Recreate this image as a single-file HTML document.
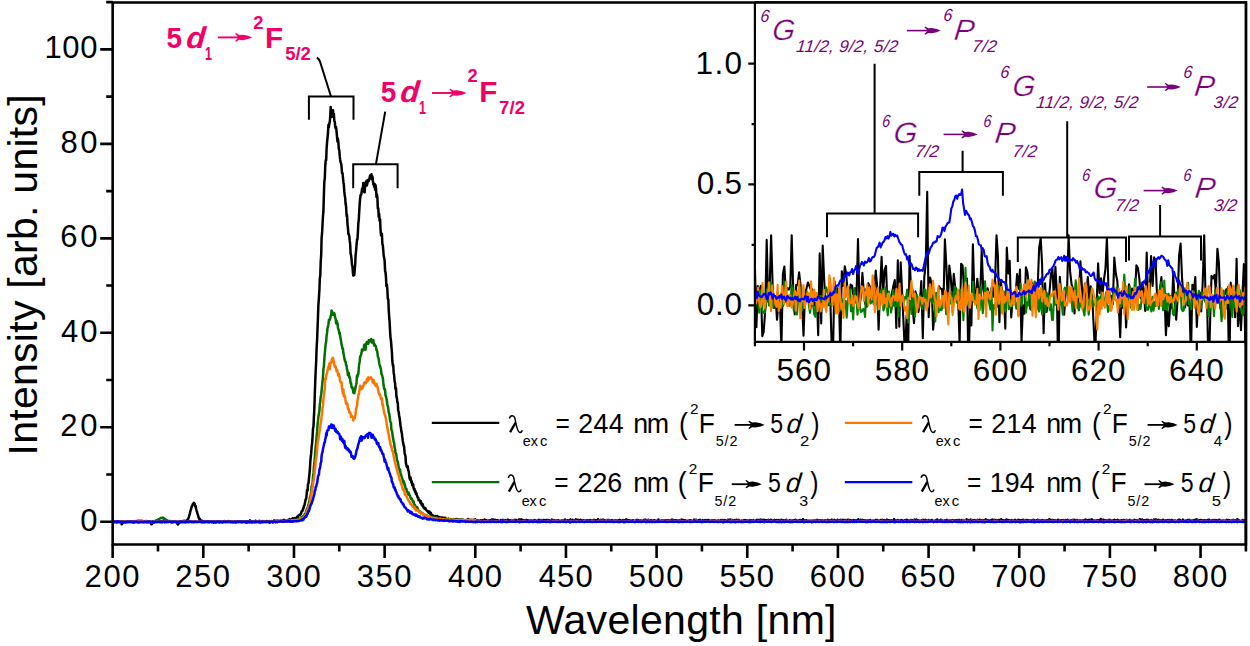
<!DOCTYPE html><html><head><meta charset="utf-8"><style>html,body{margin:0;padding:0;background:#fff;overflow:hidden}svg{display:block}text{font-family:"Liberation Sans",sans-serif}</style></head><body><svg width="1250" height="646" viewBox="0 0 1250 646" font-family="Liberation Sans, sans-serif">
<rect width="1250" height="646" fill="#fff"/>
<defs><clipPath id="cm"><rect x="112.65" y="2.5" width="1133.3" height="542"/></clipPath><clipPath id="ci"><rect x="754.9" y="2.5" width="491" height="339.3"/></clipPath></defs>
<g clip-path="url(#cm)">
<polyline points="112.7,521.8 113.1,521.3 113.6,521.3 114.0,522.0 114.5,521.9 114.9,522.0 115.4,521.6 115.8,521.8 116.3,521.5 116.7,522.5 117.2,521.2 117.6,521.8 118.1,521.5 118.5,521.9 119.0,521.9 119.4,521.6 119.9,521.5 120.4,522.1 120.8,522.6 121.3,523.2 121.7,524.3 122.2,524.0 122.6,522.4 123.1,522.3 123.5,522.6 124.0,522.1 124.4,522.0 124.9,522.3 125.3,522.4 125.8,521.8 126.2,521.5 126.7,521.9 127.2,522.1 127.6,521.7 128.1,521.5 128.5,521.9 129.0,521.6 129.4,521.4 129.9,521.9 130.3,522.1 130.8,521.7 131.2,521.7 131.7,521.4 132.1,522.3 132.6,522.1 133.0,522.1 133.5,522.5 134.0,521.8 134.4,521.6 134.9,522.1 135.3,521.3 135.8,521.5 136.2,521.6 136.7,521.6 137.1,521.4 137.6,522.3 138.0,521.6 138.5,521.6 138.9,522.5 139.4,521.7 139.8,521.9 140.3,521.5 140.8,522.0 141.2,521.8 141.7,521.7 142.1,522.1 142.6,521.6 143.0,521.8 143.5,521.6 143.9,522.0 144.4,521.4 144.8,521.6 145.3,521.9 145.7,521.6 146.2,521.3 146.6,521.1 147.1,522.4 147.6,521.5 148.0,521.6 148.5,521.8 148.9,522.2 149.4,521.3 149.8,522.3 150.3,521.8 150.7,522.2 151.2,524.2 151.6,524.3 152.1,524.1 152.5,522.6 153.0,521.5 153.4,521.1 153.9,522.5 154.4,522.0 154.8,521.5 155.3,521.2 155.7,521.6 156.2,522.1 156.6,521.7 157.1,521.8 157.5,521.9 158.0,522.1 158.4,521.7 158.9,521.7 159.3,521.8 159.8,521.9 160.2,522.3 160.7,522.0 161.2,521.3 161.6,521.9 162.1,522.3 162.5,521.3 163.0,521.6 163.4,521.0 163.9,521.8 164.3,522.0 164.8,522.3 165.2,521.3 165.7,520.8 166.1,522.1 166.6,522.0 167.0,521.6 167.5,522.1 168.0,521.9 168.4,521.9 168.9,521.7 169.3,521.4 169.8,521.8 170.2,521.5 170.7,522.0 171.1,521.7 171.6,522.6 172.0,522.3 172.5,521.5 172.9,522.0 173.4,521.6 173.8,521.6 174.3,521.3 174.8,521.5 175.2,521.4 175.7,521.8 176.1,522.1 176.6,522.3 177.0,522.8 177.5,524.1 177.9,524.4 178.4,523.7 178.8,522.6 179.3,522.2 179.7,522.6 180.2,521.8 180.6,521.7 181.1,521.4 181.6,521.6 182.0,522.0 182.5,522.1 182.9,521.0 183.4,521.4 183.8,521.0 184.3,520.8 184.7,521.9 185.2,521.3 185.6,521.1 186.1,520.8 186.5,520.5 187.0,520.2 187.4,519.6 187.9,519.8 188.4,518.1 188.8,517.4 189.3,515.5 189.7,514.4 190.2,512.1 190.6,510.2 191.1,508.9 191.5,507.2 192.0,505.9 192.4,505.1 192.9,504.0 193.3,503.7 193.8,502.8 194.2,503.4 194.7,503.7 195.1,506.3 195.6,505.8 196.1,508.7 196.5,510.3 197.0,511.7 197.4,513.6 197.9,514.5 198.3,516.5 198.8,518.0 199.2,518.9 199.7,518.6 200.1,519.9 200.6,521.1 201.0,520.9 201.5,521.9 201.9,520.6 202.4,522.2 202.9,521.4 203.3,521.5 203.8,522.3 204.2,521.6 204.7,521.4 205.1,521.6 205.6,521.7 206.0,521.4 206.5,521.7 206.9,521.7 207.4,521.8 207.8,521.6 208.3,522.2 208.7,521.5 209.2,522.0 209.7,522.2 210.1,521.7 210.6,521.2 211.0,521.4 211.5,522.0 211.9,521.5 212.4,522.0 212.8,521.8 213.3,521.8 213.7,522.7 214.2,521.7 214.6,522.2 215.1,522.1 215.5,522.4 216.0,522.4 216.5,522.2 216.9,521.5 217.4,521.2 217.8,521.8 218.3,521.4 218.7,521.9 219.2,522.5 219.6,521.7 220.1,521.6 220.5,522.0 221.0,521.7 221.4,521.6 221.9,522.1 222.3,522.4 222.8,521.9 223.3,521.9 223.7,521.9 224.2,521.4 224.6,521.1 225.1,522.0 225.5,521.5 226.0,521.4 226.4,521.5 226.9,521.4 227.3,521.9 227.8,521.5 228.2,521.0 228.7,521.5 229.1,522.0 229.6,521.6 230.1,521.3 230.5,521.7 231.0,522.0 231.4,521.2 231.9,522.3 232.3,521.6 232.8,521.8 233.2,522.3 233.7,521.3 234.1,521.7 234.6,522.2 235.0,521.6 235.5,522.0 235.9,522.5 236.4,522.1 236.9,521.7 237.3,521.6 237.8,521.7 238.2,521.8 238.7,521.6 239.1,521.9 239.6,521.4 240.0,521.7 240.5,521.7 240.9,521.6 241.4,522.2 241.8,522.1 242.3,521.2 242.7,521.7 243.2,521.9 243.7,521.7 244.1,522.0 244.6,521.7 245.0,522.1 245.5,521.7 245.9,522.4 246.4,521.3 246.8,522.0 247.3,522.4 247.7,521.9 248.2,521.9 248.6,521.7 249.1,522.2 249.5,521.6 250.0,520.4 250.5,522.3 250.9,521.7 251.4,521.9 251.8,521.7 252.3,522.5 252.7,522.2 253.2,521.6 253.6,521.8 254.1,521.2 254.5,522.1 255.0,521.7 255.4,520.7 255.9,522.1 256.3,522.1 256.8,521.8 257.3,521.8 257.7,521.5 258.2,521.8 258.6,522.1 259.1,521.7 259.5,520.8 260.0,521.3 260.4,522.9 260.9,521.8 261.3,522.1 261.8,521.5 262.2,521.8 262.7,521.0 263.1,521.4 263.6,521.4 264.1,521.7 264.5,521.7 265.0,521.6 265.4,521.2 265.9,521.5 266.3,521.8 266.8,521.1 267.2,521.6 267.7,521.7 268.1,521.9 268.6,521.8 269.0,521.8 269.5,522.8 269.9,521.1 270.4,521.3 270.8,521.6 271.3,521.0 271.8,521.3 272.2,521.3 272.7,522.5 273.1,521.5 273.6,521.1 274.0,520.6 274.5,520.5 274.9,520.6 275.4,521.8 275.8,522.2 276.3,520.9 276.7,521.2 277.2,520.7 277.6,521.2 278.1,521.0 278.6,521.8 279.0,520.8 279.5,521.2 279.9,520.8 280.4,520.7 280.8,520.9 281.3,520.7 281.7,520.8 282.2,520.4 282.6,520.5 283.1,521.0 283.5,521.0 284.0,519.8 284.4,520.6 284.9,520.1 285.4,520.3 285.8,520.8 286.3,520.8 286.7,520.3 287.2,520.2 287.6,520.0 288.1,520.9 288.5,520.4 289.0,520.1 289.4,519.1 289.9,521.1 290.3,519.5 290.8,519.9 291.2,519.3 291.7,519.6 292.2,519.0 292.6,518.2 293.1,518.8 293.5,518.6 294.0,518.5 294.4,518.9 294.9,518.0 295.3,518.3 295.8,518.5 296.2,517.8 296.7,517.7 297.1,516.8 297.6,517.0 298.0,517.1 298.5,515.5 299.0,515.4 299.4,514.8 299.9,514.8 300.3,514.6 300.8,514.0 301.2,513.1 301.7,511.2 302.1,510.7 302.6,510.8 303.0,508.6 303.5,508.5 303.9,505.9 304.4,505.5 304.8,503.9 305.3,501.0 305.8,499.2 306.2,498.5 306.7,493.9 307.1,489.9 307.6,490.6 308.0,484.1 308.5,483.3 308.9,479.2 309.4,474.3 309.8,470.7 310.3,462.0 310.7,457.3 311.2,453.2 311.6,447.0 312.1,443.3 312.6,436.3 313.0,428.7 313.5,426.2 313.9,417.1 314.4,407.7 314.8,394.1 315.3,379.7 315.7,370.7 316.2,360.6 316.6,348.4 317.1,339.8 317.5,329.3 318.0,316.2 318.4,304.8 318.9,297.8 319.4,289.6 319.8,279.1 320.3,275.1 320.7,261.8 321.2,254.8 321.6,238.1 322.1,232.7 322.5,224.8 323.0,216.0 323.4,211.7 323.9,194.5 324.3,182.2 324.8,178.2 325.2,166.7 325.7,160.2 326.2,160.1 326.6,148.5 327.1,141.6 327.5,138.0 328.0,132.7 328.4,125.1 328.9,127.1 329.3,123.8 329.8,121.6 330.2,117.3 330.7,106.9 331.1,109.9 331.6,117.1 332.0,112.7 332.5,113.7 333.0,110.2 333.4,116.4 333.9,113.7 334.3,121.2 334.8,121.5 335.2,126.6 335.7,128.4 336.1,127.0 336.6,132.1 337.0,136.5 337.5,141.6 337.9,138.6 338.4,142.8 338.8,148.6 339.3,150.4 339.8,156.7 340.2,159.9 340.7,162.8 341.1,163.3 341.6,167.0 342.0,173.1 342.5,173.2 342.9,176.9 343.4,182.2 343.8,184.2 344.3,191.4 344.7,195.1 345.2,198.1 345.6,203.8 346.1,206.6 346.6,216.0 347.0,214.6 347.5,224.3 347.9,227.4 348.4,234.3 348.8,233.9 349.3,236.2 349.7,240.4 350.2,244.6 350.6,253.4 351.1,255.5 351.5,258.9 352.0,265.0 352.4,265.9 352.9,272.4 353.3,275.6 353.8,274.8 354.3,275.0 354.7,270.1 355.2,264.1 355.6,255.4 356.1,250.8 356.5,245.5 357.0,239.6 357.4,239.8 357.9,232.3 358.3,223.7 358.8,219.5 359.2,211.8 359.7,203.4 360.1,198.8 360.6,195.0 361.1,194.8 361.5,193.4 362.0,188.8 362.4,190.7 362.9,187.5 363.3,183.0 363.8,185.8 364.2,191.9 364.7,192.4 365.1,186.0 365.6,182.4 366.0,182.3 366.5,180.8 366.9,185.5 367.4,183.3 367.9,180.1 368.3,181.4 368.8,180.8 369.2,179.4 369.7,177.7 370.1,175.5 370.6,178.3 371.0,176.8 371.5,174.3 371.9,179.3 372.4,176.5 372.8,179.9 373.3,184.4 373.7,183.8 374.2,186.9 374.7,184.1 375.1,189.8 375.6,185.2 376.0,188.5 376.5,197.0 376.9,194.5 377.4,197.6 377.8,208.5 378.3,208.3 378.7,216.6 379.2,213.7 379.6,220.7 380.1,219.5 380.5,229.0 381.0,235.5 381.5,233.5 381.9,233.8 382.4,244.2 382.8,245.1 383.3,250.7 383.7,255.8 384.2,258.0 384.6,260.3 385.1,271.1 385.5,272.2 386.0,277.6 386.4,286.1 386.9,284.6 387.3,288.4 387.8,299.0 388.3,299.1 388.7,309.3 389.2,317.3 389.6,321.9 390.1,331.6 390.5,337.6 391.0,340.9 391.4,346.4 391.9,352.0 392.3,360.7 392.8,365.4 393.2,364.9 393.7,372.7 394.1,375.0 394.6,381.1 395.1,383.5 395.5,389.1 396.0,388.1 396.4,396.1 396.9,398.2 397.3,401.9 397.8,403.2 398.2,410.6 398.7,411.9 399.1,415.5 399.6,417.7 400.0,421.0 400.5,425.5 400.9,427.7 401.4,431.6 401.9,433.5 402.3,437.3 402.8,441.0 403.2,443.2 403.7,445.7 404.1,446.3 404.6,452.9 405.0,454.8 405.5,456.1 405.9,463.1 406.4,465.1 406.8,466.6 407.3,467.3 407.7,466.1 408.2,470.3 408.7,471.1 409.1,474.3 409.6,478.3 410.0,479.6 410.5,477.4 410.9,479.6 411.4,482.6 411.8,481.3 412.3,485.3 412.7,483.8 413.2,484.7 413.6,488.2 414.1,489.7 414.5,488.9 415.0,491.9 415.5,491.1 415.9,494.1 416.4,493.2 416.8,494.9 417.3,496.3 417.7,497.7 418.2,497.5 418.6,500.3 419.1,499.7 419.5,500.6 420.0,500.5 420.4,502.9 420.9,501.2 421.3,503.7 421.8,505.1 422.3,503.7 422.7,504.2 423.2,506.4 423.6,507.6 424.1,507.5 424.5,508.7 425.0,509.0 425.4,508.1 425.9,509.5 426.3,510.2 426.8,510.5 427.2,511.2 427.7,511.0 428.1,511.4 428.6,512.7 429.0,512.8 429.5,511.6 430.0,513.4 430.4,514.1 430.9,513.0 431.3,514.7 431.8,515.7 432.2,514.8 432.7,516.1 433.1,516.1 433.6,515.8 434.0,516.2 434.5,516.8 434.9,516.8 435.4,517.0 435.8,516.1 436.3,517.4 436.8,517.4 437.2,516.0 437.7,517.7 438.1,516.6 438.6,516.8 439.0,517.8 439.5,518.6 439.9,517.6 440.4,517.6 440.8,517.5 441.3,518.1 441.7,517.6 442.2,517.5 442.6,519.0 443.1,517.7 443.6,518.4 444.0,518.9 444.5,518.9 444.9,517.7 445.4,518.2 445.8,519.9 446.3,518.9 446.7,519.1 447.2,519.1 447.6,519.4 448.1,520.0 448.5,518.7 449.0,519.8 449.4,519.5 449.9,519.7 450.4,519.8 450.8,519.0 451.3,519.3 451.7,519.9 452.2,520.1 452.6,519.9 453.1,519.1 453.5,519.6 454.0,519.6 454.4,519.9 454.9,519.9 455.3,519.7 455.8,520.8 456.2,519.0 456.7,520.3 457.2,520.2 457.6,519.2 458.1,519.8 458.5,519.9 459.0,520.3 459.4,520.8 459.9,519.9 460.3,519.4 460.8,520.5 461.2,519.4 461.7,520.7 462.1,520.5 462.6,519.9 463.0,520.1 463.5,519.8 464.0,520.6 464.4,520.7 464.9,521.2 465.3,520.8 465.8,520.8 466.2,521.0 466.7,520.1 467.1,520.6 467.6,521.3 468.0,519.0 468.5,520.7 468.9,521.0 469.4,519.7 469.8,519.7 470.3,520.9 470.8,521.1 471.2,520.9 471.7,519.8 472.1,520.5 472.6,520.8 473.0,520.4 473.5,519.8 473.9,521.1 474.4,520.6 474.8,521.1 475.3,519.3 475.7,519.7 476.2,520.1 476.6,520.7 477.1,520.3 477.6,521.7 478.0,520.5 478.5,521.3 478.9,521.3 479.4,521.0 479.8,520.8 480.3,520.3 480.7,520.3 481.2,520.5 481.6,521.1 482.1,520.3 482.5,520.7 483.0,520.0 483.4,521.1 483.9,522.0 484.4,520.9 484.8,519.6 485.3,520.4 485.7,520.7 486.2,520.2 486.6,520.4 487.1,520.4 487.5,520.9 488.0,520.6 488.4,520.5 488.9,520.9 489.3,521.2 489.8,520.5 490.2,520.1 490.7,520.3 491.2,520.4 491.6,520.4 492.1,519.3 492.5,520.5 493.0,520.1 493.4,519.6 493.9,520.6 494.3,520.5 494.8,520.1 495.2,519.8 495.7,520.5 496.1,520.4 496.6,520.6 497.0,521.2 497.5,520.1 498.0,520.7 498.4,521.5 498.9,520.7 499.3,521.5 499.8,521.1 500.2,520.6 500.7,521.1 501.1,520.1 501.6,521.3 502.0,520.5 502.5,520.3 502.9,519.9 503.4,520.2 503.8,520.5 504.3,520.6 504.8,520.6 505.2,520.0 505.7,520.9 506.1,520.4 506.6,520.7 507.0,520.5 507.5,520.7 507.9,519.6 508.4,520.9 508.8,520.5 509.3,520.5 509.7,520.3 510.2,520.4 510.6,520.4 511.1,520.1 511.5,521.4 512.0,520.6 512.5,521.2 512.9,520.5 513.4,521.2 513.8,521.1 514.3,520.6 514.7,519.9 515.2,520.3 515.6,520.5 516.1,519.9 516.5,521.1 517.0,521.7 517.4,520.8 517.9,520.8 518.3,520.0 518.8,519.6 519.3,521.3 519.7,519.4 520.2,519.8 520.6,520.2 521.1,520.4 521.5,519.4 522.0,520.6 522.4,520.8 522.9,520.5 523.3,521.3 523.8,520.4 524.2,520.7 524.7,520.4 525.1,520.4 525.6,521.1 526.1,520.0 526.5,521.1 527.0,520.2 527.4,521.4 527.9,520.4 528.3,521.0 528.8,520.6 529.2,520.9 529.7,521.7 530.1,521.2 530.6,520.6 531.0,520.3 531.5,521.3 531.9,521.7 532.4,521.0 532.9,520.7 533.3,520.9 533.8,521.0 534.2,520.2 534.7,520.1 535.1,520.2 535.6,521.1 536.0,520.6 536.5,520.7 536.9,521.3 537.4,520.2 537.8,520.6 538.3,520.9 538.7,519.9 539.2,520.2 539.7,520.2 540.1,520.0 540.6,520.3 541.0,521.2 541.5,520.8 541.9,520.1 542.4,521.0 542.8,520.6 543.3,520.4 543.7,519.9 544.2,520.0 544.6,520.2 545.1,520.7 545.5,520.2 546.0,520.3 546.5,520.7 546.9,519.9 547.4,520.4 547.8,521.0 548.3,520.0 548.7,520.7 549.2,520.3 549.6,521.4 550.1,520.6 550.5,521.1 551.0,521.1 551.4,521.6 551.9,519.6 552.3,520.7 552.8,520.5 553.3,520.1 553.7,520.7 554.2,520.4 554.6,521.3 555.1,520.5 555.5,520.8 556.0,520.4 556.4,520.5 556.9,521.3 557.3,521.5 557.8,521.1 558.2,520.2 558.7,520.4 559.1,520.4 559.6,521.6 560.1,521.9 560.5,520.9 561.0,520.8 561.4,520.9 561.9,520.4 562.3,520.7 562.8,521.2 563.2,521.1 563.7,520.5 564.1,520.6 564.6,520.7 565.0,519.5 565.5,520.7 565.9,520.6 566.4,521.1 566.9,520.8 567.3,520.4 567.8,520.3 568.2,520.7 568.7,520.4 569.1,520.6 569.6,521.6 570.0,522.2 570.5,519.5 570.9,520.2 571.4,520.6 571.8,521.5 572.3,521.3 572.7,519.9 573.2,522.0 573.7,520.8 574.1,520.2 574.6,520.5 575.0,520.2 575.5,520.7 575.9,519.4 576.4,521.1 576.8,521.3 577.3,520.5 577.7,519.9 578.2,520.6 578.6,520.1 579.1,520.9 579.5,521.2 580.0,519.9 580.5,519.8 580.9,519.9 581.4,520.8 581.8,521.2 582.3,521.2 582.7,520.7 583.2,520.3 583.6,520.4 584.1,521.3 584.5,520.5 585.0,520.6 585.4,520.6 585.9,520.6 586.3,520.7 586.8,520.3 587.2,520.6 587.7,520.5 588.2,521.0 588.6,520.4 589.1,520.7 589.5,521.7 590.0,520.4 590.4,520.7 590.9,520.2 591.3,520.7 591.8,520.7 592.2,520.5 592.7,520.6 593.1,520.8 593.6,521.5 594.0,519.7 594.5,521.4 595.0,520.8 595.4,520.3 595.9,520.4 596.3,520.3 596.8,520.2 597.2,520.0 597.7,520.5 598.1,519.2 598.6,521.1 599.0,520.5 599.5,520.8 599.9,520.9 600.4,520.5 600.8,519.9 601.3,521.0 601.8,521.0 602.2,520.3 602.7,520.3 603.1,519.6 603.6,520.1 604.0,520.5 604.5,520.8 604.9,520.5 605.4,520.7 605.8,521.3 606.3,520.6 606.7,520.7 607.2,520.7 607.6,520.8 608.1,519.8 608.6,520.3 609.0,520.2 609.5,520.9 609.9,521.1 610.4,520.8 610.8,520.5 611.3,520.8 611.7,520.7 612.2,520.1 612.6,520.5 613.1,521.1 613.5,520.8 614.0,520.9 614.4,520.5 614.9,521.2 615.4,520.7 615.8,520.3 616.3,520.6 616.7,521.1 617.2,520.9 617.6,520.6 618.1,520.4 618.5,520.2 619.0,520.7 619.4,521.3 619.9,519.9 620.3,520.5 620.8,520.4 621.2,520.5 621.7,521.1 622.2,520.8 622.6,520.5 623.1,520.1 623.5,520.6 624.0,522.2 624.4,520.7 624.9,520.4 625.3,520.0 625.8,520.3 626.2,519.4 626.7,519.9 627.1,520.0 627.6,520.2 628.0,521.3 628.5,520.2 629.0,520.3 629.4,520.9 629.9,520.3 630.3,520.4 630.8,520.8 631.2,520.7 631.7,520.7 632.1,520.5 632.6,520.8 633.0,520.3 633.5,521.6 633.9,520.8 634.4,521.5 634.8,520.9 635.3,520.4 635.8,520.6 636.2,520.7 636.7,520.6 637.1,519.8 637.6,521.2 638.0,520.2 638.5,521.4 638.9,520.9 639.4,520.5 639.8,521.0 640.3,520.5 640.7,520.3 641.2,521.2 641.6,520.7 642.1,520.8 642.6,521.6 643.0,520.7 643.5,521.0 643.9,520.0 644.4,521.1 644.8,519.8 645.3,520.9 645.7,519.7 646.2,520.4 646.6,520.4 647.1,520.2 647.5,520.2 648.0,519.9 648.4,519.8 648.9,520.8 649.4,521.2 649.8,521.9 650.3,520.8 650.7,520.2 651.2,520.4 651.6,520.6 652.1,520.8 652.5,520.9 653.0,520.8 653.4,520.4 653.9,521.5 654.3,520.3 654.8,521.3 655.2,520.7 655.7,520.9 656.2,520.8 656.6,521.1 657.1,521.2 657.5,520.7 658.0,521.2 658.4,519.4 658.9,520.8 659.3,520.9 659.8,520.9 660.2,521.2 660.7,521.8 661.1,520.7 661.6,520.5 662.0,521.4 662.5,520.6 663.0,521.2 663.4,520.6 663.9,520.4 664.3,520.4 664.8,520.4 665.2,521.0 665.7,520.2 666.1,520.8 666.6,520.4 667.0,520.3 667.5,520.8 667.9,521.3 668.4,520.3 668.8,521.2 669.3,521.1 669.7,521.2 670.2,520.2 670.7,520.7 671.1,521.7 671.6,520.3 672.0,519.6 672.5,519.7 672.9,520.9 673.4,520.6 673.8,520.4 674.3,520.2 674.7,520.6 675.2,521.2 675.6,520.2 676.1,520.3 676.5,521.3 677.0,520.8 677.5,520.5 677.9,520.6 678.4,520.4 678.8,520.2 679.3,520.4 679.7,520.7 680.2,521.3 680.6,520.3 681.1,519.9 681.5,519.6 682.0,520.6 682.4,520.6 682.9,519.9 683.3,519.9 683.8,520.5 684.3,520.3 684.7,521.0 685.2,520.3 685.6,521.0 686.1,520.7 686.5,520.7 687.0,520.9 687.4,521.7 687.9,521.0 688.3,520.5 688.8,520.7 689.2,520.8 689.7,520.4 690.1,520.3 690.6,520.2 691.1,521.0 691.5,520.6 692.0,520.8 692.4,521.1 692.9,521.4 693.3,520.7 693.8,521.1 694.2,519.6 694.7,520.7 695.1,520.7 695.6,520.8 696.0,519.7 696.5,521.1 696.9,520.7 697.4,521.0 697.9,520.7 698.3,520.6 698.8,520.1 699.2,521.3 699.7,520.6 700.1,519.8 700.6,520.9 701.0,520.7 701.5,521.1 701.9,521.9 702.4,520.7 702.8,520.0 703.3,520.9 703.7,521.5 704.2,520.5 704.7,520.6 705.1,520.1 705.6,520.2 706.0,520.8 706.5,520.4 706.9,521.5 707.4,520.1 707.8,520.5 708.3,520.1 708.7,520.1 709.2,520.8 709.6,520.7 710.1,521.1 710.5,521.7 711.0,520.7 711.5,520.6 711.9,521.2 712.4,520.3 712.8,520.6 713.3,520.4 713.7,521.0 714.2,521.5 714.6,520.2 715.1,520.3 715.5,520.7 716.0,520.8 716.4,520.8 716.9,520.7 717.3,520.9 717.8,521.6 718.3,520.2 718.7,521.4 719.2,520.8 719.6,520.8 720.1,520.5 720.5,521.4 721.0,520.0 721.4,520.3 721.9,520.2 722.3,520.0 722.8,521.0 723.2,522.2 723.7,520.5 724.1,520.0 724.6,520.0 725.1,520.9 725.5,520.7 726.0,520.5 726.4,521.5 726.9,521.0 727.3,520.9 727.8,519.8 728.2,520.9 728.7,519.8 729.1,520.6 729.6,521.5 730.0,519.5 730.5,521.1 730.9,520.3 731.4,519.8 731.9,520.9 732.3,521.2 732.8,520.1 733.2,520.6 733.7,521.2 734.1,521.2 734.6,520.8 735.0,520.1 735.5,520.8 735.9,520.3 736.4,519.8 736.8,520.0 737.3,519.9 737.7,520.0 738.2,521.4 738.7,520.0 739.1,520.5 739.6,520.7 740.0,521.2 740.5,521.4 740.9,521.2 741.4,520.6 741.8,521.2 742.3,521.0 742.7,520.9 743.2,520.3 743.6,520.8 744.1,520.7 744.5,520.0 745.0,520.8 745.4,520.3 745.9,521.1 746.4,520.5 746.8,520.6 747.3,520.5 747.7,520.9 748.2,521.1 748.6,520.8 749.1,520.9 749.5,520.1 750.0,520.2 750.4,521.2 750.9,520.3 751.3,520.9 751.8,520.4 752.2,520.9 752.7,521.3 753.2,520.1 753.6,520.4 754.1,521.2 754.5,521.6 755.0,520.9 755.4,521.2 755.9,520.8 756.3,520.3 756.8,519.9 757.2,520.8 757.7,519.9 758.1,520.0 758.6,520.8 759.0,521.4 759.5,520.2 760.0,520.3 760.4,519.5 760.9,519.9 761.3,520.2 761.8,519.8 762.2,521.1 762.7,520.5 763.1,520.8 763.6,519.8 764.0,520.3 764.5,522.1 764.9,519.9 765.4,521.1 765.8,520.2 766.3,520.9 766.8,520.5 767.2,520.3 767.7,520.5 768.1,521.1 768.6,519.9 769.0,520.4 769.5,520.6 769.9,520.3 770.4,520.9 770.8,519.7 771.3,520.5 771.7,520.4 772.2,520.4 772.6,521.1 773.1,521.2 773.6,520.5 774.0,520.4 774.5,519.9 774.9,520.4 775.4,521.1 775.8,520.3 776.3,520.2 776.7,520.1 777.2,520.4 777.6,521.2 778.1,520.0 778.5,521.0 779.0,520.3 779.4,521.4 779.9,520.2 780.4,521.0 780.8,520.1 781.3,519.7 781.7,520.0 782.2,521.2 782.6,521.1 783.1,521.0 783.5,520.3 784.0,520.4 784.4,520.5 784.9,520.5 785.3,520.3 785.8,520.3 786.2,519.8 786.7,520.6 787.2,520.5 787.6,521.5 788.1,521.3 788.5,521.0 789.0,521.2 789.4,520.5 789.9,520.1 790.3,520.8 790.8,520.9 791.2,520.9 791.7,520.5 792.1,520.9 792.6,520.4 793.0,520.5 793.5,520.4 794.0,520.2 794.4,520.6 794.9,520.5 795.3,519.7 795.8,520.6 796.2,520.2 796.7,520.6 797.1,520.8 797.6,520.8 798.0,521.0 798.5,520.6 798.9,520.9 799.4,520.8 799.8,520.0 800.3,520.7 800.8,520.1 801.2,520.5 801.7,520.2 802.1,520.9 802.6,520.5 803.0,519.3 803.5,520.2 803.9,520.1 804.4,520.5 804.8,520.2 805.3,521.2 805.7,521.0 806.2,520.4 806.6,520.2 807.1,520.8 807.6,520.7 808.0,520.8 808.5,520.7 808.9,521.2 809.4,521.3 809.8,520.7 810.3,521.5 810.7,521.1 811.2,521.0 811.6,521.1 812.1,520.5 812.5,520.8 813.0,520.7 813.4,521.1 813.9,521.0 814.4,520.4 814.8,520.4 815.3,520.9 815.7,520.4 816.2,520.5 816.6,520.6 817.1,519.8 817.5,520.8 818.0,520.4 818.4,520.4 818.9,520.7 819.3,521.2 819.8,520.3 820.2,520.5 820.7,520.6 821.2,520.6 821.6,520.6 822.1,521.1 822.5,520.5 823.0,521.5 823.4,520.7 823.9,521.4 824.3,520.8 824.8,520.3 825.2,520.8 825.7,520.9 826.1,520.4 826.6,520.8 827.0,520.8 827.5,520.8 827.9,519.9 828.4,520.3 828.9,520.4 829.3,521.2 829.8,520.3 830.2,521.3 830.7,520.4 831.1,521.2 831.6,519.7 832.0,521.5 832.5,520.0 832.9,520.3 833.4,521.5 833.8,520.8 834.3,519.9 834.7,520.1 835.2,521.5 835.7,520.9 836.1,521.2 836.6,521.2 837.0,521.0 837.5,519.7 837.9,520.6 838.4,520.8 838.8,520.8 839.3,520.3 839.7,520.3 840.2,521.1 840.6,519.9 841.1,521.2 841.5,520.8 842.0,520.4 842.5,519.8 842.9,520.8 843.4,520.5 843.8,520.0 844.3,520.3 844.7,520.1 845.2,520.1 845.6,520.5 846.1,520.3 846.5,520.2 847.0,520.7 847.4,519.9 847.9,521.6 848.3,521.1 848.8,519.9 849.3,520.4 849.7,521.0 850.2,520.5 850.6,520.1 851.1,520.9 851.5,520.3 852.0,520.7 852.4,520.7 852.9,520.7 853.3,520.1 853.8,521.2 854.2,520.8 854.7,520.3 855.1,521.3 855.6,521.4 856.1,520.4 856.5,520.6 857.0,520.7 857.4,520.6 857.9,521.1 858.3,519.2 858.8,521.1 859.2,520.9 859.7,521.4 860.1,520.9 860.6,519.9 861.0,520.6 861.5,520.4 861.9,520.9 862.4,519.8 862.9,520.6 863.3,521.3 863.8,520.3 864.2,520.8 864.7,520.3 865.1,520.6 865.6,520.5 866.0,520.6 866.5,521.1 866.9,521.4 867.4,520.2 867.8,520.7 868.3,520.5 868.7,520.9 869.2,521.7 869.7,521.3 870.1,520.0 870.6,521.0 871.0,520.8 871.5,521.4 871.9,520.9 872.4,520.8 872.8,520.8 873.3,520.7 873.7,521.0 874.2,520.9 874.6,520.7 875.1,520.5 875.5,520.7 876.0,519.8 876.5,520.6 876.9,520.6 877.4,521.0 877.8,520.1 878.3,521.2 878.7,521.5 879.2,521.1 879.6,520.3 880.1,521.2 880.5,520.0 881.0,520.7 881.4,521.4 881.9,520.8 882.3,519.8 882.8,521.1 883.3,521.3 883.7,520.4 884.2,520.0 884.6,520.2 885.1,520.8 885.5,520.6 886.0,520.5 886.4,520.1 886.9,519.6 887.3,520.7 887.8,520.0 888.2,520.8 888.7,520.4 889.1,521.1 889.6,521.0 890.1,520.4 890.5,521.1 891.0,520.2 891.4,520.9 891.9,520.6 892.3,520.7 892.8,520.8 893.2,520.6 893.7,520.1 894.1,519.1 894.6,521.2 895.0,520.5 895.5,520.7 895.9,521.1 896.4,520.5 896.9,521.1 897.3,520.7 897.8,520.0 898.2,521.7 898.7,520.5 899.1,520.4 899.6,521.1 900.0,520.4 900.5,520.5 900.9,520.8 901.4,520.1 901.8,521.3 902.3,520.3 902.7,520.8 903.2,521.2 903.6,520.7 904.1,520.8 904.6,520.2 905.0,521.4 905.5,520.8 905.9,520.9 906.4,519.9 906.8,521.2 907.3,520.1 907.7,521.5 908.2,520.5 908.6,520.7 909.1,520.5 909.5,521.0 910.0,521.6 910.4,521.4 910.9,520.0 911.4,520.6 911.8,521.1 912.3,520.2 912.7,521.0 913.2,521.0 913.6,521.3 914.1,520.1 914.5,519.7 915.0,521.1 915.4,520.5 915.9,520.2 916.3,519.6 916.8,521.9 917.2,520.6 917.7,520.3 918.2,521.4 918.6,520.5 919.1,520.6 919.5,520.3 920.0,521.0 920.4,520.5 920.9,521.0 921.3,520.4 921.8,520.6 922.2,520.9 922.7,521.4 923.1,519.8 923.6,520.1 924.0,520.2 924.5,521.0 925.0,520.8 925.4,519.8 925.9,520.3 926.3,521.1 926.8,520.6 927.2,520.6 927.7,520.8 928.1,521.1 928.6,520.0 929.0,520.4 929.5,520.8 929.9,521.4 930.4,521.0 930.8,520.7 931.3,520.2 931.8,520.8 932.2,520.1 932.7,520.6 933.1,521.0 933.6,522.0 934.0,521.2 934.5,521.4 934.9,520.7 935.4,520.5 935.8,520.0 936.3,520.7 936.7,521.2 937.2,519.5 937.6,520.5 938.1,520.8 938.6,520.8 939.0,521.3 939.5,520.3 939.9,520.5 940.4,519.9 940.8,520.1 941.3,520.2 941.7,520.0 942.2,520.8 942.6,520.9 943.1,520.7 943.5,521.3 944.0,520.7 944.4,520.8 944.9,520.3 945.4,520.7 945.8,521.6 946.3,520.6 946.7,519.9 947.2,521.6 947.6,521.0 948.1,520.6 948.5,521.3 949.0,520.9 949.4,520.6 949.9,521.3 950.3,520.5 950.8,520.4 951.2,521.3 951.7,520.6 952.2,520.1 952.6,520.7 953.1,520.4 953.5,520.3 954.0,520.8 954.4,520.2 954.9,520.4 955.3,521.1 955.8,520.4 956.2,520.2 956.7,520.2 957.1,521.0 957.6,520.4 958.0,520.0 958.5,520.5 959.0,520.0 959.4,520.0 959.9,520.7 960.3,520.3 960.8,520.8 961.2,520.1 961.7,520.7 962.1,520.9 962.6,520.6 963.0,520.7 963.5,520.4 963.9,520.4 964.4,521.2 964.8,521.0 965.3,520.5 965.8,520.4 966.2,520.6 966.7,519.3 967.1,520.1 967.6,520.7 968.0,520.3 968.5,520.0 968.9,520.4 969.4,521.5 969.8,520.6 970.3,520.6 970.7,519.6 971.2,521.5 971.6,519.9 972.1,520.7 972.6,520.2 973.0,520.8 973.5,520.5 973.9,520.1 974.4,520.6 974.8,520.1 975.3,520.7 975.7,520.8 976.2,520.7 976.6,520.9 977.1,520.7 977.5,519.9 978.0,521.2 978.4,521.4 978.9,520.6 979.4,519.8 979.8,520.1 980.3,520.0 980.7,520.0 981.2,521.0 981.6,520.6 982.1,521.9 982.5,520.9 983.0,520.3 983.4,521.4 983.9,521.6 984.3,521.3 984.8,520.5 985.2,520.0 985.7,519.3 986.1,519.9 986.6,521.4 987.1,521.8 987.5,520.5 988.0,520.1 988.4,521.4 988.9,520.9 989.3,520.8 989.8,520.6 990.2,520.7 990.7,520.3 991.1,520.1 991.6,520.6 992.0,520.2 992.5,519.6 992.9,521.1 993.4,521.1 993.9,520.3 994.3,519.7 994.8,520.5 995.2,520.0 995.7,520.7 996.1,520.1 996.6,520.9 997.0,520.2 997.5,520.4 997.9,520.4 998.4,519.9 998.8,520.0 999.3,520.9 999.7,520.1 1000.2,521.4 1000.7,520.1 1001.1,519.2 1001.6,520.3 1002.0,520.3 1002.5,520.5 1002.9,520.2 1003.4,520.8 1003.8,520.2 1004.3,520.7 1004.7,520.8 1005.2,520.5 1005.6,520.6 1006.1,521.4 1006.5,519.5 1007.0,520.5 1007.5,521.4 1007.9,520.0 1008.4,520.6 1008.8,520.5 1009.3,520.2 1009.7,521.0 1010.2,522.0 1010.6,520.6 1011.1,520.4 1011.5,520.1 1012.0,520.9 1012.4,520.7 1012.9,520.4 1013.3,520.7 1013.8,520.7 1014.3,520.4 1014.7,521.1 1015.2,519.8 1015.6,521.0 1016.1,520.5 1016.5,520.7 1017.0,520.9 1017.4,520.3 1017.9,520.1 1018.3,519.8 1018.8,520.3 1019.2,520.8 1019.7,520.1 1020.1,521.3 1020.6,520.5 1021.1,520.3 1021.5,520.3 1022.0,521.1 1022.4,521.3 1022.9,519.7 1023.3,520.8 1023.8,521.4 1024.2,521.2 1024.7,520.6 1025.1,520.0 1025.6,520.6 1026.0,520.0 1026.5,520.5 1026.9,520.3 1027.4,520.1 1027.9,520.8 1028.3,520.4 1028.8,520.8 1029.2,520.9 1029.7,520.2 1030.1,521.0 1030.6,520.5 1031.0,521.0 1031.5,520.6 1031.9,520.8 1032.4,520.0 1032.8,520.5 1033.3,520.5 1033.7,519.8 1034.2,522.0 1034.7,521.1 1035.1,521.9 1035.6,520.6 1036.0,520.4 1036.5,520.3 1036.9,520.5 1037.4,521.0 1037.8,519.7 1038.3,520.4 1038.7,520.7 1039.2,521.2 1039.6,520.4 1040.1,520.8 1040.5,520.8 1041.0,520.5 1041.5,520.5 1041.9,521.0 1042.4,520.0 1042.8,521.1 1043.3,521.2 1043.7,520.5 1044.2,520.5 1044.6,520.6 1045.1,520.8 1045.5,520.6 1046.0,520.9 1046.4,521.4 1046.9,520.2 1047.3,521.1 1047.8,520.7 1048.3,520.2 1048.7,520.6 1049.2,519.2 1049.6,521.3 1050.1,521.0 1050.5,520.6 1051.0,519.9 1051.4,520.7 1051.9,521.3 1052.3,520.0 1052.8,521.1 1053.2,520.7 1053.7,520.2 1054.1,520.9 1054.6,520.8 1055.1,520.4 1055.5,520.7 1056.0,520.5 1056.4,521.1 1056.9,520.7 1057.3,521.2 1057.8,521.4 1058.2,519.7 1058.7,520.4 1059.1,520.2 1059.6,521.1 1060.0,520.6 1060.5,520.7 1060.9,521.3 1061.4,520.3 1061.8,521.0 1062.3,520.7 1062.8,521.4 1063.2,520.1 1063.7,520.2 1064.1,520.4 1064.6,521.1 1065.0,520.9 1065.5,520.0 1065.9,520.8 1066.4,520.5 1066.8,520.5 1067.3,521.2 1067.7,519.9 1068.2,521.6 1068.6,520.5 1069.1,520.7 1069.6,521.4 1070.0,520.5 1070.5,520.4 1070.9,520.6 1071.4,521.0 1071.8,520.4 1072.3,520.1 1072.7,520.5 1073.2,519.8 1073.6,520.2 1074.1,520.2 1074.5,519.9 1075.0,520.9 1075.4,520.9 1075.9,520.4 1076.4,520.4 1076.8,519.9 1077.3,520.0 1077.7,520.5 1078.2,520.5 1078.6,520.8 1079.1,520.8 1079.5,520.8 1080.0,520.2 1080.4,520.8 1080.9,520.8 1081.3,520.5 1081.8,520.9 1082.2,520.7 1082.7,521.7 1083.2,520.4 1083.6,520.8 1084.1,520.5 1084.5,520.4 1085.0,521.5 1085.4,519.4 1085.9,520.5 1086.3,520.5 1086.8,521.5 1087.2,520.3 1087.7,520.4 1088.1,520.8 1088.6,520.4 1089.0,519.9 1089.5,520.7 1090.0,521.0 1090.4,519.9 1090.9,520.4 1091.3,520.6 1091.8,519.4 1092.2,520.5 1092.7,520.6 1093.1,520.4 1093.6,520.7 1094.0,520.4 1094.5,520.5 1094.9,520.9 1095.4,520.7 1095.8,520.4 1096.3,520.4 1096.8,520.3 1097.2,520.2 1097.7,520.4 1098.1,520.3 1098.6,520.7 1099.0,520.7 1099.5,520.0 1099.9,521.5 1100.4,520.4 1100.8,519.0 1101.3,521.5 1101.7,519.8 1102.2,521.4 1102.6,520.4 1103.1,519.8 1103.6,519.8 1104.0,521.0 1104.5,521.2 1104.9,521.3 1105.4,520.2 1105.8,520.8 1106.3,520.6 1106.7,520.5 1107.2,520.4 1107.6,520.3 1108.1,520.5 1108.5,521.4 1109.0,519.9 1109.4,522.0 1109.9,520.0 1110.4,520.9 1110.8,520.7 1111.3,520.9 1111.7,520.8 1112.2,520.6 1112.6,520.7 1113.1,521.1 1113.5,520.2 1114.0,520.9 1114.4,519.9 1114.9,520.7 1115.3,521.0 1115.8,520.4 1116.2,520.2 1116.7,521.1 1117.2,520.7 1117.6,519.9 1118.1,521.1 1118.5,521.0 1119.0,520.5 1119.4,521.2 1119.9,521.8 1120.3,521.4 1120.8,520.4 1121.2,520.3 1121.7,520.3 1122.1,520.4 1122.6,521.2 1123.0,520.3 1123.5,520.0 1124.0,520.9 1124.4,520.1 1124.9,520.8 1125.3,520.5 1125.8,520.4 1126.2,521.3 1126.7,519.9 1127.1,521.0 1127.6,520.6 1128.0,520.8 1128.5,520.4 1128.9,520.4 1129.4,520.6 1129.8,519.9 1130.3,520.5 1130.8,520.8 1131.2,522.0 1131.7,520.7 1132.1,520.7 1132.6,521.0 1133.0,521.0 1133.5,520.3 1133.9,520.1 1134.4,519.7 1134.8,520.0 1135.3,520.9 1135.7,520.5 1136.2,521.3 1136.6,520.2 1137.1,520.4 1137.5,520.9 1138.0,520.7 1138.5,520.7 1138.9,520.9 1139.4,519.9 1139.8,519.1 1140.3,520.2 1140.7,520.1 1141.2,520.5 1141.6,520.8 1142.1,519.5 1142.5,520.8 1143.0,520.4 1143.4,520.7 1143.9,520.3 1144.3,520.6 1144.8,520.3 1145.3,521.2 1145.7,520.6 1146.2,519.9 1146.6,521.1 1147.1,520.9 1147.5,519.9 1148.0,520.4 1148.4,520.1 1148.9,521.7 1149.3,520.5 1149.8,521.2 1150.2,521.3 1150.7,520.4 1151.1,520.0 1151.6,521.3 1152.1,521.1 1152.5,520.9 1153.0,520.7 1153.4,521.3 1153.9,519.5 1154.3,520.3 1154.8,520.8 1155.2,520.9 1155.7,519.4 1156.1,519.5 1156.6,520.8 1157.0,520.4 1157.5,520.0 1157.9,521.2 1158.4,520.9 1158.9,519.9 1159.3,520.9 1159.8,520.8 1160.2,521.3 1160.7,521.0 1161.1,520.3 1161.6,521.0 1162.0,521.3 1162.5,520.9 1162.9,519.7 1163.4,520.5 1163.8,520.9 1164.3,520.5 1164.7,520.4 1165.2,520.5 1165.7,521.5 1166.1,520.5 1166.6,520.7 1167.0,520.2 1167.5,521.3 1167.9,520.1 1168.4,520.9 1168.8,521.5 1169.3,520.0 1169.7,520.9 1170.2,520.4 1170.6,520.7 1171.1,520.1 1171.5,520.1 1172.0,520.1 1172.5,520.3 1172.9,521.4 1173.4,521.5 1173.8,520.5 1174.3,521.1 1174.7,520.4 1175.2,520.5 1175.6,521.3 1176.1,521.1 1176.5,521.2 1177.0,521.1 1177.4,520.7 1177.9,520.3 1178.3,519.9 1178.8,521.1 1179.3,520.9 1179.7,519.8 1180.2,520.2 1180.6,520.5 1181.1,521.8 1181.5,521.1 1182.0,520.5 1182.4,520.9 1182.9,519.6 1183.3,520.6 1183.8,520.5 1184.2,521.2 1184.7,521.1 1185.1,521.0 1185.6,520.9 1186.1,520.7 1186.5,520.4 1187.0,520.5 1187.4,520.1 1187.9,521.3 1188.3,520.5 1188.8,520.5 1189.2,519.8 1189.7,520.7 1190.1,520.5 1190.6,521.0 1191.0,520.4 1191.5,520.4 1191.9,520.9 1192.4,520.8 1192.9,520.6 1193.3,520.3 1193.8,521.2 1194.2,520.2 1194.7,520.8 1195.1,519.7 1195.6,519.9 1196.0,520.8 1196.5,520.9 1196.9,519.4 1197.4,520.3 1197.8,520.3 1198.3,520.8 1198.7,520.7 1199.2,520.2 1199.7,520.3 1200.1,521.0 1200.6,520.0 1201.0,520.5 1201.5,521.1 1201.9,520.1 1202.4,520.7 1202.8,520.2 1203.3,520.9 1203.7,520.4 1204.2,521.4 1204.6,520.4 1205.1,521.4 1205.5,520.5 1206.0,521.9 1206.5,520.7 1206.9,520.3 1207.4,520.4 1207.8,520.0 1208.3,521.2 1208.7,519.8 1209.2,519.8 1209.6,521.2 1210.1,521.0 1210.5,520.9 1211.0,520.6 1211.4,520.5 1211.9,521.9 1212.3,520.3 1212.8,520.7 1213.3,521.1 1213.7,520.1 1214.2,520.8 1214.6,520.1 1215.1,520.4 1215.5,520.8 1216.0,520.0 1216.4,520.2 1216.9,520.9 1217.3,521.4 1217.8,520.9 1218.2,520.3 1218.7,520.7 1219.1,519.7 1219.6,520.5 1220.0,520.5 1220.5,520.4 1221.0,521.1 1221.4,520.7 1221.9,521.0 1222.3,521.8 1222.8,521.5 1223.2,520.3 1223.7,520.8 1224.1,520.7 1224.6,521.4 1225.0,520.9 1225.5,520.2 1225.9,520.6 1226.4,520.9 1226.8,519.9 1227.3,520.7 1227.8,520.8 1228.2,520.0 1228.7,521.5 1229.1,520.3 1229.6,521.2 1230.0,521.0 1230.5,521.0 1230.9,520.6 1231.4,520.6 1231.8,520.5 1232.3,520.5 1232.7,519.9 1233.2,519.8 1233.6,520.3 1234.1,520.2 1234.6,520.8 1235.0,521.2 1235.5,520.3 1235.9,520.6 1236.4,520.2 1236.8,521.5 1237.3,519.3 1237.7,521.3 1238.2,520.6 1238.6,520.1 1239.1,521.3 1239.5,520.9 1240.0,521.6 1240.4,521.3 1240.9,521.6 1241.4,520.6 1241.8,520.5 1242.3,520.8 1242.7,520.0 1243.2,519.9 1243.6,520.6 1244.1,520.7 1244.5,520.8 1245.0,520.8 1245.4,520.0 1245.9,520.5" fill="none" stroke="#000000" stroke-width="2.5" stroke-linejoin="round" />
<polyline points="112.7,521.8 113.1,521.6 113.6,521.7 114.0,521.7 114.5,521.5 114.9,522.0 115.4,521.9 115.8,522.0 116.3,521.8 116.7,521.6 117.2,521.8 117.6,521.7 118.1,522.2 118.5,521.8 119.0,522.0 119.4,521.5 119.9,521.6 120.4,521.6 120.8,521.8 121.3,521.7 121.7,521.7 122.2,521.9 122.6,521.9 123.1,521.8 123.5,521.9 124.0,521.9 124.4,521.9 124.9,521.9 125.3,521.7 125.8,522.1 126.2,521.6 126.7,521.9 127.2,521.9 127.6,522.1 128.1,521.8 128.5,521.8 129.0,521.8 129.4,521.9 129.9,521.8 130.3,521.5 130.8,521.7 131.2,521.9 131.7,521.6 132.1,521.8 132.6,521.7 133.0,521.7 133.5,521.9 134.0,522.2 134.4,521.9 134.9,521.7 135.3,521.9 135.8,521.7 136.2,521.6 136.7,521.9 137.1,521.6 137.6,521.5 138.0,521.6 138.5,521.6 138.9,521.6 139.4,521.4 139.8,521.8 140.3,521.8 140.8,521.7 141.2,522.0 141.7,522.1 142.1,522.0 142.6,521.7 143.0,521.7 143.5,522.1 143.9,522.2 144.4,521.9 144.8,521.8 145.3,521.8 145.7,521.7 146.2,521.6 146.6,521.8 147.1,521.7 147.6,522.0 148.0,522.0 148.5,521.7 148.9,521.7 149.4,521.6 149.8,521.7 150.3,521.6 150.7,521.6 151.2,522.1 151.6,521.9 152.1,521.6 152.5,521.5 153.0,521.9 153.4,521.2 153.9,521.5 154.4,521.3 154.8,521.1 155.3,520.8 155.7,521.2 156.2,520.3 156.6,520.3 157.1,520.3 157.5,519.9 158.0,520.2 158.4,519.4 158.9,518.9 159.3,518.9 159.8,518.6 160.2,518.3 160.7,518.1 161.2,517.7 161.6,518.0 162.1,518.1 162.5,517.9 163.0,517.5 163.4,518.6 163.9,518.5 164.3,519.5 164.8,518.8 165.2,519.3 165.7,519.4 166.1,520.1 166.6,520.7 167.0,520.3 167.5,520.6 168.0,521.2 168.4,521.5 168.9,521.2 169.3,521.4 169.8,520.9 170.2,521.7 170.7,521.8 171.1,521.7 171.6,522.1 172.0,521.9 172.5,521.4 172.9,521.8 173.4,521.9 173.8,522.0 174.3,521.7 174.8,521.7 175.2,521.7 175.7,521.9 176.1,521.7 176.6,521.7 177.0,521.9 177.5,521.7 177.9,522.2 178.4,522.0 178.8,521.9 179.3,521.8 179.7,522.0 180.2,521.7 180.6,521.6 181.1,521.7 181.6,521.8 182.0,521.6 182.5,521.7 182.9,522.0 183.4,521.8 183.8,521.6 184.3,522.0 184.7,521.8 185.2,521.9 185.6,522.0 186.1,522.0 186.5,521.8 187.0,521.7 187.4,521.7 187.9,522.1 188.4,521.9 188.8,521.7 189.3,521.6 189.7,521.7 190.2,521.6 190.6,521.6 191.1,521.6 191.5,522.0 192.0,521.8 192.4,521.9 192.9,522.3 193.3,522.1 193.8,521.4 194.2,522.0 194.7,522.2 195.1,521.9 195.6,521.5 196.1,521.8 196.5,521.7 197.0,521.9 197.4,521.8 197.9,521.6 198.3,521.6 198.8,521.8 199.2,521.6 199.7,521.6 200.1,521.8 200.6,521.7 201.0,521.8 201.5,521.9 201.9,521.6 202.4,521.8 202.9,521.9 203.3,522.1 203.8,522.0 204.2,521.5 204.7,522.0 205.1,521.7 205.6,521.9 206.0,521.7 206.5,521.7 206.9,521.9 207.4,521.9 207.8,521.8 208.3,521.8 208.7,521.8 209.2,521.9 209.7,521.7 210.1,521.6 210.6,521.7 211.0,521.9 211.5,521.7 211.9,521.8 212.4,521.7 212.8,521.5 213.3,521.8 213.7,521.8 214.2,522.0 214.6,521.9 215.1,521.9 215.5,521.5 216.0,521.7 216.5,521.9 216.9,521.4 217.4,522.1 217.8,521.6 218.3,521.6 218.7,521.7 219.2,521.8 219.6,521.8 220.1,521.9 220.5,521.7 221.0,522.2 221.4,521.9 221.9,521.8 222.3,521.9 222.8,522.1 223.3,521.8 223.7,521.9 224.2,521.6 224.6,521.5 225.1,521.8 225.5,522.2 226.0,521.8 226.4,522.0 226.9,521.7 227.3,521.5 227.8,521.7 228.2,521.4 228.7,521.5 229.1,521.7 229.6,522.0 230.1,521.8 230.5,522.1 231.0,521.6 231.4,521.8 231.9,521.5 232.3,521.7 232.8,522.1 233.2,521.7 233.7,521.6 234.1,521.5 234.6,522.0 235.0,521.9 235.5,521.8 235.9,522.0 236.4,522.0 236.9,522.0 237.3,521.3 237.8,521.9 238.2,522.0 238.7,521.9 239.1,521.8 239.6,521.5 240.0,521.6 240.5,521.6 240.9,521.8 241.4,521.8 241.8,521.9 242.3,522.1 242.7,521.4 243.2,521.9 243.7,521.6 244.1,521.8 244.6,521.8 245.0,521.8 245.5,522.0 245.9,521.8 246.4,521.7 246.8,521.6 247.3,521.7 247.7,521.6 248.2,521.7 248.6,521.8 249.1,522.2 249.5,521.9 250.0,521.5 250.5,521.8 250.9,521.6 251.4,521.8 251.8,521.9 252.3,521.4 252.7,521.7 253.2,521.5 253.6,521.7 254.1,521.8 254.5,522.2 255.0,521.8 255.4,522.1 255.9,522.2 256.3,521.5 256.8,521.6 257.3,521.7 257.7,521.8 258.2,521.8 258.6,521.7 259.1,521.8 259.5,521.8 260.0,521.6 260.4,522.3 260.9,521.6 261.3,521.9 261.8,521.6 262.2,521.5 262.7,521.9 263.1,521.6 263.6,521.6 264.1,521.9 264.5,521.9 265.0,521.7 265.4,522.2 265.9,521.8 266.3,521.7 266.8,521.8 267.2,522.1 267.7,521.8 268.1,521.4 268.6,521.4 269.0,521.7 269.5,521.9 269.9,521.7 270.4,521.7 270.8,521.8 271.3,521.7 271.8,521.5 272.2,521.4 272.7,522.2 273.1,521.4 273.6,521.6 274.0,521.3 274.5,521.6 274.9,521.5 275.4,521.2 275.8,522.3 276.3,521.1 276.7,521.5 277.2,521.9 277.6,522.1 278.1,521.4 278.6,521.7 279.0,521.2 279.5,521.4 279.9,521.4 280.4,521.1 280.8,521.3 281.3,521.2 281.7,521.1 282.2,521.2 282.6,521.1 283.1,521.1 283.5,521.6 284.0,521.3 284.4,521.2 284.9,521.3 285.4,521.6 285.8,521.3 286.3,521.0 286.7,521.0 287.2,520.6 287.6,521.2 288.1,521.1 288.5,521.1 289.0,521.0 289.4,521.1 289.9,521.4 290.3,520.8 290.8,520.6 291.2,520.5 291.7,521.1 292.2,520.8 292.6,520.2 293.1,520.7 293.5,520.5 294.0,520.7 294.4,520.3 294.9,520.2 295.3,519.7 295.8,520.2 296.2,520.1 296.7,520.5 297.1,520.1 297.6,520.0 298.0,519.7 298.5,519.8 299.0,518.7 299.4,519.3 299.9,518.6 300.3,518.9 300.8,518.0 301.2,517.2 301.7,517.8 302.1,517.1 302.6,516.9 303.0,516.3 303.5,515.7 303.9,515.6 304.4,514.7 304.8,514.1 305.3,513.4 305.8,512.7 306.2,510.6 306.7,510.4 307.1,508.5 307.6,507.4 308.0,507.0 308.5,504.3 308.9,503.7 309.4,500.8 309.8,498.1 310.3,497.0 310.7,494.6 311.2,491.7 311.6,486.2 312.1,485.1 312.6,482.4 313.0,476.9 313.5,472.9 313.9,467.4 314.4,462.5 314.8,458.0 315.3,451.0 315.7,446.3 316.2,442.1 316.6,436.7 317.1,431.9 317.5,425.3 318.0,420.8 318.4,416.7 318.9,413.7 319.4,410.6 319.8,404.9 320.3,401.2 320.7,396.9 321.2,394.5 321.6,390.6 322.1,385.4 322.5,382.0 323.0,376.5 323.4,369.0 323.9,366.2 324.3,359.4 324.8,353.3 325.2,349.0 325.7,343.7 326.2,341.3 326.6,335.6 327.1,332.4 327.5,328.3 328.0,326.2 328.4,324.7 328.9,319.8 329.3,320.2 329.8,319.9 330.2,318.8 330.7,316.1 331.1,315.4 331.6,310.5 332.0,311.3 332.5,312.5 333.0,313.4 333.4,314.8 333.9,314.6 334.3,313.2 334.8,315.3 335.2,318.0 335.7,318.9 336.1,323.4 336.6,320.8 337.0,323.9 337.5,323.1 337.9,327.3 338.4,329.5 338.8,330.4 339.3,333.7 339.8,332.9 340.2,336.8 340.7,339.0 341.1,341.4 341.6,344.8 342.0,345.9 342.5,348.7 342.9,348.6 343.4,353.3 343.8,354.9 344.3,358.1 344.7,359.9 345.2,361.8 345.6,361.5 346.1,365.1 346.6,365.7 347.0,369.3 347.5,371.3 347.9,375.2 348.4,373.1 348.8,373.0 349.3,377.7 349.7,377.0 350.2,379.5 350.6,383.3 351.1,383.2 351.5,387.1 352.0,387.9 352.4,387.3 352.9,389.9 353.3,392.6 353.8,389.8 354.3,393.2 354.7,391.1 355.2,389.5 355.6,386.7 356.1,384.8 356.5,382.9 357.0,375.5 357.4,377.0 357.9,374.5 358.3,374.2 358.8,368.2 359.2,364.0 359.7,361.4 360.1,356.9 360.6,355.9 361.1,354.8 361.5,353.1 362.0,349.5 362.4,350.6 362.9,349.4 363.3,350.4 363.8,348.2 364.2,344.8 364.7,347.3 365.1,346.1 365.6,349.7 366.0,343.5 366.5,344.3 366.9,342.0 367.4,342.9 367.9,343.8 368.3,343.8 368.8,340.3 369.2,340.5 369.7,341.5 370.1,339.9 370.6,340.8 371.0,338.9 371.5,340.9 371.9,342.4 372.4,341.2 372.8,342.4 373.3,340.0 373.7,343.6 374.2,345.6 374.7,344.5 375.1,345.6 375.6,345.7 376.0,346.8 376.5,350.1 376.9,350.5 377.4,352.6 377.8,356.3 378.3,357.7 378.7,358.8 379.2,363.5 379.6,364.9 380.1,366.2 380.5,368.0 381.0,369.4 381.5,374.4 381.9,374.5 382.4,376.4 382.8,377.6 383.3,382.7 383.7,385.8 384.2,389.1 384.6,388.8 385.1,390.4 385.5,395.5 386.0,396.5 386.4,398.4 386.9,400.7 387.3,404.7 387.8,405.7 388.3,408.9 388.7,412.4 389.2,413.5 389.6,416.2 390.1,420.6 390.5,421.9 391.0,423.0 391.4,430.0 391.9,430.4 392.3,433.0 392.8,436.6 393.2,438.8 393.7,442.0 394.1,442.7 394.6,447.6 395.1,449.1 395.5,453.3 396.0,453.3 396.4,455.5 396.9,459.7 397.3,461.0 397.8,461.7 398.2,464.6 398.7,467.1 399.1,470.0 399.6,469.2 400.0,469.5 400.5,473.3 400.9,474.2 401.4,475.8 401.9,477.7 402.3,479.0 402.8,480.4 403.2,482.5 403.7,481.1 404.1,482.1 404.6,485.2 405.0,485.1 405.5,488.2 405.9,488.7 406.4,488.7 406.8,491.3 407.3,492.3 407.7,492.0 408.2,494.5 408.7,492.8 409.1,494.3 409.6,495.4 410.0,495.9 410.5,497.8 410.9,498.6 411.4,498.1 411.8,498.8 412.3,500.1 412.7,501.0 413.2,502.1 413.6,501.6 414.1,504.2 414.5,504.5 415.0,505.1 415.5,506.4 415.9,507.0 416.4,507.5 416.8,507.0 417.3,507.3 417.7,508.7 418.2,510.4 418.6,510.4 419.1,510.7 419.5,511.2 420.0,511.8 420.4,511.7 420.9,513.3 421.3,513.0 421.8,512.9 422.3,513.0 422.7,513.5 423.2,513.9 423.6,514.3 424.1,514.8 424.5,514.8 425.0,515.1 425.4,515.6 425.9,515.0 426.3,515.2 426.8,516.1 427.2,515.9 427.7,515.8 428.1,516.4 428.6,516.6 429.0,516.6 429.5,517.6 430.0,517.6 430.4,517.0 430.9,517.2 431.3,516.8 431.8,517.7 432.2,517.1 432.7,517.3 433.1,517.0 433.6,518.2 434.0,518.1 434.5,517.9 434.9,518.0 435.4,518.6 435.8,518.5 436.3,518.8 436.8,517.6 437.2,518.5 437.7,518.6 438.1,518.9 438.6,518.7 439.0,518.5 439.5,519.0 439.9,518.9 440.4,518.2 440.8,518.7 441.3,519.0 441.7,519.3 442.2,519.2 442.6,519.5 443.1,519.2 443.6,519.6 444.0,519.6 444.5,519.6 444.9,519.8 445.4,519.4 445.8,518.7 446.3,519.8 446.7,520.1 447.2,519.3 447.6,519.7 448.1,519.0 448.5,519.6 449.0,519.4 449.4,520.0 449.9,520.3 450.4,519.8 450.8,519.6 451.3,520.1 451.7,520.4 452.2,520.1 452.6,520.0 453.1,520.0 453.5,519.9 454.0,519.2 454.4,520.0 454.9,520.1 455.3,520.3 455.8,519.8 456.2,520.5 456.7,519.6 457.2,520.1 457.6,520.6 458.1,520.0 458.5,520.1 459.0,519.7 459.4,520.6 459.9,520.1 460.3,520.2 460.8,519.9 461.2,520.6 461.7,520.5 462.1,519.6 462.6,520.1 463.0,520.7 463.5,520.2 464.0,520.5 464.4,520.5 464.9,520.7 465.3,520.0 465.8,520.5 466.2,520.3 466.7,520.3 467.1,520.8 467.6,520.6 468.0,520.1 468.5,520.8 468.9,520.3 469.4,520.4 469.8,520.2 470.3,520.2 470.8,520.1 471.2,520.4 471.7,520.3 472.1,520.6 472.6,520.6 473.0,520.1 473.5,520.6 473.9,520.1 474.4,520.1 474.8,520.6 475.3,520.2 475.7,521.6 476.2,521.3 476.6,521.5 477.1,521.3 477.6,521.3 478.0,521.6 478.5,520.8 478.9,521.1 479.4,521.8 479.8,521.3 480.3,521.5 480.7,520.8 481.2,521.4 481.6,521.2 482.1,521.4 482.5,521.2 483.0,521.5 483.4,521.6 483.9,521.5 484.4,521.4 484.8,521.2 485.3,521.3 485.7,521.5 486.2,521.4 486.6,521.6 487.1,521.3 487.5,521.9 488.0,521.4 488.4,521.0 488.9,521.4 489.3,521.5 489.8,521.3 490.2,521.6 490.7,521.5 491.2,521.2 491.6,521.5 492.1,520.8 492.5,521.2 493.0,521.4 493.4,521.5 493.9,521.4 494.3,521.9 494.8,521.3 495.2,521.1 495.7,521.2 496.1,521.4 496.6,521.2 497.0,521.2 497.5,521.4 498.0,521.2 498.4,521.1 498.9,521.2 499.3,521.4 499.8,521.3 500.2,521.3 500.7,521.7 501.1,521.3 501.6,521.4 502.0,521.9 502.5,521.8 502.9,520.9 503.4,521.3 503.8,521.0 504.3,521.4 504.8,520.9 505.2,521.2 505.7,521.5 506.1,521.3 506.6,520.9 507.0,520.7 507.5,521.2 507.9,521.4 508.4,521.6 508.8,521.2 509.3,521.1 509.7,521.3 510.2,521.4 510.6,521.1 511.1,521.2 511.5,521.2 512.0,521.7 512.5,521.4 512.9,520.8 513.4,521.3 513.8,520.7 514.3,521.2 514.7,521.4 515.2,521.3 515.6,521.2 516.1,521.5 516.5,521.3 517.0,521.4 517.4,521.0 517.9,521.4 518.3,521.3 518.8,521.7 519.3,521.7 519.7,521.4 520.2,521.6 520.6,521.4 521.1,521.3 521.5,521.2 522.0,521.7 522.4,521.4 522.9,521.2 523.3,521.5 523.8,521.7 524.2,521.5 524.7,520.9 525.1,521.3 525.6,520.9 526.1,521.4 526.5,521.0 527.0,521.7 527.4,521.4 527.9,521.3 528.3,520.9 528.8,521.2 529.2,521.0 529.7,521.4 530.1,521.4 530.6,521.0 531.0,521.0 531.5,521.0 531.9,521.0 532.4,521.5 532.9,520.8 533.3,521.3 533.8,521.0 534.2,521.1 534.7,521.8 535.1,521.8 535.6,521.7 536.0,521.3 536.5,521.0 536.9,521.4 537.4,521.1 537.8,521.6 538.3,521.5 538.7,521.6 539.2,521.3 539.7,521.6 540.1,521.4 540.6,521.2 541.0,521.4 541.5,521.6 541.9,521.4 542.4,521.6 542.8,521.6 543.3,521.1 543.7,521.2 544.2,521.7 544.6,521.4 545.1,521.2 545.5,521.1 546.0,521.2 546.5,521.1 546.9,521.3 547.4,521.3 547.8,521.4 548.3,521.0 548.7,521.1 549.2,520.9 549.6,521.0 550.1,521.5 550.5,521.7 551.0,521.7 551.4,521.6 551.9,521.2 552.3,521.7 552.8,521.8 553.3,521.4 553.7,521.1 554.2,521.1 554.6,520.9 555.1,521.3 555.5,521.5 556.0,521.4 556.4,521.7 556.9,521.5 557.3,521.0 557.8,520.8 558.2,521.0 558.7,521.3 559.1,521.4 559.6,521.3 560.1,521.8 560.5,521.2 561.0,521.1 561.4,521.4 561.9,521.3 562.3,521.8 562.8,521.1 563.2,521.1 563.7,522.0 564.1,521.5 564.6,521.2 565.0,520.9 565.5,521.6 565.9,521.3 566.4,521.0 566.9,521.2 567.3,521.4 567.8,521.4 568.2,521.3 568.7,521.5 569.1,521.1 569.6,521.6 570.0,521.2 570.5,521.1 570.9,521.0 571.4,521.3 571.8,521.3 572.3,521.2 572.7,521.3 573.2,521.0 573.7,521.3 574.1,520.8 574.6,520.6 575.0,521.5 575.5,521.2 575.9,521.6 576.4,521.1 576.8,521.2 577.3,521.4 577.7,521.6 578.2,521.3 578.6,520.8 579.1,520.9 579.5,521.2 580.0,521.5 580.5,521.3 580.9,521.5 581.4,521.7 581.8,521.6 582.3,521.2 582.7,521.2 583.2,521.3 583.6,521.6 584.1,521.7 584.5,521.1 585.0,521.4 585.4,521.0 585.9,521.5 586.3,521.1 586.8,521.3 587.2,521.4 587.7,521.4 588.2,520.8 588.6,521.1 589.1,521.4 589.5,521.3 590.0,521.7 590.4,520.9 590.9,521.0 591.3,521.4 591.8,521.2 592.2,522.0 592.7,521.1 593.1,521.2 593.6,521.3 594.0,521.1 594.5,521.2 595.0,521.6 595.4,521.5 595.9,521.4 596.3,521.1 596.8,521.3 597.2,521.5 597.7,521.2 598.1,521.6 598.6,520.8 599.0,521.2 599.5,521.6 599.9,521.3 600.4,521.1 600.8,521.2 601.3,520.8 601.8,521.7 602.2,520.9 602.7,521.3 603.1,521.1 603.6,520.9 604.0,521.6 604.5,521.7 604.9,521.4 605.4,521.8 605.8,521.8 606.3,521.3 606.7,521.0 607.2,521.5 607.6,521.2 608.1,520.4 608.6,521.2 609.0,521.4 609.5,521.4 609.9,521.2 610.4,521.4 610.8,521.1 611.3,521.3 611.7,521.1 612.2,521.3 612.6,521.3 613.1,521.6 613.5,521.7 614.0,521.4 614.4,521.4 614.9,521.3 615.4,521.3 615.8,521.4 616.3,520.7 616.7,521.2 617.2,521.0 617.6,521.6 618.1,521.1 618.5,521.0 619.0,521.2 619.4,521.6 619.9,521.0 620.3,521.5 620.8,521.7 621.2,521.7 621.7,521.3 622.2,521.5 622.6,521.1 623.1,521.2 623.5,521.0 624.0,521.2 624.4,521.3 624.9,521.3 625.3,521.5 625.8,521.5 626.2,521.5 626.7,521.3 627.1,521.5 627.6,521.3 628.0,521.0 628.5,521.9 629.0,521.6 629.4,521.6 629.9,521.3 630.3,521.7 630.8,521.5 631.2,520.7 631.7,521.7 632.1,521.4 632.6,521.3 633.0,521.4 633.5,521.6 633.9,521.1 634.4,521.8 634.8,521.6 635.3,521.4 635.8,521.5 636.2,521.0 636.7,521.4 637.1,520.9 637.6,521.3 638.0,520.9 638.5,521.2 638.9,521.4 639.4,521.4 639.8,521.1 640.3,521.5 640.7,521.4 641.2,521.6 641.6,521.9 642.1,521.2 642.6,521.2 643.0,521.7 643.5,521.2 643.9,521.4 644.4,521.8 644.8,521.6 645.3,521.2 645.7,521.1 646.2,521.2 646.6,520.6 647.1,521.3 647.5,521.5 648.0,521.7 648.4,521.0 648.9,521.5 649.4,521.4 649.8,521.6 650.3,521.6 650.7,521.4 651.2,521.2 651.6,521.2 652.1,521.2 652.5,521.1 653.0,521.5 653.4,521.6 653.9,521.3 654.3,521.9 654.8,521.1 655.2,521.2 655.7,521.2 656.2,521.6 656.6,521.5 657.1,521.3 657.5,521.6 658.0,521.6 658.4,521.4 658.9,521.3 659.3,521.5 659.8,521.1 660.2,520.8 660.7,521.2 661.1,521.4 661.6,521.4 662.0,520.9 662.5,521.3 663.0,521.2 663.4,521.3 663.9,521.5 664.3,520.9 664.8,521.4 665.2,521.3 665.7,521.9 666.1,520.8 666.6,521.1 667.0,521.4 667.5,521.5 667.9,521.5 668.4,521.8 668.8,521.2 669.3,521.6 669.7,521.2 670.2,521.2 670.7,520.8 671.1,521.3 671.6,521.3 672.0,521.2 672.5,521.5 672.9,521.4 673.4,521.2 673.8,521.0 674.3,521.1 674.7,521.4 675.2,521.0 675.6,521.4 676.1,521.7 676.5,520.9 677.0,521.3 677.5,521.4 677.9,521.6 678.4,521.4 678.8,520.9 679.3,521.3 679.7,520.7 680.2,521.3 680.6,521.0 681.1,521.3 681.5,521.4 682.0,521.4 682.4,521.4 682.9,521.6 683.3,521.6 683.8,521.2 684.3,521.0 684.7,521.3 685.2,521.3 685.6,521.5 686.1,521.0 686.5,521.0 687.0,521.6 687.4,521.3 687.9,521.4 688.3,521.7 688.8,520.9 689.2,521.0 689.7,521.2 690.1,520.9 690.6,521.4 691.1,521.2 691.5,521.0 692.0,521.4 692.4,521.2 692.9,521.6 693.3,521.1 693.8,521.0 694.2,521.6 694.7,521.5 695.1,521.3 695.6,520.9 696.0,521.4 696.5,521.5 696.9,521.3 697.4,521.0 697.9,521.7 698.3,521.4 698.8,521.0 699.2,521.3 699.7,521.4 700.1,521.1 700.6,521.6 701.0,520.8 701.5,521.2 701.9,521.4 702.4,521.3 702.8,521.3 703.3,521.4 703.7,521.6 704.2,521.4 704.7,521.8 705.1,521.0 705.6,521.6 706.0,521.5 706.5,521.5 706.9,521.1 707.4,521.4 707.8,521.0 708.3,521.4 708.7,521.3 709.2,521.3 709.6,521.4 710.1,521.0 710.5,521.0 711.0,521.0 711.5,521.7 711.9,521.2 712.4,521.6 712.8,521.6 713.3,521.8 713.7,521.6 714.2,521.2 714.6,521.0 715.1,520.9 715.5,521.6 716.0,521.5 716.4,521.3 716.9,521.3 717.3,521.3 717.8,521.8 718.3,521.4 718.7,521.2 719.2,521.3 719.6,521.4 720.1,521.5 720.5,521.4 721.0,520.9 721.4,521.2 721.9,521.1 722.3,520.9 722.8,521.6 723.2,521.2 723.7,521.2 724.1,521.0 724.6,521.4 725.1,521.4 725.5,521.5 726.0,521.3 726.4,521.4 726.9,521.4 727.3,521.2 727.8,521.4 728.2,521.6 728.7,521.4 729.1,521.5 729.6,521.2 730.0,521.0 730.5,521.4 730.9,522.0 731.4,521.2 731.9,521.4 732.3,521.6 732.8,521.4 733.2,520.9 733.7,521.7 734.1,521.6 734.6,521.4 735.0,522.1 735.5,521.5 735.9,521.1 736.4,521.2 736.8,521.2 737.3,521.4 737.7,521.4 738.2,520.6 738.7,521.3 739.1,521.0 739.6,521.7 740.0,521.3 740.5,521.2 740.9,521.3 741.4,521.9 741.8,521.4 742.3,521.0 742.7,521.2 743.2,521.5 743.6,521.1 744.1,521.8 744.5,521.2 745.0,521.2 745.4,521.5 745.9,521.6 746.4,521.8 746.8,521.4 747.3,520.9 747.7,521.1 748.2,521.2 748.6,521.1 749.1,521.5 749.5,521.2 750.0,522.1 750.4,521.5 750.9,521.5 751.3,521.4 751.8,521.4 752.2,521.2 752.7,521.5 753.2,521.1 753.6,521.4 754.1,521.1 754.5,521.3 755.0,521.1 755.4,521.2 755.9,521.5 756.3,521.3 756.8,521.7 757.2,521.3 757.7,521.2 758.1,521.4 758.6,521.4 759.0,521.1 759.5,521.0 760.0,521.0 760.4,521.5 760.9,521.5 761.3,521.1 761.8,521.1 762.2,521.8 762.7,520.8 763.1,521.0 763.6,521.7 764.0,521.0 764.5,521.4 764.9,521.4 765.4,521.6 765.8,521.6 766.3,521.4 766.8,521.3 767.2,521.6 767.7,521.4 768.1,521.5 768.6,521.5 769.0,521.6 769.5,521.5 769.9,520.9 770.4,521.8 770.8,521.7 771.3,521.4 771.7,521.5 772.2,521.6 772.6,521.2 773.1,521.6 773.6,521.3 774.0,521.1 774.5,521.2 774.9,521.4 775.4,521.3 775.8,521.3 776.3,521.2 776.7,521.6 777.2,521.0 777.6,521.1 778.1,520.9 778.5,521.1 779.0,521.1 779.4,522.1 779.9,521.5 780.4,520.9 780.8,521.2 781.3,521.5 781.7,521.2 782.2,521.3 782.6,521.2 783.1,521.5 783.5,521.2 784.0,521.0 784.4,521.3 784.9,521.2 785.3,521.5 785.8,521.2 786.2,521.4 786.7,521.7 787.2,521.4 787.6,521.4 788.1,521.2 788.5,521.1 789.0,521.4 789.4,521.4 789.9,521.2 790.3,521.6 790.8,521.4 791.2,521.4 791.7,521.4 792.1,521.5 792.6,520.9 793.0,521.1 793.5,521.4 794.0,521.7 794.4,521.5 794.9,521.2 795.3,521.8 795.8,520.7 796.2,521.4 796.7,521.4 797.1,521.2 797.6,521.7 798.0,521.3 798.5,521.3 798.9,521.2 799.4,521.6 799.8,521.2 800.3,521.0 800.8,521.3 801.2,521.5 801.7,521.6 802.1,521.8 802.6,521.5 803.0,521.2 803.5,521.0 803.9,521.1 804.4,521.0 804.8,521.5 805.3,521.5 805.7,521.7 806.2,521.5 806.6,521.6 807.1,521.4 807.6,521.2 808.0,521.4 808.5,521.4 808.9,521.2 809.4,521.0 809.8,521.1 810.3,521.8 810.7,520.9 811.2,521.5 811.6,521.7 812.1,521.4 812.5,521.1 813.0,522.0 813.4,521.0 813.9,521.3 814.4,521.2 814.8,521.7 815.3,521.5 815.7,521.6 816.2,521.0 816.6,521.5 817.1,521.2 817.5,521.5 818.0,521.8 818.4,521.1 818.9,521.0 819.3,521.0 819.8,521.5 820.2,521.3 820.7,521.2 821.2,521.3 821.6,521.3 822.1,520.7 822.5,521.4 823.0,521.1 823.4,521.5 823.9,521.0 824.3,521.4 824.8,521.6 825.2,521.1 825.7,521.3 826.1,521.4 826.6,521.4 827.0,521.5 827.5,521.2 827.9,521.3 828.4,520.9 828.9,521.5 829.3,521.0 829.8,521.2 830.2,521.7 830.7,521.0 831.1,521.8 831.6,521.2 832.0,521.8 832.5,521.3 832.9,521.4 833.4,521.4 833.8,521.8 834.3,521.5 834.7,521.0 835.2,521.2 835.7,521.3 836.1,521.4 836.6,521.5 837.0,521.0 837.5,521.3 837.9,521.0 838.4,521.7 838.8,521.7 839.3,521.0 839.7,521.5 840.2,521.4 840.6,521.2 841.1,521.1 841.5,521.2 842.0,521.2 842.5,520.9 842.9,521.2 843.4,521.1 843.8,521.3 844.3,521.3 844.7,520.8 845.2,521.4 845.6,522.0 846.1,521.3 846.5,521.3 847.0,520.8 847.4,521.4 847.9,521.6 848.3,521.3 848.8,520.8 849.3,521.4 849.7,521.0 850.2,521.2 850.6,521.2 851.1,521.5 851.5,521.3 852.0,521.5 852.4,521.3 852.9,521.5 853.3,521.0 853.8,521.5 854.2,521.4 854.7,521.9 855.1,521.6 855.6,520.7 856.1,521.4 856.5,521.8 857.0,521.3 857.4,521.4 857.9,521.5 858.3,521.4 858.8,521.5 859.2,521.1 859.7,521.7 860.1,521.3 860.6,521.1 861.0,521.6 861.5,520.8 861.9,521.3 862.4,521.4 862.9,521.5 863.3,521.1 863.8,521.8 864.2,521.2 864.7,520.8 865.1,521.2 865.6,521.1 866.0,521.6 866.5,521.1 866.9,521.5 867.4,521.4 867.8,521.3 868.3,520.8 868.7,521.5 869.2,521.8 869.7,521.3 870.1,521.1 870.6,521.2 871.0,521.3 871.5,521.0 871.9,521.1 872.4,521.1 872.8,521.4 873.3,521.7 873.7,520.9 874.2,521.5 874.6,521.0 875.1,521.0 875.5,521.6 876.0,521.5 876.5,521.2 876.9,521.1 877.4,521.6 877.8,521.4 878.3,521.6 878.7,521.6 879.2,521.3 879.6,521.4 880.1,521.8 880.5,521.2 881.0,521.4 881.4,521.4 881.9,521.7 882.3,521.1 882.8,521.2 883.3,521.2 883.7,521.3 884.2,521.2 884.6,520.9 885.1,521.3 885.5,521.3 886.0,521.4 886.4,521.1 886.9,521.4 887.3,521.5 887.8,521.0 888.2,521.4 888.7,521.5 889.1,521.5 889.6,521.5 890.1,521.6 890.5,520.9 891.0,521.2 891.4,521.7 891.9,521.0 892.3,521.4 892.8,521.3 893.2,521.4 893.7,521.2 894.1,521.2 894.6,521.1 895.0,521.1 895.5,522.0 895.9,521.5 896.4,521.3 896.9,521.4 897.3,521.7 897.8,521.4 898.2,521.4 898.7,521.9 899.1,521.6 899.6,521.2 900.0,521.5 900.5,521.4 900.9,521.3 901.4,521.2 901.8,521.2 902.3,521.1 902.7,521.3 903.2,521.3 903.6,521.4 904.1,521.3 904.6,521.4 905.0,521.1 905.5,521.2 905.9,521.7 906.4,521.9 906.8,521.2 907.3,521.5 907.7,521.7 908.2,521.1 908.6,521.0 909.1,521.6 909.5,521.6 910.0,521.5 910.4,521.5 910.9,521.4 911.4,521.6 911.8,521.3 912.3,521.4 912.7,521.1 913.2,521.4 913.6,521.1 914.1,521.0 914.5,521.2 915.0,521.2 915.4,521.5 915.9,521.3 916.3,520.8 916.8,521.0 917.2,521.3 917.7,521.4 918.2,521.4 918.6,521.1 919.1,521.9 919.5,521.3 920.0,521.7 920.4,521.0 920.9,521.7 921.3,521.1 921.8,521.4 922.2,521.3 922.7,520.9 923.1,521.3 923.6,521.2 924.0,521.2 924.5,521.6 925.0,521.4 925.4,521.1 925.9,521.3 926.3,521.3 926.8,521.5 927.2,520.9 927.7,521.5 928.1,520.9 928.6,521.3 929.0,521.2 929.5,521.7 929.9,521.3 930.4,521.6 930.8,521.3 931.3,521.0 931.8,521.2 932.2,521.3 932.7,521.1 933.1,521.6 933.6,521.3 934.0,521.5 934.5,521.0 934.9,521.5 935.4,520.9 935.8,520.8 936.3,521.9 936.7,521.4 937.2,521.7 937.6,521.0 938.1,521.6 938.6,521.2 939.0,521.2 939.5,521.6 939.9,521.7 940.4,521.0 940.8,521.5 941.3,521.3 941.7,521.0 942.2,521.3 942.6,521.4 943.1,521.6 943.5,521.2 944.0,521.5 944.4,521.8 944.9,521.5 945.4,521.5 945.8,521.7 946.3,521.4 946.7,521.1 947.2,521.2 947.6,520.8 948.1,521.0 948.5,521.3 949.0,521.9 949.4,521.3 949.9,521.0 950.3,521.4 950.8,521.0 951.2,521.6 951.7,521.3 952.2,521.1 952.6,520.9 953.1,521.3 953.5,520.8 954.0,521.4 954.4,521.8 954.9,521.4 955.3,521.0 955.8,521.4 956.2,520.9 956.7,521.4 957.1,520.8 957.6,521.9 958.0,520.7 958.5,521.9 959.0,521.3 959.4,521.6 959.9,521.2 960.3,521.4 960.8,521.4 961.2,521.2 961.7,521.1 962.1,521.4 962.6,521.0 963.0,521.8 963.5,521.6 963.9,521.7 964.4,521.2 964.8,521.1 965.3,521.4 965.8,521.5 966.2,521.6 966.7,521.1 967.1,521.0 967.6,521.5 968.0,521.4 968.5,521.4 968.9,521.3 969.4,521.2 969.8,521.9 970.3,521.5 970.7,521.1 971.2,521.6 971.6,521.0 972.1,521.0 972.6,521.6 973.0,521.5 973.5,521.0 973.9,521.8 974.4,521.6 974.8,521.8 975.3,521.3 975.7,521.2 976.2,521.2 976.6,521.3 977.1,521.7 977.5,521.0 978.0,521.3 978.4,521.4 978.9,520.9 979.4,521.3 979.8,521.2 980.3,521.1 980.7,520.8 981.2,521.3 981.6,521.1 982.1,521.9 982.5,521.6 983.0,520.8 983.4,520.8 983.9,521.4 984.3,521.6 984.8,521.7 985.2,521.6 985.7,521.5 986.1,521.8 986.6,521.4 987.1,521.4 987.5,521.7 988.0,521.7 988.4,521.6 988.9,521.5 989.3,521.4 989.8,521.2 990.2,521.8 990.7,521.4 991.1,521.3 991.6,521.2 992.0,521.1 992.5,521.4 992.9,521.0 993.4,520.7 993.9,521.2 994.3,520.9 994.8,521.1 995.2,521.2 995.7,521.4 996.1,521.3 996.6,520.8 997.0,521.3 997.5,521.5 997.9,521.5 998.4,521.1 998.8,521.5 999.3,521.1 999.7,521.1 1000.2,521.3 1000.7,520.9 1001.1,521.7 1001.6,521.5 1002.0,521.4 1002.5,521.2 1002.9,521.7 1003.4,521.5 1003.8,521.0 1004.3,521.4 1004.7,521.1 1005.2,521.4 1005.6,521.5 1006.1,521.2 1006.5,521.0 1007.0,521.3 1007.5,521.7 1007.9,521.5 1008.4,521.4 1008.8,521.4 1009.3,521.6 1009.7,521.1 1010.2,521.6 1010.6,521.1 1011.1,521.6 1011.5,521.6 1012.0,521.0 1012.4,521.1 1012.9,521.4 1013.3,521.5 1013.8,521.4 1014.3,521.3 1014.7,521.3 1015.2,521.1 1015.6,521.6 1016.1,521.3 1016.5,521.3 1017.0,521.7 1017.4,521.0 1017.9,520.9 1018.3,521.3 1018.8,521.8 1019.2,521.5 1019.7,521.1 1020.1,521.9 1020.6,521.9 1021.1,521.5 1021.5,521.2 1022.0,521.1 1022.4,521.1 1022.9,522.0 1023.3,521.5 1023.8,521.6 1024.2,521.6 1024.7,521.1 1025.1,521.2 1025.6,521.5 1026.0,521.3 1026.5,521.3 1026.9,521.0 1027.4,521.5 1027.9,521.2 1028.3,521.5 1028.8,521.2 1029.2,521.3 1029.7,521.3 1030.1,521.3 1030.6,520.9 1031.0,521.5 1031.5,521.6 1031.9,521.5 1032.4,521.2 1032.8,521.1 1033.3,521.3 1033.7,521.5 1034.2,521.4 1034.7,521.5 1035.1,521.2 1035.6,521.3 1036.0,521.3 1036.5,521.3 1036.9,521.3 1037.4,521.0 1037.8,521.4 1038.3,521.2 1038.7,521.2 1039.2,521.5 1039.6,520.9 1040.1,521.3 1040.5,521.6 1041.0,521.1 1041.5,521.2 1041.9,521.1 1042.4,521.4 1042.8,521.4 1043.3,521.3 1043.7,521.7 1044.2,521.3 1044.6,521.3 1045.1,521.1 1045.5,521.4 1046.0,521.2 1046.4,521.7 1046.9,521.5 1047.3,521.1 1047.8,521.0 1048.3,521.1 1048.7,521.7 1049.2,521.6 1049.6,521.5 1050.1,521.0 1050.5,521.5 1051.0,521.3 1051.4,521.2 1051.9,521.2 1052.3,521.4 1052.8,521.2 1053.2,521.1 1053.7,521.3 1054.1,521.3 1054.6,521.1 1055.1,520.9 1055.5,520.7 1056.0,521.6 1056.4,521.3 1056.9,521.3 1057.3,521.6 1057.8,521.4 1058.2,521.5 1058.7,521.6 1059.1,521.5 1059.6,521.2 1060.0,521.6 1060.5,521.5 1060.9,521.4 1061.4,521.6 1061.8,521.6 1062.3,521.7 1062.8,521.5 1063.2,521.0 1063.7,521.8 1064.1,521.1 1064.6,521.6 1065.0,521.6 1065.5,521.1 1065.9,521.2 1066.4,521.2 1066.8,521.3 1067.3,521.1 1067.7,521.5 1068.2,521.2 1068.6,521.1 1069.1,521.3 1069.6,521.6 1070.0,520.9 1070.5,521.4 1070.9,521.6 1071.4,521.2 1071.8,521.0 1072.3,521.2 1072.7,521.6 1073.2,521.3 1073.6,521.3 1074.1,521.2 1074.5,521.7 1075.0,521.7 1075.4,521.3 1075.9,521.3 1076.4,521.2 1076.8,521.0 1077.3,521.7 1077.7,521.6 1078.2,521.5 1078.6,521.0 1079.1,521.4 1079.5,521.1 1080.0,521.9 1080.4,521.3 1080.9,521.1 1081.3,521.0 1081.8,521.5 1082.2,520.8 1082.7,521.5 1083.2,521.0 1083.6,520.9 1084.1,521.3 1084.5,521.7 1085.0,520.8 1085.4,521.2 1085.9,521.6 1086.3,521.2 1086.8,521.6 1087.2,521.3 1087.7,521.6 1088.1,521.9 1088.6,521.2 1089.0,521.5 1089.5,521.4 1090.0,521.3 1090.4,521.4 1090.9,521.5 1091.3,521.2 1091.8,521.2 1092.2,521.3 1092.7,521.4 1093.1,521.3 1093.6,520.9 1094.0,521.0 1094.5,521.4 1094.9,521.2 1095.4,521.2 1095.8,521.2 1096.3,521.3 1096.8,521.2 1097.2,521.4 1097.7,521.1 1098.1,521.2 1098.6,521.1 1099.0,521.1 1099.5,521.2 1099.9,521.5 1100.4,521.6 1100.8,521.3 1101.3,521.4 1101.7,521.1 1102.2,521.5 1102.6,521.4 1103.1,521.6 1103.6,521.3 1104.0,521.4 1104.5,521.0 1104.9,521.3 1105.4,521.0 1105.8,521.5 1106.3,521.7 1106.7,521.0 1107.2,521.2 1107.6,520.9 1108.1,521.5 1108.5,521.7 1109.0,520.9 1109.4,521.2 1109.9,521.4 1110.4,520.8 1110.8,521.3 1111.3,521.5 1111.7,521.2 1112.2,521.4 1112.6,521.5 1113.1,521.2 1113.5,521.3 1114.0,521.3 1114.4,521.3 1114.9,521.6 1115.3,521.1 1115.8,520.8 1116.2,521.2 1116.7,521.0 1117.2,520.8 1117.6,521.3 1118.1,521.5 1118.5,521.5 1119.0,521.4 1119.4,521.1 1119.9,521.3 1120.3,521.0 1120.8,521.4 1121.2,520.9 1121.7,521.4 1122.1,521.3 1122.6,521.3 1123.0,521.3 1123.5,521.3 1124.0,521.1 1124.4,521.3 1124.9,521.2 1125.3,521.5 1125.8,521.5 1126.2,521.6 1126.7,521.1 1127.1,521.5 1127.6,521.2 1128.0,521.3 1128.5,521.3 1128.9,521.4 1129.4,521.1 1129.8,521.2 1130.3,520.9 1130.8,521.3 1131.2,521.4 1131.7,521.6 1132.1,520.7 1132.6,521.5 1133.0,521.1 1133.5,521.1 1133.9,521.6 1134.4,521.5 1134.8,521.1 1135.3,521.3 1135.7,521.6 1136.2,521.3 1136.6,520.9 1137.1,521.2 1137.5,521.2 1138.0,521.0 1138.5,520.8 1138.9,521.3 1139.4,521.5 1139.8,521.3 1140.3,521.4 1140.7,521.6 1141.2,521.3 1141.6,521.5 1142.1,521.0 1142.5,521.3 1143.0,522.0 1143.4,521.6 1143.9,521.2 1144.3,521.5 1144.8,521.5 1145.3,521.5 1145.7,521.5 1146.2,521.2 1146.6,521.4 1147.1,521.6 1147.5,521.1 1148.0,521.6 1148.4,521.3 1148.9,521.6 1149.3,521.4 1149.8,521.5 1150.2,521.6 1150.7,521.5 1151.1,521.0 1151.6,521.6 1152.1,520.8 1152.5,521.1 1153.0,520.9 1153.4,521.5 1153.9,521.1 1154.3,521.3 1154.8,520.8 1155.2,521.4 1155.7,521.0 1156.1,521.5 1156.6,521.0 1157.0,521.4 1157.5,521.6 1157.9,521.7 1158.4,521.5 1158.9,520.9 1159.3,521.7 1159.8,521.5 1160.2,521.4 1160.7,521.3 1161.1,521.3 1161.6,520.9 1162.0,521.4 1162.5,521.7 1162.9,521.2 1163.4,521.4 1163.8,521.4 1164.3,521.3 1164.7,520.9 1165.2,521.0 1165.7,521.3 1166.1,521.4 1166.6,521.2 1167.0,521.5 1167.5,521.8 1167.9,521.5 1168.4,521.1 1168.8,521.5 1169.3,521.5 1169.7,521.0 1170.2,521.0 1170.6,521.0 1171.1,521.5 1171.5,521.2 1172.0,521.0 1172.5,521.1 1172.9,521.4 1173.4,521.4 1173.8,521.5 1174.3,521.5 1174.7,521.2 1175.2,521.2 1175.6,521.6 1176.1,521.2 1176.5,521.3 1177.0,521.0 1177.4,521.5 1177.9,521.3 1178.3,521.9 1178.8,521.1 1179.3,521.2 1179.7,521.1 1180.2,521.3 1180.6,521.3 1181.1,521.3 1181.5,521.0 1182.0,521.6 1182.4,521.3 1182.9,521.2 1183.3,521.4 1183.8,521.6 1184.2,521.4 1184.7,521.2 1185.1,520.9 1185.6,521.5 1186.1,521.9 1186.5,521.1 1187.0,521.3 1187.4,521.2 1187.9,521.3 1188.3,521.3 1188.8,521.8 1189.2,521.2 1189.7,521.6 1190.1,521.2 1190.6,521.8 1191.0,521.0 1191.5,521.4 1191.9,521.9 1192.4,521.3 1192.9,521.3 1193.3,521.3 1193.8,521.6 1194.2,520.8 1194.7,521.5 1195.1,521.1 1195.6,522.0 1196.0,521.2 1196.5,521.2 1196.9,521.3 1197.4,521.0 1197.8,521.5 1198.3,521.2 1198.7,521.4 1199.2,521.3 1199.7,521.6 1200.1,521.2 1200.6,521.2 1201.0,521.3 1201.5,521.3 1201.9,521.4 1202.4,521.5 1202.8,521.4 1203.3,521.2 1203.7,521.6 1204.2,521.4 1204.6,520.9 1205.1,521.1 1205.5,521.6 1206.0,521.0 1206.5,521.8 1206.9,521.4 1207.4,521.0 1207.8,521.2 1208.3,521.2 1208.7,521.6 1209.2,521.7 1209.6,521.2 1210.1,521.3 1210.5,520.9 1211.0,521.5 1211.4,521.6 1211.9,521.5 1212.3,521.8 1212.8,521.4 1213.3,521.4 1213.7,521.4 1214.2,520.9 1214.6,520.9 1215.1,521.4 1215.5,521.5 1216.0,521.0 1216.4,521.1 1216.9,521.7 1217.3,521.5 1217.8,521.5 1218.2,521.7 1218.7,521.5 1219.1,521.7 1219.6,521.1 1220.0,521.2 1220.5,521.8 1221.0,521.5 1221.4,521.5 1221.9,521.0 1222.3,521.5 1222.8,521.1 1223.2,520.9 1223.7,521.6 1224.1,521.2 1224.6,521.3 1225.0,521.1 1225.5,521.7 1225.9,521.4 1226.4,521.8 1226.8,521.1 1227.3,521.8 1227.8,521.3 1228.2,521.7 1228.7,521.5 1229.1,521.5 1229.6,521.3 1230.0,521.2 1230.5,521.0 1230.9,521.0 1231.4,521.3 1231.8,521.6 1232.3,521.0 1232.7,521.6 1233.2,521.3 1233.6,521.5 1234.1,521.5 1234.6,521.3 1235.0,521.6 1235.5,521.3 1235.9,521.3 1236.4,521.1 1236.8,521.0 1237.3,521.1 1237.7,521.3 1238.2,520.9 1238.6,521.1 1239.1,521.6 1239.5,521.2 1240.0,521.2 1240.4,521.5 1240.9,521.3 1241.4,521.4 1241.8,521.5 1242.3,521.3 1242.7,521.5 1243.2,521.6 1243.6,521.3 1244.1,521.8 1244.5,521.0 1245.0,521.4 1245.4,521.3 1245.9,521.1" fill="none" stroke="#007000" stroke-width="2.5" stroke-linejoin="round" />
<polyline points="112.7,521.5 113.1,522.4 113.6,521.6 114.0,521.8 114.5,521.6 114.9,521.7 115.4,521.5 115.8,521.8 116.3,521.9 116.7,521.7 117.2,521.7 117.6,521.9 118.1,521.8 118.5,521.7 119.0,521.7 119.4,521.9 119.9,521.9 120.4,522.1 120.8,521.5 121.3,521.8 121.7,521.5 122.2,521.7 122.6,521.4 123.1,521.5 123.5,521.7 124.0,521.5 124.4,522.0 124.9,521.6 125.3,522.1 125.8,521.7 126.2,521.6 126.7,521.8 127.2,521.9 127.6,522.0 128.1,521.9 128.5,521.6 129.0,521.6 129.4,521.8 129.9,522.0 130.3,521.6 130.8,522.1 131.2,521.9 131.7,521.9 132.1,521.6 132.6,521.6 133.0,521.5 133.5,521.5 134.0,521.7 134.4,521.3 134.9,521.0 135.3,521.3 135.8,521.0 136.2,521.1 136.7,520.7 137.1,520.7 137.6,520.5 138.0,520.6 138.5,520.1 138.9,520.6 139.4,520.6 139.8,520.7 140.3,520.3 140.8,520.7 141.2,520.8 141.7,520.5 142.1,520.4 142.6,520.7 143.0,521.7 143.5,521.3 143.9,521.5 144.4,521.6 144.8,521.5 145.3,521.0 145.7,521.6 146.2,521.8 146.6,521.5 147.1,521.7 147.6,521.7 148.0,521.9 148.5,521.8 148.9,521.7 149.4,522.2 149.8,522.1 150.3,521.6 150.7,521.6 151.2,521.9 151.6,522.0 152.1,521.8 152.5,522.0 153.0,521.9 153.4,521.5 153.9,521.8 154.4,521.6 154.8,521.8 155.3,521.7 155.7,521.5 156.2,522.1 156.6,521.9 157.1,521.8 157.5,521.7 158.0,521.5 158.4,521.7 158.9,522.1 159.3,521.9 159.8,522.0 160.2,522.0 160.7,521.4 161.2,522.0 161.6,521.8 162.1,521.9 162.5,521.6 163.0,521.7 163.4,521.8 163.9,521.8 164.3,521.6 164.8,522.0 165.2,521.9 165.7,522.0 166.1,521.5 166.6,521.9 167.0,522.0 167.5,521.9 168.0,521.3 168.4,521.8 168.9,521.6 169.3,521.7 169.8,521.8 170.2,521.9 170.7,521.9 171.1,521.9 171.6,522.2 172.0,521.3 172.5,521.6 172.9,521.8 173.4,521.8 173.8,521.9 174.3,521.6 174.8,521.8 175.2,521.7 175.7,522.1 176.1,521.7 176.6,521.4 177.0,521.9 177.5,521.6 177.9,521.8 178.4,521.6 178.8,521.6 179.3,521.8 179.7,521.9 180.2,521.7 180.6,521.8 181.1,521.9 181.6,521.7 182.0,521.7 182.5,522.0 182.9,521.8 183.4,521.2 183.8,521.6 184.3,521.8 184.7,521.3 185.2,521.9 185.6,522.3 186.1,522.2 186.5,522.1 187.0,521.8 187.4,521.6 187.9,522.2 188.4,521.6 188.8,522.0 189.3,521.8 189.7,521.7 190.2,521.7 190.6,521.8 191.1,521.8 191.5,522.0 192.0,521.7 192.4,521.6 192.9,521.6 193.3,521.3 193.8,521.6 194.2,521.7 194.7,521.5 195.1,521.8 195.6,522.0 196.1,522.2 196.5,521.6 197.0,521.7 197.4,521.6 197.9,521.9 198.3,521.7 198.8,521.4 199.2,521.7 199.7,522.0 200.1,521.9 200.6,521.5 201.0,522.0 201.5,522.3 201.9,522.2 202.4,522.1 202.9,521.6 203.3,521.8 203.8,521.9 204.2,522.0 204.7,521.8 205.1,521.8 205.6,521.9 206.0,521.8 206.5,521.9 206.9,521.5 207.4,522.2 207.8,521.8 208.3,522.0 208.7,521.7 209.2,521.8 209.7,521.7 210.1,521.7 210.6,521.8 211.0,521.6 211.5,522.1 211.9,521.6 212.4,521.8 212.8,521.7 213.3,521.5 213.7,521.6 214.2,521.4 214.6,522.2 215.1,522.0 215.5,521.6 216.0,522.0 216.5,521.8 216.9,521.5 217.4,521.6 217.8,522.0 218.3,521.7 218.7,521.7 219.2,521.8 219.6,521.8 220.1,521.8 220.5,522.1 221.0,521.8 221.4,522.0 221.9,521.7 222.3,521.7 222.8,522.0 223.3,521.7 223.7,521.7 224.2,521.8 224.6,521.7 225.1,521.9 225.5,521.9 226.0,521.8 226.4,521.8 226.9,521.6 227.3,522.2 227.8,521.9 228.2,522.2 228.7,521.9 229.1,521.8 229.6,521.8 230.1,521.6 230.5,521.7 231.0,522.3 231.4,522.0 231.9,521.5 232.3,521.5 232.8,521.8 233.2,522.1 233.7,521.4 234.1,522.2 234.6,521.8 235.0,521.8 235.5,521.8 235.9,522.0 236.4,521.9 236.9,521.6 237.3,521.9 237.8,522.1 238.2,521.8 238.7,521.8 239.1,521.8 239.6,522.0 240.0,521.7 240.5,521.8 240.9,522.0 241.4,521.8 241.8,521.8 242.3,521.8 242.7,522.1 243.2,522.0 243.7,521.7 244.1,521.6 244.6,521.7 245.0,521.8 245.5,521.7 245.9,521.6 246.4,521.5 246.8,521.7 247.3,521.9 247.7,521.7 248.2,522.2 248.6,521.8 249.1,521.9 249.5,521.8 250.0,521.7 250.5,521.8 250.9,522.1 251.4,521.9 251.8,522.0 252.3,521.8 252.7,521.7 253.2,522.0 253.6,521.7 254.1,521.6 254.5,521.9 255.0,521.7 255.4,522.1 255.9,521.9 256.3,521.6 256.8,522.1 257.3,521.9 257.7,522.0 258.2,521.6 258.6,521.6 259.1,521.9 259.5,521.8 260.0,522.3 260.4,521.6 260.9,521.7 261.3,521.5 261.8,522.3 262.2,521.7 262.7,521.9 263.1,522.3 263.6,521.9 264.1,521.8 264.5,521.6 265.0,521.7 265.4,521.9 265.9,521.7 266.3,521.8 266.8,521.9 267.2,521.9 267.7,521.7 268.1,521.7 268.6,521.3 269.0,521.8 269.5,521.3 269.9,521.6 270.4,521.4 270.8,521.9 271.3,521.8 271.8,521.7 272.2,521.4 272.7,521.6 273.1,521.4 273.6,521.5 274.0,521.3 274.5,521.5 274.9,521.7 275.4,521.4 275.8,521.5 276.3,521.1 276.7,521.5 277.2,521.5 277.6,521.5 278.1,521.2 278.6,521.2 279.0,521.3 279.5,521.7 279.9,521.8 280.4,521.3 280.8,521.2 281.3,520.9 281.7,521.8 282.2,521.3 282.6,521.7 283.1,521.5 283.5,521.3 284.0,520.9 284.4,521.3 284.9,521.4 285.4,521.2 285.8,520.8 286.3,520.4 286.7,521.5 287.2,521.1 287.6,521.1 288.1,520.7 288.5,520.8 289.0,520.5 289.4,521.2 289.9,520.9 290.3,521.0 290.8,521.1 291.2,520.8 291.7,521.1 292.2,520.1 292.6,520.6 293.1,521.0 293.5,520.8 294.0,520.1 294.4,520.7 294.9,520.3 295.3,520.3 295.8,520.1 296.2,520.2 296.7,520.3 297.1,520.4 297.6,520.6 298.0,520.0 298.5,519.8 299.0,519.8 299.4,519.6 299.9,519.8 300.3,518.5 300.8,519.2 301.2,519.3 301.7,518.9 302.1,518.5 302.6,518.0 303.0,518.9 303.5,517.5 303.9,517.5 304.4,516.8 304.8,515.6 305.3,515.0 305.8,514.8 306.2,513.6 306.7,511.6 307.1,510.7 307.6,509.8 308.0,509.0 308.5,507.2 308.9,506.2 309.4,505.2 309.8,503.6 310.3,500.6 310.7,498.3 311.2,495.2 311.6,493.6 312.1,489.4 312.6,487.7 313.0,483.4 313.5,480.9 313.9,478.5 314.4,475.2 314.8,470.5 315.3,466.5 315.7,461.0 316.2,458.3 316.6,454.9 317.1,449.4 317.5,443.7 318.0,440.4 318.4,439.5 318.9,435.9 319.4,432.0 319.8,429.9 320.3,426.3 320.7,423.0 321.2,420.6 321.6,416.7 322.1,412.9 322.5,408.1 323.0,405.4 323.4,399.2 323.9,396.1 324.3,391.8 324.8,388.7 325.2,378.6 325.7,379.2 326.2,376.1 326.6,374.1 327.1,373.1 327.5,370.6 328.0,368.6 328.4,367.1 328.9,365.8 329.3,363.6 329.8,369.1 330.2,364.9 330.7,362.4 331.1,363.0 331.6,361.8 332.0,358.7 332.5,360.0 333.0,357.7 333.4,360.8 333.9,361.4 334.3,364.5 334.8,367.1 335.2,366.2 335.7,366.7 336.1,368.5 336.6,371.2 337.0,369.6 337.5,371.8 337.9,373.3 338.4,375.7 338.8,373.9 339.3,375.7 339.8,378.9 340.2,381.1 340.7,382.4 341.1,382.2 341.6,382.5 342.0,387.9 342.5,390.2 342.9,393.8 343.4,389.4 343.8,396.1 344.3,395.1 344.7,397.1 345.2,397.4 345.6,401.5 346.1,403.7 346.6,402.7 347.0,403.7 347.5,404.1 347.9,409.0 348.4,408.8 348.8,409.8 349.3,412.4 349.7,412.2 350.2,412.2 350.6,414.3 351.1,417.0 351.5,415.7 352.0,415.9 352.4,417.0 352.9,417.2 353.3,420.5 353.8,418.2 354.3,418.1 354.7,418.3 355.2,415.9 355.6,414.1 356.1,408.6 356.5,407.4 357.0,405.4 357.4,401.4 357.9,398.6 358.3,394.9 358.8,394.2 359.2,391.8 359.7,389.0 360.1,385.7 360.6,387.4 361.1,389.2 361.5,386.7 362.0,387.5 362.4,388.5 362.9,386.6 363.3,386.0 363.8,384.3 364.2,382.6 364.7,382.4 365.1,382.3 365.6,383.3 366.0,381.9 366.5,381.6 366.9,379.0 367.4,381.2 367.9,380.5 368.3,377.3 368.8,378.1 369.2,379.1 369.7,378.1 370.1,378.0 370.6,377.9 371.0,377.3 371.5,378.2 371.9,379.3 372.4,380.3 372.8,382.6 373.3,381.5 373.7,380.1 374.2,382.1 374.7,384.1 375.1,384.3 375.6,385.9 376.0,385.2 376.5,383.8 376.9,385.0 377.4,386.8 377.8,388.4 378.3,390.9 378.7,393.4 379.2,393.0 379.6,394.9 380.1,394.6 380.5,396.8 381.0,399.2 381.5,399.5 381.9,398.2 382.4,404.9 382.8,404.4 383.3,407.1 383.7,409.9 384.2,412.7 384.6,413.8 385.1,415.6 385.5,417.0 386.0,419.3 386.4,422.1 386.9,425.6 387.3,426.9 387.8,430.3 388.3,433.3 388.7,433.6 389.2,437.5 389.6,440.3 390.1,441.0 390.5,445.2 391.0,445.3 391.4,446.8 391.9,449.7 392.3,451.0 392.8,451.0 393.2,453.7 393.7,456.1 394.1,458.2 394.6,461.1 395.1,462.6 395.5,464.5 396.0,465.9 396.4,467.5 396.9,470.1 397.3,469.6 397.8,473.6 398.2,474.0 398.7,475.0 399.1,477.5 399.6,479.5 400.0,480.4 400.5,480.3 400.9,482.7 401.4,484.7 401.9,485.3 402.3,487.1 402.8,489.5 403.2,489.1 403.7,489.7 404.1,490.7 404.6,492.7 405.0,494.7 405.5,493.8 405.9,495.7 406.4,496.0 406.8,496.6 407.3,498.0 407.7,499.0 408.2,500.1 408.7,500.7 409.1,501.1 409.6,502.1 410.0,502.2 410.5,504.3 410.9,504.3 411.4,504.3 411.8,505.3 412.3,505.8 412.7,506.7 413.2,506.2 413.6,506.2 414.1,508.1 414.5,507.4 415.0,509.3 415.5,508.9 415.9,510.4 416.4,509.5 416.8,510.1 417.3,510.4 417.7,510.2 418.2,510.8 418.6,511.5 419.1,512.2 419.5,512.1 420.0,512.7 420.4,512.9 420.9,512.3 421.3,512.8 421.8,513.4 422.3,513.5 422.7,514.7 423.2,514.3 423.6,515.3 424.1,515.1 424.5,514.9 425.0,515.1 425.4,515.2 425.9,515.6 426.3,515.8 426.8,516.1 427.2,515.6 427.7,515.9 428.1,517.2 428.6,516.7 429.0,516.3 429.5,517.1 430.0,517.0 430.4,517.5 430.9,517.8 431.3,517.4 431.8,517.7 432.2,517.7 432.7,518.3 433.1,518.3 433.6,518.0 434.0,518.2 434.5,518.0 434.9,518.7 435.4,518.1 435.8,518.2 436.3,518.5 436.8,518.4 437.2,518.7 437.7,518.9 438.1,518.9 438.6,519.4 439.0,519.0 439.5,518.8 439.9,519.7 440.4,519.0 440.8,519.5 441.3,519.5 441.7,519.4 442.2,519.4 442.6,519.1 443.1,519.6 443.6,519.1 444.0,519.7 444.5,519.6 444.9,519.6 445.4,520.0 445.8,520.2 446.3,519.8 446.7,519.7 447.2,519.6 447.6,520.1 448.1,519.4 448.5,520.0 449.0,520.2 449.4,519.6 449.9,519.6 450.4,520.3 450.8,519.8 451.3,520.4 451.7,520.0 452.2,519.3 452.6,519.6 453.1,519.8 453.5,519.9 454.0,520.3 454.4,520.0 454.9,520.0 455.3,520.4 455.8,520.1 456.2,520.0 456.7,520.1 457.2,520.0 457.6,520.2 458.1,520.5 458.5,520.2 459.0,520.8 459.4,520.4 459.9,519.9 460.3,519.7 460.8,520.1 461.2,521.0 461.7,519.8 462.1,520.1 462.6,520.3 463.0,520.0 463.5,520.1 464.0,520.6 464.4,520.7 464.9,520.0 465.3,521.0 465.8,520.1 466.2,520.2 466.7,520.0 467.1,519.8 467.6,519.9 468.0,519.9 468.5,520.1 468.9,520.2 469.4,520.0 469.8,520.3 470.3,520.6 470.8,520.4 471.2,520.8 471.7,520.5 472.1,519.7 472.6,520.2 473.0,520.4 473.5,520.5 473.9,520.9 474.4,520.5 474.8,520.6 475.3,520.4 475.7,521.3 476.2,521.3 476.6,521.8 477.1,520.9 477.6,521.2 478.0,521.3 478.5,521.4 478.9,521.2 479.4,521.0 479.8,521.2 480.3,521.6 480.7,521.6 481.2,521.9 481.6,521.3 482.1,521.1 482.5,521.0 483.0,521.3 483.4,521.1 483.9,521.6 484.4,521.2 484.8,521.4 485.3,521.5 485.7,521.8 486.2,521.0 486.6,521.9 487.1,521.2 487.5,521.5 488.0,521.2 488.4,521.5 488.9,521.1 489.3,521.4 489.8,521.6 490.2,521.5 490.7,521.7 491.2,521.3 491.6,521.1 492.1,521.2 492.5,521.3 493.0,521.0 493.4,521.6 493.9,521.2 494.3,521.3 494.8,521.4 495.2,521.2 495.7,521.6 496.1,521.4 496.6,521.2 497.0,521.6 497.5,521.4 498.0,521.2 498.4,521.1 498.9,521.6 499.3,521.1 499.8,521.4 500.2,521.3 500.7,521.5 501.1,521.1 501.6,521.5 502.0,521.3 502.5,521.2 502.9,521.1 503.4,521.6 503.8,521.1 504.3,521.3 504.8,521.0 505.2,521.4 505.7,521.5 506.1,521.3 506.6,521.4 507.0,521.4 507.5,521.7 507.9,521.9 508.4,521.7 508.8,521.5 509.3,521.2 509.7,521.4 510.2,521.6 510.6,521.4 511.1,521.3 511.5,520.6 512.0,521.0 512.5,521.3 512.9,521.7 513.4,521.4 513.8,521.4 514.3,521.2 514.7,520.8 515.2,521.3 515.6,521.8 516.1,521.4 516.5,521.8 517.0,521.1 517.4,521.0 517.9,521.2 518.3,521.7 518.8,521.4 519.3,521.0 519.7,521.6 520.2,521.5 520.6,521.3 521.1,521.2 521.5,521.3 522.0,521.2 522.4,521.3 522.9,521.5 523.3,521.3 523.8,521.3 524.2,521.6 524.7,521.3 525.1,521.3 525.6,521.2 526.1,521.2 526.5,521.6 527.0,521.6 527.4,521.3 527.9,521.4 528.3,521.3 528.8,521.5 529.2,521.7 529.7,521.3 530.1,521.4 530.6,521.2 531.0,521.0 531.5,521.0 531.9,521.1 532.4,521.6 532.9,521.9 533.3,521.5 533.8,521.6 534.2,521.7 534.7,521.2 535.1,521.7 535.6,521.1 536.0,521.0 536.5,520.6 536.9,521.1 537.4,520.8 537.8,521.5 538.3,521.5 538.7,521.1 539.2,521.7 539.7,521.0 540.1,521.4 540.6,521.8 541.0,520.9 541.5,521.6 541.9,520.7 542.4,521.7 542.8,521.5 543.3,521.3 543.7,521.3 544.2,521.7 544.6,521.3 545.1,521.3 545.5,521.2 546.0,521.7 546.5,521.5 546.9,521.4 547.4,521.1 547.8,521.3 548.3,521.4 548.7,521.4 549.2,521.0 549.6,521.5 550.1,521.3 550.5,521.9 551.0,520.9 551.4,521.2 551.9,521.8 552.3,521.2 552.8,521.0 553.3,521.1 553.7,521.3 554.2,521.1 554.6,521.5 555.1,521.4 555.5,521.4 556.0,521.3 556.4,521.6 556.9,521.0 557.3,521.4 557.8,521.6 558.2,521.4 558.7,521.2 559.1,521.3 559.6,521.0 560.1,521.4 560.5,521.5 561.0,521.2 561.4,521.0 561.9,521.6 562.3,521.7 562.8,521.5 563.2,521.3 563.7,521.6 564.1,521.3 564.6,521.6 565.0,521.1 565.5,521.6 565.9,521.6 566.4,521.3 566.9,521.2 567.3,521.1 567.8,521.5 568.2,521.3 568.7,521.2 569.1,521.0 569.6,521.6 570.0,521.7 570.5,521.2 570.9,521.4 571.4,521.0 571.8,521.3 572.3,521.2 572.7,521.5 573.2,521.3 573.7,521.0 574.1,521.4 574.6,521.6 575.0,521.1 575.5,521.4 575.9,521.3 576.4,521.5 576.8,521.1 577.3,521.5 577.7,521.5 578.2,521.3 578.6,521.4 579.1,521.9 579.5,521.2 580.0,521.6 580.5,521.3 580.9,521.4 581.4,521.4 581.8,521.5 582.3,521.6 582.7,521.3 583.2,521.3 583.6,521.1 584.1,521.2 584.5,521.5 585.0,521.0 585.4,520.8 585.9,521.1 586.3,521.4 586.8,521.6 587.2,521.3 587.7,521.7 588.2,521.1 588.6,521.4 589.1,521.5 589.5,521.3 590.0,521.7 590.4,521.8 590.9,521.4 591.3,521.0 591.8,521.6 592.2,521.1 592.7,521.8 593.1,521.4 593.6,521.2 594.0,520.9 594.5,521.8 595.0,521.4 595.4,521.6 595.9,521.3 596.3,521.5 596.8,521.3 597.2,521.5 597.7,521.5 598.1,521.2 598.6,521.0 599.0,521.3 599.5,521.3 599.9,521.5 600.4,520.9 600.8,521.8 601.3,521.8 601.8,521.5 602.2,521.2 602.7,521.1 603.1,521.2 603.6,521.1 604.0,521.3 604.5,521.5 604.9,521.6 605.4,521.2 605.8,521.6 606.3,521.2 606.7,521.1 607.2,521.5 607.6,521.5 608.1,521.5 608.6,521.2 609.0,521.3 609.5,521.5 609.9,521.3 610.4,521.0 610.8,521.3 611.3,521.3 611.7,521.4 612.2,521.6 612.6,521.3 613.1,521.3 613.5,521.4 614.0,521.0 614.4,521.4 614.9,521.4 615.4,521.3 615.8,521.2 616.3,521.8 616.7,521.3 617.2,521.0 617.6,521.6 618.1,521.2 618.5,521.5 619.0,521.6 619.4,521.3 619.9,521.4 620.3,521.9 620.8,521.5 621.2,521.1 621.7,521.5 622.2,521.5 622.6,521.4 623.1,521.4 623.5,521.1 624.0,521.6 624.4,521.6 624.9,521.2 625.3,521.1 625.8,521.2 626.2,521.1 626.7,521.5 627.1,521.7 627.6,521.5 628.0,521.3 628.5,521.8 629.0,521.4 629.4,521.2 629.9,521.5 630.3,520.8 630.8,521.1 631.2,521.6 631.7,521.6 632.1,521.5 632.6,521.2 633.0,521.2 633.5,521.5 633.9,521.3 634.4,521.1 634.8,521.2 635.3,521.7 635.8,521.6 636.2,521.6 636.7,521.8 637.1,521.1 637.6,521.5 638.0,521.5 638.5,521.5 638.9,521.3 639.4,521.2 639.8,521.2 640.3,521.0 640.7,521.6 641.2,520.9 641.6,520.7 642.1,521.5 642.6,521.4 643.0,521.2 643.5,521.0 643.9,521.4 644.4,521.5 644.8,520.8 645.3,521.5 645.7,522.0 646.2,521.2 646.6,521.1 647.1,520.9 647.5,520.9 648.0,520.5 648.4,521.5 648.9,521.6 649.4,521.7 649.8,520.9 650.3,521.4 650.7,521.8 651.2,521.9 651.6,521.3 652.1,521.4 652.5,521.2 653.0,521.5 653.4,521.5 653.9,521.2 654.3,521.4 654.8,521.2 655.2,521.4 655.7,521.4 656.2,521.2 656.6,521.4 657.1,521.3 657.5,521.2 658.0,521.5 658.4,521.4 658.9,521.3 659.3,521.2 659.8,521.3 660.2,521.3 660.7,521.2 661.1,521.4 661.6,521.2 662.0,521.5 662.5,521.8 663.0,521.2 663.4,521.8 663.9,521.4 664.3,520.9 664.8,521.1 665.2,521.6 665.7,521.1 666.1,521.3 666.6,521.5 667.0,521.4 667.5,521.5 667.9,521.4 668.4,521.2 668.8,521.7 669.3,521.1 669.7,520.8 670.2,521.4 670.7,521.6 671.1,521.4 671.6,521.0 672.0,521.5 672.5,521.2 672.9,520.7 673.4,521.5 673.8,521.3 674.3,521.5 674.7,521.4 675.2,521.3 675.6,521.5 676.1,521.2 676.5,521.3 677.0,521.0 677.5,521.2 677.9,521.2 678.4,520.9 678.8,521.4 679.3,521.2 679.7,521.5 680.2,521.0 680.6,521.5 681.1,521.1 681.5,521.5 682.0,521.3 682.4,521.6 682.9,521.5 683.3,521.6 683.8,521.2 684.3,521.2 684.7,521.1 685.2,521.2 685.6,521.4 686.1,521.1 686.5,520.9 687.0,521.4 687.4,521.5 687.9,521.2 688.3,520.8 688.8,521.3 689.2,521.4 689.7,521.6 690.1,521.5 690.6,521.5 691.1,521.5 691.5,521.0 692.0,521.0 692.4,521.3 692.9,521.3 693.3,521.1 693.8,521.3 694.2,521.3 694.7,521.1 695.1,521.3 695.6,521.0 696.0,520.5 696.5,521.3 696.9,521.2 697.4,521.5 697.9,521.4 698.3,521.3 698.8,521.2 699.2,521.3 699.7,521.6 700.1,521.2 700.6,521.4 701.0,521.2 701.5,521.3 701.9,521.3 702.4,521.3 702.8,521.8 703.3,521.0 703.7,521.5 704.2,521.2 704.7,521.2 705.1,521.4 705.6,521.6 706.0,521.1 706.5,521.5 706.9,521.3 707.4,521.2 707.8,521.4 708.3,521.7 708.7,521.5 709.2,521.2 709.6,521.5 710.1,521.1 710.5,521.7 711.0,521.5 711.5,521.7 711.9,521.5 712.4,520.9 712.8,521.2 713.3,521.4 713.7,521.5 714.2,521.0 714.6,521.3 715.1,521.6 715.5,520.9 716.0,521.6 716.4,521.3 716.9,521.1 717.3,521.1 717.8,520.8 718.3,521.1 718.7,521.5 719.2,521.0 719.6,521.2 720.1,521.6 720.5,521.6 721.0,521.5 721.4,521.9 721.9,521.2 722.3,521.2 722.8,521.2 723.2,521.5 723.7,521.3 724.1,521.0 724.6,521.2 725.1,521.4 725.5,521.5 726.0,521.3 726.4,521.0 726.9,521.3 727.3,520.7 727.8,520.7 728.2,521.1 728.7,521.7 729.1,521.4 729.6,521.0 730.0,521.5 730.5,521.5 730.9,521.3 731.4,520.6 731.9,521.4 732.3,521.8 732.8,521.2 733.2,521.2 733.7,521.1 734.1,521.3 734.6,521.2 735.0,521.4 735.5,521.1 735.9,521.3 736.4,521.2 736.8,521.5 737.3,521.0 737.7,521.3 738.2,521.4 738.7,521.3 739.1,521.6 739.6,521.5 740.0,521.1 740.5,521.2 740.9,521.1 741.4,521.1 741.8,521.4 742.3,521.3 742.7,520.8 743.2,521.4 743.6,521.7 744.1,521.3 744.5,521.4 745.0,521.4 745.4,521.3 745.9,521.6 746.4,521.2 746.8,521.4 747.3,521.2 747.7,521.5 748.2,521.6 748.6,521.4 749.1,520.9 749.5,521.8 750.0,521.1 750.4,521.4 750.9,521.0 751.3,521.4 751.8,521.2 752.2,521.2 752.7,520.8 753.2,521.4 753.6,521.3 754.1,521.5 754.5,521.3 755.0,521.5 755.4,521.4 755.9,521.2 756.3,521.2 756.8,521.6 757.2,521.6 757.7,521.0 758.1,521.5 758.6,521.3 759.0,521.4 759.5,521.7 760.0,521.4 760.4,521.4 760.9,520.9 761.3,521.8 761.8,521.5 762.2,521.2 762.7,521.5 763.1,521.9 763.6,521.2 764.0,521.3 764.5,521.6 764.9,521.6 765.4,521.5 765.8,521.3 766.3,521.4 766.8,521.5 767.2,521.3 767.7,521.1 768.1,521.5 768.6,520.9 769.0,521.3 769.5,521.2 769.9,521.2 770.4,521.2 770.8,521.3 771.3,521.9 771.7,521.6 772.2,521.1 772.6,521.6 773.1,521.3 773.6,521.7 774.0,521.5 774.5,521.0 774.9,521.3 775.4,521.6 775.8,521.5 776.3,521.8 776.7,521.2 777.2,521.4 777.6,521.2 778.1,521.2 778.5,521.4 779.0,521.6 779.4,521.7 779.9,521.5 780.4,521.4 780.8,521.0 781.3,521.6 781.7,521.2 782.2,521.6 782.6,521.5 783.1,521.2 783.5,521.2 784.0,521.5 784.4,521.5 784.9,521.1 785.3,521.4 785.8,521.4 786.2,521.6 786.7,520.7 787.2,520.9 787.6,521.2 788.1,520.8 788.5,521.2 789.0,521.4 789.4,521.2 789.9,521.0 790.3,521.6 790.8,521.0 791.2,521.0 791.7,521.0 792.1,521.2 792.6,521.1 793.0,521.8 793.5,521.4 794.0,521.1 794.4,521.2 794.9,521.3 795.3,521.7 795.8,521.4 796.2,521.8 796.7,521.4 797.1,521.3 797.6,521.5 798.0,521.2 798.5,521.3 798.9,521.1 799.4,521.4 799.8,521.7 800.3,521.7 800.8,521.5 801.2,521.3 801.7,521.3 802.1,521.5 802.6,521.3 803.0,521.5 803.5,521.2 803.9,521.7 804.4,521.0 804.8,521.3 805.3,521.4 805.7,521.6 806.2,521.2 806.6,521.5 807.1,521.2 807.6,520.9 808.0,521.3 808.5,521.3 808.9,521.2 809.4,521.5 809.8,520.8 810.3,521.4 810.7,521.1 811.2,521.2 811.6,521.5 812.1,521.0 812.5,521.2 813.0,521.5 813.4,521.5 813.9,521.8 814.4,521.6 814.8,521.1 815.3,521.1 815.7,521.5 816.2,521.1 816.6,521.0 817.1,521.1 817.5,521.0 818.0,521.8 818.4,521.2 818.9,521.5 819.3,521.1 819.8,521.5 820.2,521.3 820.7,521.1 821.2,521.7 821.6,521.5 822.1,521.5 822.5,521.3 823.0,521.7 823.4,521.1 823.9,520.8 824.3,521.4 824.8,521.2 825.2,522.0 825.7,521.6 826.1,521.1 826.6,521.2 827.0,521.1 827.5,521.0 827.9,521.3 828.4,521.4 828.9,521.4 829.3,521.3 829.8,521.9 830.2,520.9 830.7,521.9 831.1,521.7 831.6,521.3 832.0,521.1 832.5,521.2 832.9,520.9 833.4,521.4 833.8,521.5 834.3,521.2 834.7,521.6 835.2,521.3 835.7,521.2 836.1,521.2 836.6,521.8 837.0,521.4 837.5,521.8 837.9,521.1 838.4,521.4 838.8,521.1 839.3,521.0 839.7,521.7 840.2,521.1 840.6,521.2 841.1,520.9 841.5,521.7 842.0,521.7 842.5,521.5 842.9,521.8 843.4,521.3 843.8,521.5 844.3,521.3 844.7,521.2 845.2,521.1 845.6,521.7 846.1,521.1 846.5,521.1 847.0,521.6 847.4,521.5 847.9,521.7 848.3,521.0 848.8,521.0 849.3,521.6 849.7,521.4 850.2,521.2 850.6,521.2 851.1,521.4 851.5,520.9 852.0,521.6 852.4,521.1 852.9,521.3 853.3,521.3 853.8,521.5 854.2,521.8 854.7,521.5 855.1,521.2 855.6,521.5 856.1,521.8 856.5,521.4 857.0,521.3 857.4,521.6 857.9,521.4 858.3,521.2 858.8,521.3 859.2,521.1 859.7,521.0 860.1,521.3 860.6,521.5 861.0,521.8 861.5,521.1 861.9,521.2 862.4,521.1 862.9,521.5 863.3,521.3 863.8,521.5 864.2,521.6 864.7,521.7 865.1,521.4 865.6,521.2 866.0,521.1 866.5,521.3 866.9,521.4 867.4,520.8 867.8,520.9 868.3,521.1 868.7,521.3 869.2,521.0 869.7,521.5 870.1,521.7 870.6,521.2 871.0,521.3 871.5,521.1 871.9,521.5 872.4,521.3 872.8,521.6 873.3,521.4 873.7,521.2 874.2,521.4 874.6,521.6 875.1,521.7 875.5,521.4 876.0,521.6 876.5,521.7 876.9,521.3 877.4,521.6 877.8,521.0 878.3,520.8 878.7,521.1 879.2,520.6 879.6,521.6 880.1,521.8 880.5,521.4 881.0,521.8 881.4,521.3 881.9,521.1 882.3,521.1 882.8,521.1 883.3,521.4 883.7,521.4 884.2,521.3 884.6,521.3 885.1,521.1 885.5,521.4 886.0,521.3 886.4,521.5 886.9,521.1 887.3,521.3 887.8,521.3 888.2,521.5 888.7,521.8 889.1,521.5 889.6,521.9 890.1,521.4 890.5,521.7 891.0,521.0 891.4,521.5 891.9,521.4 892.3,521.5 892.8,521.6 893.2,521.7 893.7,522.0 894.1,521.5 894.6,521.9 895.0,521.1 895.5,521.7 895.9,521.5 896.4,521.3 896.9,521.4 897.3,521.0 897.8,521.4 898.2,521.5 898.7,521.4 899.1,520.9 899.6,521.1 900.0,521.8 900.5,521.4 900.9,521.6 901.4,521.3 901.8,521.2 902.3,521.3 902.7,521.2 903.2,520.9 903.6,521.8 904.1,521.3 904.6,521.3 905.0,521.2 905.5,521.3 905.9,521.1 906.4,521.3 906.8,521.2 907.3,521.7 907.7,521.3 908.2,521.6 908.6,521.2 909.1,520.9 909.5,521.3 910.0,521.2 910.4,521.1 910.9,521.0 911.4,521.1 911.8,521.0 912.3,521.5 912.7,521.3 913.2,521.7 913.6,520.8 914.1,521.6 914.5,521.1 915.0,521.3 915.4,521.3 915.9,521.6 916.3,521.3 916.8,521.3 917.2,521.2 917.7,521.4 918.2,521.3 918.6,521.6 919.1,521.0 919.5,521.5 920.0,520.4 920.4,521.4 920.9,521.5 921.3,521.3 921.8,521.4 922.2,521.0 922.7,521.0 923.1,521.5 923.6,521.5 924.0,521.5 924.5,521.2 925.0,521.1 925.4,521.1 925.9,521.4 926.3,521.3 926.8,521.1 927.2,521.0 927.7,521.3 928.1,521.0 928.6,521.4 929.0,521.3 929.5,521.0 929.9,521.5 930.4,521.8 930.8,521.6 931.3,521.3 931.8,521.6 932.2,521.3 932.7,521.0 933.1,521.4 933.6,521.0 934.0,521.1 934.5,521.6 934.9,521.1 935.4,521.1 935.8,521.1 936.3,521.3 936.7,521.2 937.2,521.5 937.6,521.5 938.1,521.3 938.6,521.1 939.0,521.5 939.5,520.9 939.9,521.4 940.4,521.2 940.8,521.7 941.3,520.9 941.7,521.1 942.2,521.0 942.6,521.6 943.1,520.9 943.5,521.2 944.0,521.5 944.4,521.4 944.9,521.7 945.4,521.3 945.8,521.1 946.3,521.5 946.7,521.2 947.2,521.6 947.6,522.0 948.1,521.3 948.5,520.9 949.0,521.0 949.4,521.5 949.9,521.0 950.3,521.0 950.8,521.2 951.2,521.4 951.7,521.1 952.2,521.3 952.6,521.4 953.1,521.0 953.5,521.5 954.0,521.1 954.4,520.9 954.9,521.5 955.3,521.3 955.8,521.2 956.2,521.8 956.7,521.4 957.1,521.5 957.6,521.5 958.0,521.5 958.5,521.0 959.0,521.6 959.4,521.3 959.9,521.2 960.3,520.9 960.8,521.7 961.2,521.7 961.7,521.6 962.1,521.4 962.6,521.1 963.0,521.4 963.5,521.3 963.9,520.9 964.4,521.4 964.8,521.3 965.3,520.8 965.8,521.1 966.2,521.5 966.7,521.5 967.1,521.0 967.6,521.6 968.0,521.5 968.5,521.1 968.9,521.0 969.4,520.9 969.8,521.6 970.3,521.2 970.7,522.2 971.2,521.5 971.6,520.6 972.1,520.9 972.6,521.1 973.0,521.6 973.5,521.6 973.9,521.0 974.4,521.4 974.8,521.5 975.3,521.1 975.7,521.1 976.2,521.5 976.6,521.4 977.1,520.7 977.5,521.6 978.0,521.1 978.4,521.5 978.9,521.5 979.4,521.6 979.8,521.3 980.3,521.3 980.7,521.1 981.2,521.5 981.6,521.2 982.1,521.5 982.5,521.5 983.0,521.1 983.4,521.2 983.9,521.7 984.3,521.3 984.8,521.8 985.2,521.6 985.7,520.9 986.1,521.0 986.6,521.4 987.1,521.2 987.5,521.0 988.0,520.9 988.4,520.9 988.9,521.5 989.3,521.3 989.8,521.3 990.2,521.9 990.7,521.5 991.1,521.2 991.6,521.4 992.0,521.5 992.5,521.6 992.9,521.5 993.4,521.3 993.9,521.4 994.3,521.0 994.8,521.1 995.2,521.7 995.7,521.1 996.1,521.3 996.6,521.1 997.0,521.5 997.5,521.1 997.9,521.5 998.4,521.1 998.8,521.3 999.3,521.4 999.7,521.7 1000.2,521.7 1000.7,521.1 1001.1,521.6 1001.6,521.6 1002.0,521.2 1002.5,521.3 1002.9,521.2 1003.4,521.7 1003.8,521.9 1004.3,521.6 1004.7,521.1 1005.2,521.3 1005.6,521.2 1006.1,521.2 1006.5,521.3 1007.0,521.3 1007.5,521.4 1007.9,521.3 1008.4,521.2 1008.8,521.5 1009.3,521.2 1009.7,521.3 1010.2,521.3 1010.6,521.4 1011.1,521.1 1011.5,521.4 1012.0,521.0 1012.4,521.6 1012.9,521.2 1013.3,521.7 1013.8,521.3 1014.3,521.5 1014.7,521.4 1015.2,521.6 1015.6,521.3 1016.1,521.2 1016.5,521.8 1017.0,521.4 1017.4,521.3 1017.9,521.2 1018.3,521.2 1018.8,521.6 1019.2,521.1 1019.7,521.6 1020.1,521.2 1020.6,521.3 1021.1,521.5 1021.5,521.6 1022.0,521.4 1022.4,521.0 1022.9,521.2 1023.3,521.5 1023.8,521.1 1024.2,520.9 1024.7,520.8 1025.1,521.8 1025.6,521.1 1026.0,521.1 1026.5,521.5 1026.9,521.8 1027.4,521.0 1027.9,521.4 1028.3,521.7 1028.8,521.6 1029.2,521.1 1029.7,520.8 1030.1,521.1 1030.6,521.5 1031.0,521.0 1031.5,521.8 1031.9,521.1 1032.4,521.1 1032.8,520.9 1033.3,521.1 1033.7,521.0 1034.2,521.3 1034.7,521.4 1035.1,521.3 1035.6,520.8 1036.0,521.5 1036.5,521.3 1036.9,521.4 1037.4,521.2 1037.8,521.2 1038.3,520.8 1038.7,520.8 1039.2,521.0 1039.6,521.1 1040.1,521.4 1040.5,521.7 1041.0,521.3 1041.5,521.3 1041.9,521.6 1042.4,521.3 1042.8,521.1 1043.3,521.5 1043.7,521.1 1044.2,521.2 1044.6,521.5 1045.1,521.3 1045.5,521.1 1046.0,521.4 1046.4,521.3 1046.9,521.0 1047.3,521.2 1047.8,521.2 1048.3,521.4 1048.7,521.1 1049.2,520.9 1049.6,521.6 1050.1,521.7 1050.5,521.5 1051.0,521.4 1051.4,521.6 1051.9,521.8 1052.3,520.9 1052.8,521.4 1053.2,521.5 1053.7,522.1 1054.1,521.1 1054.6,521.7 1055.1,521.0 1055.5,521.2 1056.0,521.3 1056.4,521.4 1056.9,521.1 1057.3,521.5 1057.8,521.2 1058.2,521.5 1058.7,521.4 1059.1,520.9 1059.6,521.0 1060.0,521.6 1060.5,521.5 1060.9,521.3 1061.4,521.4 1061.8,521.2 1062.3,521.4 1062.8,521.6 1063.2,521.1 1063.7,521.4 1064.1,521.1 1064.6,521.6 1065.0,520.9 1065.5,521.3 1065.9,521.3 1066.4,521.2 1066.8,521.7 1067.3,521.1 1067.7,521.5 1068.2,521.6 1068.6,521.2 1069.1,520.9 1069.6,521.5 1070.0,520.9 1070.5,521.9 1070.9,521.2 1071.4,521.5 1071.8,521.3 1072.3,520.8 1072.7,521.1 1073.2,521.7 1073.6,520.9 1074.1,521.6 1074.5,521.5 1075.0,521.6 1075.4,521.3 1075.9,521.4 1076.4,520.9 1076.8,521.2 1077.3,521.1 1077.7,521.4 1078.2,521.0 1078.6,521.6 1079.1,521.7 1079.5,521.1 1080.0,521.1 1080.4,521.3 1080.9,520.7 1081.3,521.6 1081.8,520.9 1082.2,520.9 1082.7,521.6 1083.2,521.2 1083.6,521.1 1084.1,521.4 1084.5,521.4 1085.0,521.3 1085.4,521.5 1085.9,521.7 1086.3,521.1 1086.8,521.3 1087.2,521.3 1087.7,521.2 1088.1,521.5 1088.6,521.5 1089.0,521.1 1089.5,521.3 1090.0,521.2 1090.4,521.0 1090.9,520.9 1091.3,521.6 1091.8,521.5 1092.2,521.7 1092.7,521.5 1093.1,521.2 1093.6,521.5 1094.0,520.8 1094.5,521.4 1094.9,521.8 1095.4,521.6 1095.8,520.8 1096.3,521.6 1096.8,521.3 1097.2,521.5 1097.7,521.6 1098.1,521.0 1098.6,521.6 1099.0,521.8 1099.5,521.5 1099.9,521.5 1100.4,521.2 1100.8,521.3 1101.3,521.0 1101.7,521.4 1102.2,521.2 1102.6,521.2 1103.1,521.1 1103.6,521.6 1104.0,521.4 1104.5,522.0 1104.9,521.5 1105.4,521.6 1105.8,521.5 1106.3,520.9 1106.7,521.1 1107.2,521.7 1107.6,520.9 1108.1,521.0 1108.5,521.3 1109.0,521.3 1109.4,521.4 1109.9,521.3 1110.4,521.2 1110.8,521.4 1111.3,521.1 1111.7,521.4 1112.2,521.5 1112.6,521.4 1113.1,521.2 1113.5,521.2 1114.0,521.3 1114.4,521.7 1114.9,521.7 1115.3,521.8 1115.8,521.4 1116.2,521.2 1116.7,521.3 1117.2,521.3 1117.6,521.5 1118.1,521.4 1118.5,521.5 1119.0,521.1 1119.4,521.6 1119.9,521.6 1120.3,521.2 1120.8,521.4 1121.2,521.2 1121.7,521.4 1122.1,521.2 1122.6,521.3 1123.0,521.7 1123.5,521.2 1124.0,521.0 1124.4,521.5 1124.9,521.4 1125.3,521.2 1125.8,520.9 1126.2,521.2 1126.7,520.7 1127.1,521.4 1127.6,520.8 1128.0,521.5 1128.5,521.3 1128.9,521.6 1129.4,521.1 1129.8,521.2 1130.3,521.8 1130.8,522.0 1131.2,520.8 1131.7,521.4 1132.1,521.8 1132.6,521.6 1133.0,521.4 1133.5,520.9 1133.9,521.2 1134.4,521.3 1134.8,521.6 1135.3,521.2 1135.7,521.8 1136.2,521.0 1136.6,521.1 1137.1,521.4 1137.5,521.7 1138.0,521.5 1138.5,521.4 1138.9,520.8 1139.4,520.9 1139.8,521.5 1140.3,521.5 1140.7,521.7 1141.2,521.2 1141.6,521.5 1142.1,521.1 1142.5,521.3 1143.0,521.5 1143.4,521.6 1143.9,521.7 1144.3,521.2 1144.8,521.7 1145.3,521.1 1145.7,521.7 1146.2,522.0 1146.6,521.3 1147.1,521.5 1147.5,521.1 1148.0,521.3 1148.4,521.3 1148.9,521.1 1149.3,521.5 1149.8,521.2 1150.2,520.7 1150.7,521.3 1151.1,521.6 1151.6,521.3 1152.1,521.5 1152.5,521.4 1153.0,520.9 1153.4,521.6 1153.9,521.6 1154.3,521.2 1154.8,521.4 1155.2,521.4 1155.7,521.5 1156.1,521.3 1156.6,520.9 1157.0,521.2 1157.5,521.4 1157.9,521.4 1158.4,521.6 1158.9,521.5 1159.3,521.1 1159.8,521.2 1160.2,521.2 1160.7,521.2 1161.1,521.5 1161.6,521.3 1162.0,521.2 1162.5,520.9 1162.9,521.2 1163.4,521.3 1163.8,521.5 1164.3,521.1 1164.7,521.4 1165.2,521.2 1165.7,521.2 1166.1,521.5 1166.6,521.2 1167.0,521.0 1167.5,521.5 1167.9,521.4 1168.4,521.5 1168.8,521.3 1169.3,520.8 1169.7,521.2 1170.2,521.0 1170.6,521.3 1171.1,521.4 1171.5,521.3 1172.0,521.3 1172.5,521.4 1172.9,521.3 1173.4,521.3 1173.8,521.5 1174.3,520.9 1174.7,521.2 1175.2,521.3 1175.6,521.5 1176.1,521.2 1176.5,521.5 1177.0,521.6 1177.4,521.4 1177.9,521.0 1178.3,521.4 1178.8,521.3 1179.3,521.6 1179.7,521.2 1180.2,521.5 1180.6,521.5 1181.1,521.5 1181.5,521.3 1182.0,521.6 1182.4,521.4 1182.9,521.4 1183.3,521.6 1183.8,521.8 1184.2,521.2 1184.7,521.6 1185.1,521.8 1185.6,521.3 1186.1,521.3 1186.5,521.0 1187.0,521.0 1187.4,521.9 1187.9,521.5 1188.3,521.2 1188.8,521.7 1189.2,521.0 1189.7,521.2 1190.1,521.5 1190.6,521.5 1191.0,521.2 1191.5,520.8 1191.9,520.8 1192.4,521.7 1192.9,521.2 1193.3,521.7 1193.8,521.4 1194.2,521.6 1194.7,521.4 1195.1,521.4 1195.6,521.2 1196.0,521.5 1196.5,521.1 1196.9,521.3 1197.4,521.6 1197.8,520.9 1198.3,521.2 1198.7,521.4 1199.2,521.3 1199.7,521.1 1200.1,521.4 1200.6,521.5 1201.0,521.4 1201.5,521.5 1201.9,521.5 1202.4,520.9 1202.8,521.1 1203.3,521.0 1203.7,521.4 1204.2,521.8 1204.6,521.4 1205.1,521.2 1205.5,521.4 1206.0,521.3 1206.5,521.6 1206.9,521.2 1207.4,521.4 1207.8,521.3 1208.3,521.1 1208.7,521.5 1209.2,521.6 1209.6,521.5 1210.1,521.2 1210.5,521.4 1211.0,521.1 1211.4,521.2 1211.9,521.0 1212.3,521.3 1212.8,521.0 1213.3,521.1 1213.7,521.8 1214.2,521.0 1214.6,521.1 1215.1,521.4 1215.5,521.6 1216.0,521.8 1216.4,521.3 1216.9,521.5 1217.3,521.6 1217.8,521.6 1218.2,521.7 1218.7,521.1 1219.1,521.5 1219.6,521.3 1220.0,521.3 1220.5,521.2 1221.0,521.4 1221.4,521.1 1221.9,521.5 1222.3,520.8 1222.8,521.7 1223.2,521.1 1223.7,520.8 1224.1,521.6 1224.6,521.0 1225.0,520.8 1225.5,521.4 1225.9,520.9 1226.4,521.5 1226.8,521.2 1227.3,521.4 1227.8,521.6 1228.2,521.6 1228.7,521.5 1229.1,521.7 1229.6,521.3 1230.0,521.3 1230.5,521.0 1230.9,521.2 1231.4,521.4 1231.8,521.4 1232.3,520.7 1232.7,521.7 1233.2,521.7 1233.6,520.7 1234.1,521.0 1234.6,521.3 1235.0,521.2 1235.5,521.1 1235.9,521.7 1236.4,521.4 1236.8,521.1 1237.3,521.1 1237.7,521.0 1238.2,521.2 1238.6,521.4 1239.1,521.5 1239.5,521.2 1240.0,521.3 1240.4,521.2 1240.9,520.9 1241.4,521.0 1241.8,521.6 1242.3,521.0 1242.7,521.6 1243.2,521.7 1243.6,520.8 1244.1,521.2 1244.5,521.5 1245.0,521.4 1245.4,521.1 1245.9,520.8" fill="none" stroke="#FF7400" stroke-width="2.5" stroke-linejoin="round" />
<polyline points="112.7,521.7 113.1,521.9 113.6,522.0 114.0,522.2 114.5,521.9 114.9,521.6 115.4,521.8 115.8,521.7 116.3,521.7 116.7,521.9 117.2,521.4 117.6,521.9 118.1,521.7 118.5,521.4 119.0,521.8 119.4,521.8 119.9,521.9 120.4,521.8 120.8,522.1 121.3,521.9 121.7,521.6 122.2,521.8 122.6,521.8 123.1,521.7 123.5,521.7 124.0,521.8 124.4,521.7 124.9,522.0 125.3,521.7 125.8,521.9 126.2,521.7 126.7,521.8 127.2,521.9 127.6,521.8 128.1,521.9 128.5,521.7 129.0,521.8 129.4,521.7 129.9,522.0 130.3,521.6 130.8,521.8 131.2,521.6 131.7,521.7 132.1,522.0 132.6,521.8 133.0,521.9 133.5,521.7 134.0,521.6 134.4,521.7 134.9,521.6 135.3,522.0 135.8,521.8 136.2,521.7 136.7,521.6 137.1,521.9 137.6,521.7 138.0,521.7 138.5,522.0 138.9,521.9 139.4,521.7 139.8,522.0 140.3,522.0 140.8,521.7 141.2,521.8 141.7,521.8 142.1,521.8 142.6,521.9 143.0,521.9 143.5,521.9 143.9,521.7 144.4,521.6 144.8,521.9 145.3,521.8 145.7,521.8 146.2,522.0 146.6,521.8 147.1,521.7 147.6,521.9 148.0,521.7 148.5,521.9 148.9,521.6 149.4,521.6 149.8,521.9 150.3,522.1 150.7,521.8 151.2,522.0 151.6,522.0 152.1,521.8 152.5,521.6 153.0,521.8 153.4,521.8 153.9,522.1 154.4,521.9 154.8,522.0 155.3,521.7 155.7,521.9 156.2,521.8 156.6,521.8 157.1,521.8 157.5,521.7 158.0,521.7 158.4,521.8 158.9,521.8 159.3,521.7 159.8,521.6 160.2,521.8 160.7,521.6 161.2,521.9 161.6,521.8 162.1,522.0 162.5,521.7 163.0,521.9 163.4,521.9 163.9,521.7 164.3,521.9 164.8,521.9 165.2,521.7 165.7,521.8 166.1,521.7 166.6,521.9 167.0,521.7 167.5,521.6 168.0,521.8 168.4,521.5 168.9,521.9 169.3,521.8 169.8,521.8 170.2,521.7 170.7,521.8 171.1,521.9 171.6,521.8 172.0,521.6 172.5,521.9 172.9,522.0 173.4,521.8 173.8,521.7 174.3,521.9 174.8,521.8 175.2,522.1 175.7,521.8 176.1,521.8 176.6,521.7 177.0,521.8 177.5,521.7 177.9,521.9 178.4,521.7 178.8,522.0 179.3,521.9 179.7,521.6 180.2,521.7 180.6,522.1 181.1,521.7 181.6,521.9 182.0,521.9 182.5,521.8 182.9,521.8 183.4,521.6 183.8,522.0 184.3,521.9 184.7,521.8 185.2,522.1 185.6,521.6 186.1,521.6 186.5,521.9 187.0,521.7 187.4,521.8 187.9,521.8 188.4,521.9 188.8,521.7 189.3,522.0 189.7,521.6 190.2,521.7 190.6,521.5 191.1,522.0 191.5,521.8 192.0,522.0 192.4,521.8 192.9,521.7 193.3,521.9 193.8,522.0 194.2,522.0 194.7,521.8 195.1,521.6 195.6,521.6 196.1,521.8 196.5,521.9 197.0,521.9 197.4,522.0 197.9,522.0 198.3,521.6 198.8,521.8 199.2,521.8 199.7,521.8 200.1,521.6 200.6,521.6 201.0,521.9 201.5,521.9 201.9,521.9 202.4,521.6 202.9,521.6 203.3,521.8 203.8,521.5 204.2,521.8 204.7,522.0 205.1,522.1 205.6,521.8 206.0,521.8 206.5,521.9 206.9,521.7 207.4,521.6 207.8,521.8 208.3,521.7 208.7,521.6 209.2,521.7 209.7,521.9 210.1,521.7 210.6,521.7 211.0,521.5 211.5,521.9 211.9,522.0 212.4,521.8 212.8,521.8 213.3,521.9 213.7,521.7 214.2,521.8 214.6,521.6 215.1,521.9 215.5,521.9 216.0,521.8 216.5,521.9 216.9,521.6 217.4,521.7 217.8,521.8 218.3,521.6 218.7,521.7 219.2,521.7 219.6,521.7 220.1,521.8 220.5,521.8 221.0,521.8 221.4,522.0 221.9,521.8 222.3,521.7 222.8,521.8 223.3,521.9 223.7,521.5 224.2,521.9 224.6,521.7 225.1,521.7 225.5,521.6 226.0,521.9 226.4,521.8 226.9,521.8 227.3,521.6 227.8,521.7 228.2,521.7 228.7,521.7 229.1,521.5 229.6,521.7 230.1,521.7 230.5,521.9 231.0,521.7 231.4,522.0 231.9,521.7 232.3,521.8 232.8,521.9 233.2,522.0 233.7,521.8 234.1,521.8 234.6,521.9 235.0,521.8 235.5,521.8 235.9,521.9 236.4,521.8 236.9,521.8 237.3,521.6 237.8,521.7 238.2,521.9 238.7,521.6 239.1,521.6 239.6,521.8 240.0,521.6 240.5,521.9 240.9,521.9 241.4,521.9 241.8,521.6 242.3,521.8 242.7,521.7 243.2,521.8 243.7,521.8 244.1,521.7 244.6,521.7 245.0,521.5 245.5,521.9 245.9,521.6 246.4,521.7 246.8,522.0 247.3,521.6 247.7,521.6 248.2,521.6 248.6,521.7 249.1,521.8 249.5,522.1 250.0,521.7 250.5,521.8 250.9,521.9 251.4,521.8 251.8,521.9 252.3,521.5 252.7,522.0 253.2,521.9 253.6,522.1 254.1,521.8 254.5,521.8 255.0,521.8 255.4,521.9 255.9,521.7 256.3,521.8 256.8,521.6 257.3,521.8 257.7,522.0 258.2,521.8 258.6,521.9 259.1,521.7 259.5,521.9 260.0,521.8 260.4,521.8 260.9,522.0 261.3,521.8 261.8,521.7 262.2,521.9 262.7,521.8 263.1,521.8 263.6,521.9 264.1,521.8 264.5,521.7 265.0,521.8 265.4,521.8 265.9,521.8 266.3,521.9 266.8,522.0 267.2,521.5 267.7,521.5 268.1,521.8 268.6,521.6 269.0,521.6 269.5,521.6 269.9,521.8 270.4,522.0 270.8,522.0 271.3,521.8 271.8,521.5 272.2,521.5 272.7,521.8 273.1,521.8 273.6,521.5 274.0,521.4 274.5,521.9 274.9,521.6 275.4,521.7 275.8,521.7 276.3,521.7 276.7,521.7 277.2,521.7 277.6,521.9 278.1,521.7 278.6,521.5 279.0,521.5 279.5,521.5 279.9,521.6 280.4,521.6 280.8,521.3 281.3,521.6 281.7,521.6 282.2,521.4 282.6,521.6 283.1,521.8 283.5,521.7 284.0,521.6 284.4,521.6 284.9,521.6 285.4,521.3 285.8,521.4 286.3,521.4 286.7,521.6 287.2,521.3 287.6,521.3 288.1,521.0 288.5,521.6 289.0,521.5 289.4,521.2 289.9,521.7 290.3,521.4 290.8,521.4 291.2,521.4 291.7,521.6 292.2,521.4 292.6,521.7 293.1,521.1 293.5,521.4 294.0,521.3 294.4,521.3 294.9,521.2 295.3,521.2 295.8,521.1 296.2,521.3 296.7,521.1 297.1,521.3 297.6,521.2 298.0,521.1 298.5,521.1 299.0,521.1 299.4,520.8 299.9,520.4 300.3,520.4 300.8,520.5 301.2,520.1 301.7,520.0 302.1,519.2 302.6,520.3 303.0,519.5 303.5,519.6 303.9,518.3 304.4,518.3 304.8,517.5 305.3,516.9 305.8,516.0 306.2,516.8 306.7,515.3 307.1,514.0 307.6,513.9 308.0,512.2 308.5,510.9 308.9,511.2 309.4,509.7 309.8,507.9 310.3,506.0 310.7,505.2 311.2,504.1 311.6,503.7 312.1,501.8 312.6,500.2 313.0,499.2 313.5,496.9 313.9,495.8 314.4,494.2 314.8,490.5 315.3,490.4 315.7,486.9 316.2,486.7 316.6,484.5 317.1,483.3 317.5,480.5 318.0,476.4 318.4,475.4 318.9,474.8 319.4,469.2 319.8,468.9 320.3,466.0 320.7,463.0 321.2,462.0 321.6,455.7 322.1,453.1 322.5,452.0 323.0,448.7 323.4,447.0 323.9,445.2 324.3,442.9 324.8,442.3 325.2,439.4 325.7,437.9 326.2,433.3 326.6,435.5 327.1,430.8 327.5,430.2 328.0,429.9 328.4,430.1 328.9,426.5 329.3,426.4 329.8,427.7 330.2,427.5 330.7,426.8 331.1,424.6 331.6,427.7 332.0,426.4 332.5,425.0 333.0,428.1 333.4,426.7 333.9,425.7 334.3,428.1 334.8,428.4 335.2,430.8 335.7,429.2 336.1,431.7 336.6,431.4 337.0,431.2 337.5,433.0 337.9,432.1 338.4,433.0 338.8,434.0 339.3,434.2 339.8,436.3 340.2,439.3 340.7,436.6 341.1,437.4 341.6,439.6 342.0,440.7 342.5,439.3 342.9,441.8 343.4,442.5 343.8,443.3 344.3,441.0 344.7,445.1 345.2,447.8 345.6,445.9 346.1,447.6 346.6,449.1 347.0,447.9 347.5,449.3 347.9,448.5 348.4,450.5 348.8,449.6 349.3,450.5 349.7,452.2 350.2,452.1 350.6,451.8 351.1,453.8 351.5,456.8 352.0,456.1 352.4,456.8 352.9,456.4 353.3,458.3 353.8,457.4 354.3,458.7 354.7,458.0 355.2,457.0 355.6,455.0 356.1,453.1 356.5,450.5 357.0,449.7 357.4,448.4 357.9,446.0 358.3,444.2 358.8,443.4 359.2,441.1 359.7,440.0 360.1,437.6 360.6,440.4 361.1,436.2 361.5,440.7 362.0,439.7 362.4,437.1 362.9,438.3 363.3,437.3 363.8,437.3 364.2,438.1 364.7,438.0 365.1,436.7 365.6,435.7 366.0,435.2 366.5,435.5 366.9,435.9 367.4,434.0 367.9,437.7 368.3,435.0 368.8,433.4 369.2,432.9 369.7,433.3 370.1,433.1 370.6,433.5 371.0,434.7 371.5,437.7 371.9,436.1 372.4,436.3 372.8,434.7 373.3,437.5 373.7,437.9 374.2,437.3 374.7,439.6 375.1,439.1 375.6,439.2 376.0,440.8 376.5,441.2 376.9,443.8 377.4,444.0 377.8,443.7 378.3,443.0 378.7,445.7 379.2,446.9 379.6,447.7 380.1,447.1 380.5,450.2 381.0,449.5 381.5,451.1 381.9,451.8 382.4,453.7 382.8,454.0 383.3,453.9 383.7,456.8 384.2,458.2 384.6,461.5 385.1,459.8 385.5,462.1 386.0,462.4 386.4,464.0 386.9,466.2 387.3,467.5 387.8,469.6 388.3,467.9 388.7,470.3 389.2,471.9 389.6,473.0 390.1,474.2 390.5,476.1 391.0,477.3 391.4,477.4 391.9,482.2 392.3,481.8 392.8,483.7 393.2,484.3 393.7,487.5 394.1,487.5 394.6,487.2 395.1,489.9 395.5,489.6 396.0,491.7 396.4,492.3 396.9,494.3 397.3,494.6 397.8,496.2 398.2,495.7 398.7,498.1 399.1,497.5 399.6,498.9 400.0,499.5 400.5,499.3 400.9,501.1 401.4,502.2 401.9,502.5 402.3,502.9 402.8,504.3 403.2,503.7 403.7,505.3 404.1,506.3 404.6,507.1 405.0,507.4 405.5,507.6 405.9,507.9 406.4,509.0 406.8,509.8 407.3,510.0 407.7,511.4 408.2,510.2 408.7,510.7 409.1,511.6 409.6,511.5 410.0,512.6 410.5,511.6 410.9,512.9 411.4,513.3 411.8,512.4 412.3,514.0 412.7,513.7 413.2,514.5 413.6,514.6 414.1,514.7 414.5,515.1 415.0,514.4 415.5,514.8 415.9,515.7 416.4,514.7 416.8,515.9 417.3,516.1 417.7,516.0 418.2,516.8 418.6,516.0 419.1,517.0 419.5,517.3 420.0,516.6 420.4,517.5 420.9,517.4 421.3,517.9 421.8,517.7 422.3,517.7 422.7,518.7 423.2,518.0 423.6,518.4 424.1,517.7 424.5,517.6 425.0,518.2 425.4,518.3 425.9,518.2 426.3,518.3 426.8,519.2 427.2,519.2 427.7,519.0 428.1,519.4 428.6,519.1 429.0,519.0 429.5,519.4 430.0,519.1 430.4,518.8 430.9,519.3 431.3,519.3 431.8,519.5 432.2,519.5 432.7,519.7 433.1,520.0 433.6,519.5 434.0,519.4 434.5,519.8 434.9,519.8 435.4,520.3 435.8,520.0 436.3,519.9 436.8,520.1 437.2,520.1 437.7,520.4 438.1,520.5 438.6,520.3 439.0,519.8 439.5,520.4 439.9,520.7 440.4,520.5 440.8,520.4 441.3,520.1 441.7,520.2 442.2,520.7 442.6,520.8 443.1,520.6 443.6,520.6 444.0,520.9 444.5,520.4 444.9,520.8 445.4,520.6 445.8,520.8 446.3,520.6 446.7,520.8 447.2,520.8 447.6,520.5 448.1,520.8 448.5,520.5 449.0,521.2 449.4,521.0 449.9,521.2 450.4,521.3 450.8,521.0 451.3,520.6 451.7,521.0 452.2,520.8 452.6,521.5 453.1,521.0 453.5,521.4 454.0,521.1 454.4,520.9 454.9,521.3 455.3,521.0 455.8,521.4 456.2,521.2 456.7,521.4 457.2,521.3 457.6,521.3 458.1,521.8 458.5,521.4 459.0,521.5 459.4,521.0 459.9,521.9 460.3,521.4 460.8,521.3 461.2,521.1 461.7,521.2 462.1,521.5 462.6,521.2 463.0,521.5 463.5,521.6 464.0,521.6 464.4,521.6 464.9,521.3 465.3,521.9 465.8,521.9 466.2,521.4 466.7,521.5 467.1,521.5 467.6,521.7 468.0,521.5 468.5,521.7 468.9,521.8 469.4,521.8 469.8,521.7 470.3,521.7 470.8,521.8 471.2,521.4 471.7,521.6 472.1,521.8 472.6,522.0 473.0,521.7 473.5,522.0 473.9,521.9 474.4,521.9 474.8,521.9 475.3,521.7 475.7,522.3 476.2,521.5 476.6,521.7 477.1,521.8 477.6,521.9 478.0,521.6 478.5,521.8 478.9,521.5 479.4,521.8 479.8,521.9 480.3,522.0 480.7,521.8 481.2,521.6 481.6,522.0 482.1,521.5 482.5,521.6 483.0,521.8 483.4,521.5 483.9,522.1 484.4,522.1 484.8,521.7 485.3,521.7 485.7,521.7 486.2,521.8 486.6,522.0 487.1,521.7 487.5,521.8 488.0,521.6 488.4,521.7 488.9,522.0 489.3,521.6 489.8,521.6 490.2,521.6 490.7,521.9 491.2,521.9 491.6,521.6 492.1,521.8 492.5,521.8 493.0,521.6 493.4,521.6 493.9,521.7 494.3,521.8 494.8,521.5 495.2,521.9 495.7,521.7 496.1,521.7 496.6,522.0 497.0,521.9 497.5,521.6 498.0,521.8 498.4,521.9 498.9,521.5 499.3,521.7 499.8,521.7 500.2,521.4 500.7,522.0 501.1,521.8 501.6,521.9 502.0,521.5 502.5,521.9 502.9,521.3 503.4,521.7 503.8,521.7 504.3,521.6 504.8,521.8 505.2,521.9 505.7,521.9 506.1,521.7 506.6,521.9 507.0,521.7 507.5,521.9 507.9,521.8 508.4,521.8 508.8,521.5 509.3,521.3 509.7,521.4 510.2,521.8 510.6,521.8 511.1,521.5 511.5,521.5 512.0,521.5 512.5,521.8 512.9,521.7 513.4,521.8 513.8,521.5 514.3,521.5 514.7,521.7 515.2,521.8 515.6,521.4 516.1,521.7 516.5,521.6 517.0,521.6 517.4,521.6 517.9,521.5 518.3,521.8 518.8,521.8 519.3,521.6 519.7,522.3 520.2,521.7 520.6,521.8 521.1,521.6 521.5,521.6 522.0,521.7 522.4,521.9 522.9,521.7 523.3,521.8 523.8,521.7 524.2,521.7 524.7,521.8 525.1,521.6 525.6,521.8 526.1,521.6 526.5,521.7 527.0,521.5 527.4,521.7 527.9,521.4 528.3,521.8 528.8,521.9 529.2,521.6 529.7,521.9 530.1,521.6 530.6,521.6 531.0,521.7 531.5,521.6 531.9,521.7 532.4,521.5 532.9,521.7 533.3,522.0 533.8,521.8 534.2,521.6 534.7,521.5 535.1,521.6 535.6,521.7 536.0,521.9 536.5,521.4 536.9,521.8 537.4,521.9 537.8,522.1 538.3,521.4 538.7,521.7 539.2,522.0 539.7,521.6 540.1,521.6 540.6,522.0 541.0,521.6 541.5,521.7 541.9,521.6 542.4,521.5 542.8,521.8 543.3,521.3 543.7,521.7 544.2,521.8 544.6,521.5 545.1,521.8 545.5,521.8 546.0,521.6 546.5,521.9 546.9,521.9 547.4,521.7 547.8,521.7 548.3,521.8 548.7,521.6 549.2,521.9 549.6,521.6 550.1,521.9 550.5,521.6 551.0,521.9 551.4,521.6 551.9,521.7 552.3,521.8 552.8,521.7 553.3,521.8 553.7,521.6 554.2,521.8 554.6,521.7 555.1,521.8 555.5,521.8 556.0,521.8 556.4,521.9 556.9,521.7 557.3,521.7 557.8,521.7 558.2,522.0 558.7,521.8 559.1,521.5 559.6,521.5 560.1,521.8 560.5,521.7 561.0,521.7 561.4,521.6 561.9,521.5 562.3,521.7 562.8,521.7 563.2,521.7 563.7,521.7 564.1,521.4 564.6,521.8 565.0,521.6 565.5,521.9 565.9,521.9 566.4,522.0 566.9,521.8 567.3,521.5 567.8,521.4 568.2,521.6 568.7,521.7 569.1,521.5 569.6,521.9 570.0,522.0 570.5,521.9 570.9,521.8 571.4,522.0 571.8,521.9 572.3,521.4 572.7,521.8 573.2,521.8 573.7,521.8 574.1,521.6 574.6,521.6 575.0,521.7 575.5,521.8 575.9,522.1 576.4,522.0 576.8,521.8 577.3,521.8 577.7,521.8 578.2,521.8 578.6,521.4 579.1,521.5 579.5,521.9 580.0,521.6 580.5,521.7 580.9,521.8 581.4,521.8 581.8,521.7 582.3,521.4 582.7,521.8 583.2,521.8 583.6,521.8 584.1,522.0 584.5,521.7 585.0,521.9 585.4,521.7 585.9,521.7 586.3,521.4 586.8,521.8 587.2,521.8 587.7,521.6 588.2,521.4 588.6,521.7 589.1,521.6 589.5,521.6 590.0,521.6 590.4,521.8 590.9,521.9 591.3,521.8 591.8,521.8 592.2,521.7 592.7,521.9 593.1,521.9 593.6,521.7 594.0,521.8 594.5,521.7 595.0,521.9 595.4,521.4 595.9,521.8 596.3,521.8 596.8,521.9 597.2,521.7 597.7,521.6 598.1,521.7 598.6,521.8 599.0,521.8 599.5,521.4 599.9,521.6 600.4,521.8 600.8,521.7 601.3,521.6 601.8,521.7 602.2,521.7 602.7,521.7 603.1,521.8 603.6,521.6 604.0,521.5 604.5,521.6 604.9,521.8 605.4,521.9 605.8,521.7 606.3,521.8 606.7,521.9 607.2,521.6 607.6,521.7 608.1,521.5 608.6,521.6 609.0,521.8 609.5,521.6 609.9,521.7 610.4,521.5 610.8,521.9 611.3,521.8 611.7,521.7 612.2,521.5 612.6,521.6 613.1,521.9 613.5,521.9 614.0,521.6 614.4,522.0 614.9,521.8 615.4,521.7 615.8,521.8 616.3,521.7 616.7,521.6 617.2,521.7 617.6,521.9 618.1,521.5 618.5,521.5 619.0,521.9 619.4,521.8 619.9,521.9 620.3,521.5 620.8,521.8 621.2,521.6 621.7,521.6 622.2,521.5 622.6,521.7 623.1,521.8 623.5,521.6 624.0,521.6 624.4,521.8 624.9,521.7 625.3,522.0 625.8,521.5 626.2,521.8 626.7,521.6 627.1,521.6 627.6,521.6 628.0,521.6 628.5,521.8 629.0,521.7 629.4,521.8 629.9,521.7 630.3,521.8 630.8,521.3 631.2,521.7 631.7,521.5 632.1,521.8 632.6,521.4 633.0,521.7 633.5,521.7 633.9,521.8 634.4,522.0 634.8,522.0 635.3,521.7 635.8,521.9 636.2,521.7 636.7,521.4 637.1,521.8 637.6,521.4 638.0,521.7 638.5,521.9 638.9,521.6 639.4,521.5 639.8,521.6 640.3,521.8 640.7,521.9 641.2,521.6 641.6,521.4 642.1,521.4 642.6,521.8 643.0,521.7 643.5,521.7 643.9,521.5 644.4,521.6 644.8,521.6 645.3,521.7 645.7,522.1 646.2,521.9 646.6,521.7 647.1,522.0 647.5,521.4 648.0,521.8 648.4,521.6 648.9,521.5 649.4,521.5 649.8,521.9 650.3,521.7 650.7,521.4 651.2,521.7 651.6,521.6 652.1,522.1 652.5,521.6 653.0,521.7 653.4,521.7 653.9,522.0 654.3,521.8 654.8,521.7 655.2,521.8 655.7,521.9 656.2,521.5 656.6,521.5 657.1,521.8 657.5,521.4 658.0,521.9 658.4,521.6 658.9,521.4 659.3,521.6 659.8,521.7 660.2,521.6 660.7,521.7 661.1,521.8 661.6,521.8 662.0,521.7 662.5,521.7 663.0,521.6 663.4,521.8 663.9,521.7 664.3,521.5 664.8,521.8 665.2,521.4 665.7,521.8 666.1,521.8 666.6,521.8 667.0,521.9 667.5,522.0 667.9,521.9 668.4,521.8 668.8,521.8 669.3,521.5 669.7,521.7 670.2,521.8 670.7,521.8 671.1,521.6 671.6,521.7 672.0,521.7 672.5,521.6 672.9,521.4 673.4,521.9 673.8,521.6 674.3,521.7 674.7,521.7 675.2,521.8 675.6,521.6 676.1,521.6 676.5,521.6 677.0,521.8 677.5,521.6 677.9,521.9 678.4,522.0 678.8,521.6 679.3,521.7 679.7,522.0 680.2,521.8 680.6,521.7 681.1,521.5 681.5,521.7 682.0,521.8 682.4,521.9 682.9,521.9 683.3,521.7 683.8,521.8 684.3,521.6 684.7,521.8 685.2,521.5 685.6,521.7 686.1,521.7 686.5,521.7 687.0,521.7 687.4,521.4 687.9,521.8 688.3,521.8 688.8,521.7 689.2,521.6 689.7,521.9 690.1,521.5 690.6,521.9 691.1,521.8 691.5,521.7 692.0,521.7 692.4,521.9 692.9,521.6 693.3,521.4 693.8,521.7 694.2,521.6 694.7,521.6 695.1,521.3 695.6,521.7 696.0,521.6 696.5,521.7 696.9,521.6 697.4,521.7 697.9,521.8 698.3,521.7 698.8,521.5 699.2,521.7 699.7,521.6 700.1,521.7 700.6,521.5 701.0,521.9 701.5,521.9 701.9,521.6 702.4,521.4 702.8,521.8 703.3,522.0 703.7,521.5 704.2,521.6 704.7,521.8 705.1,521.5 705.6,521.5 706.0,521.8 706.5,521.8 706.9,521.6 707.4,521.6 707.8,521.5 708.3,521.6 708.7,521.4 709.2,521.8 709.6,521.9 710.1,521.8 710.5,521.8 711.0,521.7 711.5,521.8 711.9,521.6 712.4,521.5 712.8,521.4 713.3,521.8 713.7,521.9 714.2,521.8 714.6,521.7 715.1,521.8 715.5,521.6 716.0,521.6 716.4,521.7 716.9,521.9 717.3,521.6 717.8,521.9 718.3,522.1 718.7,521.8 719.2,521.5 719.6,521.7 720.1,522.0 720.5,521.8 721.0,521.5 721.4,521.7 721.9,521.8 722.3,522.0 722.8,521.8 723.2,521.9 723.7,521.5 724.1,521.7 724.6,521.6 725.1,522.0 725.5,521.8 726.0,521.6 726.4,521.5 726.9,521.5 727.3,521.9 727.8,521.3 728.2,521.8 728.7,521.8 729.1,521.8 729.6,521.9 730.0,521.8 730.5,521.9 730.9,521.8 731.4,521.9 731.9,521.8 732.3,521.6 732.8,521.9 733.2,521.9 733.7,521.7 734.1,521.8 734.6,521.6 735.0,521.9 735.5,521.8 735.9,521.9 736.4,522.0 736.8,521.8 737.3,521.8 737.7,521.7 738.2,522.0 738.7,521.6 739.1,521.6 739.6,521.7 740.0,521.8 740.5,521.9 740.9,521.6 741.4,521.9 741.8,521.5 742.3,522.1 742.7,522.1 743.2,521.7 743.6,522.0 744.1,521.6 744.5,521.8 745.0,521.8 745.4,521.7 745.9,521.6 746.4,521.6 746.8,521.8 747.3,521.8 747.7,521.6 748.2,521.9 748.6,521.9 749.1,521.9 749.5,521.2 750.0,521.5 750.4,521.6 750.9,521.8 751.3,521.6 751.8,522.0 752.2,521.8 752.7,521.6 753.2,521.7 753.6,521.9 754.1,521.7 754.5,521.8 755.0,521.5 755.4,521.6 755.9,521.7 756.3,521.3 756.8,521.8 757.2,521.5 757.7,521.6 758.1,521.7 758.6,521.8 759.0,521.6 759.5,521.4 760.0,522.0 760.4,521.7 760.9,521.5 761.3,521.8 761.8,521.8 762.2,521.5 762.7,521.7 763.1,521.8 763.6,521.6 764.0,521.6 764.5,521.6 764.9,521.6 765.4,521.4 765.8,521.6 766.3,521.5 766.8,521.8 767.2,521.7 767.7,521.8 768.1,521.4 768.6,521.6 769.0,521.5 769.5,521.7 769.9,521.8 770.4,521.6 770.8,521.7 771.3,521.9 771.7,521.7 772.2,521.8 772.6,521.5 773.1,521.7 773.6,521.6 774.0,521.6 774.5,521.5 774.9,521.6 775.4,521.6 775.8,521.6 776.3,521.9 776.7,521.7 777.2,521.9 777.6,521.9 778.1,521.7 778.5,522.0 779.0,521.7 779.4,521.5 779.9,521.7 780.4,521.6 780.8,521.9 781.3,521.7 781.7,522.2 782.2,521.9 782.6,521.8 783.1,521.4 783.5,521.4 784.0,522.1 784.4,521.8 784.9,521.9 785.3,521.5 785.8,521.6 786.2,521.8 786.7,521.6 787.2,521.5 787.6,521.8 788.1,521.6 788.5,521.6 789.0,521.6 789.4,522.0 789.9,521.7 790.3,522.1 790.8,521.7 791.2,521.9 791.7,521.5 792.1,521.5 792.6,522.0 793.0,521.5 793.5,521.8 794.0,521.6 794.4,521.7 794.9,521.8 795.3,521.8 795.8,521.8 796.2,521.5 796.7,521.7 797.1,521.9 797.6,521.6 798.0,521.8 798.5,521.6 798.9,521.8 799.4,521.7 799.8,521.9 800.3,521.8 800.8,521.7 801.2,521.6 801.7,521.7 802.1,521.7 802.6,521.3 803.0,521.7 803.5,522.1 803.9,521.6 804.4,521.8 804.8,522.0 805.3,521.5 805.7,521.6 806.2,521.8 806.6,521.8 807.1,521.7 807.6,521.5 808.0,521.9 808.5,521.5 808.9,521.7 809.4,521.6 809.8,521.4 810.3,521.8 810.7,521.6 811.2,521.7 811.6,522.2 812.1,521.7 812.5,521.7 813.0,521.7 813.4,521.5 813.9,521.8 814.4,521.6 814.8,521.7 815.3,521.6 815.7,522.0 816.2,521.8 816.6,521.8 817.1,521.4 817.5,521.8 818.0,521.6 818.4,521.7 818.9,522.0 819.3,521.9 819.8,521.7 820.2,521.6 820.7,521.5 821.2,521.8 821.6,521.9 822.1,521.7 822.5,522.0 823.0,521.5 823.4,521.8 823.9,521.7 824.3,521.4 824.8,521.7 825.2,521.9 825.7,521.7 826.1,521.8 826.6,521.9 827.0,521.9 827.5,522.0 827.9,521.6 828.4,521.9 828.9,521.8 829.3,521.6 829.8,521.8 830.2,521.8 830.7,521.7 831.1,521.8 831.6,521.7 832.0,521.8 832.5,521.6 832.9,521.8 833.4,521.9 833.8,521.8 834.3,522.1 834.7,521.8 835.2,521.6 835.7,521.4 836.1,521.7 836.6,521.5 837.0,522.0 837.5,521.5 837.9,521.6 838.4,521.5 838.8,521.8 839.3,521.7 839.7,521.7 840.2,521.8 840.6,521.7 841.1,521.5 841.5,522.0 842.0,521.8 842.5,521.6 842.9,521.5 843.4,521.9 843.8,522.0 844.3,522.1 844.7,521.7 845.2,521.8 845.6,521.7 846.1,521.7 846.5,522.0 847.0,521.5 847.4,521.6 847.9,522.0 848.3,521.9 848.8,521.9 849.3,521.9 849.7,521.4 850.2,521.6 850.6,521.9 851.1,521.4 851.5,521.6 852.0,521.7 852.4,521.9 852.9,521.8 853.3,521.7 853.8,521.2 854.2,521.9 854.7,521.8 855.1,521.6 855.6,521.7 856.1,521.9 856.5,521.3 857.0,521.8 857.4,521.8 857.9,521.7 858.3,521.6 858.8,521.6 859.2,521.5 859.7,521.7 860.1,521.8 860.6,521.5 861.0,521.7 861.5,521.8 861.9,521.6 862.4,521.5 862.9,521.8 863.3,521.8 863.8,521.7 864.2,521.8 864.7,521.8 865.1,521.6 865.6,521.6 866.0,522.1 866.5,521.5 866.9,521.5 867.4,521.9 867.8,521.5 868.3,521.9 868.7,521.5 869.2,521.8 869.7,521.6 870.1,521.7 870.6,521.6 871.0,521.9 871.5,521.4 871.9,521.6 872.4,521.7 872.8,521.5 873.3,521.7 873.7,521.3 874.2,521.5 874.6,521.3 875.1,521.8 875.5,521.7 876.0,522.0 876.5,521.7 876.9,521.8 877.4,521.8 877.8,521.6 878.3,521.7 878.7,521.5 879.2,521.9 879.6,521.8 880.1,521.7 880.5,522.1 881.0,521.9 881.4,521.7 881.9,522.1 882.3,521.7 882.8,521.9 883.3,521.6 883.7,521.9 884.2,521.5 884.6,522.0 885.1,521.5 885.5,522.0 886.0,521.5 886.4,521.7 886.9,522.1 887.3,521.6 887.8,521.8 888.2,521.8 888.7,521.7 889.1,521.6 889.6,521.8 890.1,521.6 890.5,521.9 891.0,521.8 891.4,521.6 891.9,521.5 892.3,521.7 892.8,521.8 893.2,521.6 893.7,521.6 894.1,521.9 894.6,521.2 895.0,521.8 895.5,521.9 895.9,521.7 896.4,521.6 896.9,521.7 897.3,521.8 897.8,521.7 898.2,521.6 898.7,521.8 899.1,521.9 899.6,521.7 900.0,521.7 900.5,521.9 900.9,521.3 901.4,521.5 901.8,521.4 902.3,521.5 902.7,522.0 903.2,521.3 903.6,522.0 904.1,521.9 904.6,521.7 905.0,521.8 905.5,521.6 905.9,521.5 906.4,521.7 906.8,521.4 907.3,522.0 907.7,521.6 908.2,521.6 908.6,521.4 909.1,521.5 909.5,522.0 910.0,521.6 910.4,521.8 910.9,521.7 911.4,521.6 911.8,521.5 912.3,521.8 912.7,521.6 913.2,521.5 913.6,521.5 914.1,521.5 914.5,522.0 915.0,521.6 915.4,521.5 915.9,521.8 916.3,521.6 916.8,521.8 917.2,521.6 917.7,521.6 918.2,521.8 918.6,521.6 919.1,521.6 919.5,521.9 920.0,521.7 920.4,521.8 920.9,521.9 921.3,521.5 921.8,521.8 922.2,521.7 922.7,522.1 923.1,521.7 923.6,521.9 924.0,521.6 924.5,521.8 925.0,521.5 925.4,521.4 925.9,522.0 926.3,521.7 926.8,521.7 927.2,521.8 927.7,521.9 928.1,521.7 928.6,521.6 929.0,521.6 929.5,521.5 929.9,521.7 930.4,521.5 930.8,521.6 931.3,521.5 931.8,521.5 932.2,521.6 932.7,521.5 933.1,521.8 933.6,522.0 934.0,521.9 934.5,521.6 934.9,521.7 935.4,521.8 935.8,521.5 936.3,521.6 936.7,521.4 937.2,521.9 937.6,521.8 938.1,521.6 938.6,521.5 939.0,521.4 939.5,521.6 939.9,521.4 940.4,521.5 940.8,521.7 941.3,521.4 941.7,521.6 942.2,521.6 942.6,521.9 943.1,521.8 943.5,521.8 944.0,521.6 944.4,521.9 944.9,522.0 945.4,521.7 945.8,521.2 946.3,521.7 946.7,521.9 947.2,521.8 947.6,521.6 948.1,521.5 948.5,521.6 949.0,521.4 949.4,521.6 949.9,521.9 950.3,521.5 950.8,521.8 951.2,521.5 951.7,521.7 952.2,522.1 952.6,522.0 953.1,521.7 953.5,521.7 954.0,521.5 954.4,521.6 954.9,521.4 955.3,521.6 955.8,521.7 956.2,521.9 956.7,521.4 957.1,521.5 957.6,521.5 958.0,521.8 958.5,521.5 959.0,522.0 959.4,521.6 959.9,521.7 960.3,521.7 960.8,522.2 961.2,521.4 961.7,521.9 962.1,521.9 962.6,521.8 963.0,521.8 963.5,522.0 963.9,521.6 964.4,521.8 964.8,521.7 965.3,522.0 965.8,521.7 966.2,521.7 966.7,521.5 967.1,521.8 967.6,522.1 968.0,521.7 968.5,521.6 968.9,521.5 969.4,521.6 969.8,521.9 970.3,521.7 970.7,521.9 971.2,521.6 971.6,521.2 972.1,521.9 972.6,522.0 973.0,522.0 973.5,521.8 973.9,521.6 974.4,521.8 974.8,522.1 975.3,521.7 975.7,521.6 976.2,521.5 976.6,521.6 977.1,522.0 977.5,521.6 978.0,521.8 978.4,522.0 978.9,521.8 979.4,521.7 979.8,521.7 980.3,521.9 980.7,521.8 981.2,521.7 981.6,521.7 982.1,521.7 982.5,522.0 983.0,521.6 983.4,522.0 983.9,521.7 984.3,521.8 984.8,522.2 985.2,521.9 985.7,521.8 986.1,521.7 986.6,521.8 987.1,521.7 987.5,521.8 988.0,521.8 988.4,521.6 988.9,521.1 989.3,521.8 989.8,521.8 990.2,521.6 990.7,521.9 991.1,521.6 991.6,521.7 992.0,521.4 992.5,521.9 992.9,521.7 993.4,521.9 993.9,521.7 994.3,521.9 994.8,522.0 995.2,521.9 995.7,521.9 996.1,521.7 996.6,521.9 997.0,521.6 997.5,521.8 997.9,521.8 998.4,521.8 998.8,521.7 999.3,521.4 999.7,521.9 1000.2,521.7 1000.7,521.7 1001.1,521.6 1001.6,521.8 1002.0,522.1 1002.5,521.6 1002.9,521.6 1003.4,521.6 1003.8,521.6 1004.3,521.9 1004.7,521.5 1005.2,521.8 1005.6,521.6 1006.1,521.3 1006.5,521.5 1007.0,521.8 1007.5,521.7 1007.9,521.4 1008.4,521.5 1008.8,521.7 1009.3,521.9 1009.7,521.9 1010.2,521.8 1010.6,521.7 1011.1,521.5 1011.5,521.5 1012.0,522.0 1012.4,521.8 1012.9,521.9 1013.3,521.8 1013.8,521.6 1014.3,521.7 1014.7,521.9 1015.2,521.5 1015.6,521.8 1016.1,521.9 1016.5,521.8 1017.0,521.4 1017.4,521.6 1017.9,521.8 1018.3,521.7 1018.8,521.9 1019.2,521.5 1019.7,521.7 1020.1,522.1 1020.6,521.7 1021.1,521.5 1021.5,522.0 1022.0,521.7 1022.4,521.8 1022.9,521.6 1023.3,522.0 1023.8,521.6 1024.2,521.8 1024.7,521.5 1025.1,521.6 1025.6,521.8 1026.0,521.9 1026.5,521.8 1026.9,521.5 1027.4,521.5 1027.9,521.6 1028.3,521.6 1028.8,521.7 1029.2,521.8 1029.7,521.8 1030.1,521.8 1030.6,521.8 1031.0,521.7 1031.5,521.3 1031.9,522.0 1032.4,521.6 1032.8,521.7 1033.3,521.9 1033.7,521.6 1034.2,521.3 1034.7,522.0 1035.1,521.7 1035.6,521.9 1036.0,521.5 1036.5,521.6 1036.9,521.7 1037.4,521.7 1037.8,521.5 1038.3,521.5 1038.7,521.9 1039.2,522.0 1039.6,521.7 1040.1,521.6 1040.5,521.7 1041.0,521.4 1041.5,521.7 1041.9,521.8 1042.4,521.6 1042.8,521.9 1043.3,521.9 1043.7,521.8 1044.2,521.8 1044.6,521.4 1045.1,521.5 1045.5,521.6 1046.0,521.8 1046.4,521.5 1046.9,521.5 1047.3,521.7 1047.8,521.9 1048.3,521.6 1048.7,521.7 1049.2,521.8 1049.6,521.7 1050.1,521.5 1050.5,521.7 1051.0,521.7 1051.4,521.8 1051.9,521.8 1052.3,521.9 1052.8,521.6 1053.2,521.7 1053.7,521.8 1054.1,521.8 1054.6,521.6 1055.1,521.6 1055.5,521.7 1056.0,521.7 1056.4,521.6 1056.9,521.8 1057.3,522.0 1057.8,521.3 1058.2,521.6 1058.7,521.5 1059.1,521.9 1059.6,521.7 1060.0,521.5 1060.5,521.4 1060.9,521.6 1061.4,521.5 1061.8,521.7 1062.3,521.9 1062.8,521.9 1063.2,522.0 1063.7,521.8 1064.1,521.5 1064.6,521.8 1065.0,521.4 1065.5,521.5 1065.9,521.6 1066.4,521.9 1066.8,521.7 1067.3,521.6 1067.7,521.8 1068.2,521.5 1068.6,521.5 1069.1,521.6 1069.6,521.9 1070.0,521.6 1070.5,521.9 1070.9,521.4 1071.4,521.8 1071.8,521.8 1072.3,521.7 1072.7,521.8 1073.2,521.5 1073.6,521.6 1074.1,521.4 1074.5,522.0 1075.0,521.7 1075.4,521.6 1075.9,521.7 1076.4,521.9 1076.8,521.9 1077.3,521.6 1077.7,521.8 1078.2,522.0 1078.6,521.9 1079.1,521.7 1079.5,521.6 1080.0,521.7 1080.4,521.6 1080.9,521.7 1081.3,521.7 1081.8,521.9 1082.2,521.8 1082.7,521.6 1083.2,521.7 1083.6,521.6 1084.1,521.5 1084.5,522.1 1085.0,521.6 1085.4,521.6 1085.9,521.7 1086.3,521.7 1086.8,521.9 1087.2,521.6 1087.7,521.6 1088.1,521.7 1088.6,521.6 1089.0,521.4 1089.5,521.7 1090.0,521.8 1090.4,521.7 1090.9,521.5 1091.3,521.6 1091.8,521.7 1092.2,521.7 1092.7,521.6 1093.1,521.9 1093.6,521.9 1094.0,521.6 1094.5,521.6 1094.9,521.8 1095.4,521.7 1095.8,521.8 1096.3,521.5 1096.8,521.8 1097.2,521.7 1097.7,521.8 1098.1,521.9 1098.6,522.1 1099.0,521.8 1099.5,521.3 1099.9,521.8 1100.4,521.6 1100.8,521.7 1101.3,521.5 1101.7,521.8 1102.2,522.0 1102.6,522.1 1103.1,521.5 1103.6,521.6 1104.0,522.1 1104.5,521.7 1104.9,521.9 1105.4,521.7 1105.8,521.8 1106.3,521.7 1106.7,521.4 1107.2,521.7 1107.6,521.6 1108.1,521.7 1108.5,521.8 1109.0,521.8 1109.4,521.5 1109.9,521.4 1110.4,521.6 1110.8,521.7 1111.3,521.6 1111.7,521.6 1112.2,521.7 1112.6,521.8 1113.1,521.6 1113.5,521.9 1114.0,521.6 1114.4,521.9 1114.9,521.9 1115.3,521.7 1115.8,521.9 1116.2,521.7 1116.7,521.7 1117.2,521.8 1117.6,521.7 1118.1,521.5 1118.5,521.7 1119.0,521.8 1119.4,521.6 1119.9,521.6 1120.3,522.0 1120.8,521.7 1121.2,521.9 1121.7,521.5 1122.1,521.9 1122.6,521.8 1123.0,521.7 1123.5,522.1 1124.0,522.1 1124.4,521.8 1124.9,521.8 1125.3,522.0 1125.8,521.7 1126.2,521.7 1126.7,521.7 1127.1,521.5 1127.6,521.6 1128.0,521.8 1128.5,521.5 1128.9,521.5 1129.4,521.8 1129.8,521.9 1130.3,521.6 1130.8,521.6 1131.2,521.5 1131.7,521.7 1132.1,521.5 1132.6,521.5 1133.0,521.6 1133.5,521.6 1133.9,521.9 1134.4,521.9 1134.8,521.7 1135.3,521.7 1135.7,521.7 1136.2,521.7 1136.6,521.9 1137.1,521.5 1137.5,521.6 1138.0,521.6 1138.5,522.0 1138.9,521.9 1139.4,522.0 1139.8,521.9 1140.3,521.7 1140.7,521.7 1141.2,521.5 1141.6,521.8 1142.1,521.6 1142.5,521.9 1143.0,521.6 1143.4,521.5 1143.9,521.9 1144.3,521.8 1144.8,521.6 1145.3,521.6 1145.7,521.9 1146.2,522.0 1146.6,521.9 1147.1,521.6 1147.5,521.6 1148.0,521.7 1148.4,521.6 1148.9,521.6 1149.3,521.7 1149.8,521.5 1150.2,522.1 1150.7,522.0 1151.1,521.9 1151.6,521.7 1152.1,522.1 1152.5,521.4 1153.0,521.5 1153.4,521.4 1153.9,522.0 1154.3,521.6 1154.8,521.7 1155.2,521.5 1155.7,521.8 1156.1,521.7 1156.6,522.0 1157.0,521.6 1157.5,521.4 1157.9,521.7 1158.4,522.1 1158.9,521.8 1159.3,521.9 1159.8,521.7 1160.2,521.8 1160.7,521.6 1161.1,521.6 1161.6,521.6 1162.0,521.5 1162.5,521.9 1162.9,521.5 1163.4,521.8 1163.8,521.9 1164.3,521.5 1164.7,521.6 1165.2,521.5 1165.7,521.5 1166.1,521.7 1166.6,521.5 1167.0,521.9 1167.5,521.7 1167.9,521.8 1168.4,521.9 1168.8,522.0 1169.3,521.6 1169.7,522.0 1170.2,521.8 1170.6,521.4 1171.1,521.4 1171.5,521.6 1172.0,521.8 1172.5,521.4 1172.9,521.7 1173.4,521.7 1173.8,521.6 1174.3,521.9 1174.7,522.0 1175.2,522.1 1175.6,522.0 1176.1,521.9 1176.5,521.8 1177.0,521.6 1177.4,521.8 1177.9,521.8 1178.3,521.6 1178.8,521.9 1179.3,521.5 1179.7,521.6 1180.2,521.5 1180.6,521.6 1181.1,521.7 1181.5,521.6 1182.0,521.6 1182.4,521.6 1182.9,521.6 1183.3,521.5 1183.8,521.8 1184.2,521.5 1184.7,521.8 1185.1,521.3 1185.6,521.8 1186.1,521.7 1186.5,521.3 1187.0,521.5 1187.4,521.8 1187.9,521.5 1188.3,521.7 1188.8,521.9 1189.2,521.4 1189.7,521.6 1190.1,521.3 1190.6,521.7 1191.0,521.6 1191.5,521.5 1191.9,521.8 1192.4,521.7 1192.9,522.0 1193.3,521.5 1193.8,521.4 1194.2,521.5 1194.7,521.7 1195.1,521.9 1195.6,521.4 1196.0,521.8 1196.5,521.7 1196.9,521.4 1197.4,521.6 1197.8,521.5 1198.3,521.3 1198.7,521.7 1199.2,521.5 1199.7,521.9 1200.1,521.7 1200.6,521.7 1201.0,521.7 1201.5,521.7 1201.9,522.0 1202.4,521.8 1202.8,521.6 1203.3,521.9 1203.7,521.5 1204.2,521.4 1204.6,522.0 1205.1,521.9 1205.5,521.4 1206.0,521.5 1206.5,521.8 1206.9,521.8 1207.4,521.8 1207.8,521.6 1208.3,521.9 1208.7,521.4 1209.2,521.9 1209.6,521.8 1210.1,521.7 1210.5,521.5 1211.0,521.7 1211.4,521.7 1211.9,521.4 1212.3,521.7 1212.8,521.7 1213.3,521.5 1213.7,521.6 1214.2,521.7 1214.6,521.8 1215.1,521.6 1215.5,521.6 1216.0,521.5 1216.4,521.8 1216.9,522.0 1217.3,521.9 1217.8,521.3 1218.2,521.8 1218.7,521.8 1219.1,521.8 1219.6,521.9 1220.0,521.9 1220.5,521.6 1221.0,521.5 1221.4,521.9 1221.9,521.7 1222.3,521.7 1222.8,521.6 1223.2,521.8 1223.7,521.8 1224.1,521.8 1224.6,521.8 1225.0,521.9 1225.5,521.7 1225.9,521.6 1226.4,522.0 1226.8,521.6 1227.3,521.8 1227.8,521.6 1228.2,521.6 1228.7,522.1 1229.1,522.0 1229.6,521.7 1230.0,521.6 1230.5,521.7 1230.9,521.9 1231.4,521.7 1231.8,522.1 1232.3,521.5 1232.7,521.6 1233.2,521.8 1233.6,521.6 1234.1,521.9 1234.6,521.6 1235.0,521.6 1235.5,521.7 1235.9,521.6 1236.4,521.8 1236.8,521.4 1237.3,522.1 1237.7,521.7 1238.2,521.6 1238.6,521.5 1239.1,521.4 1239.5,521.7 1240.0,521.8 1240.4,521.7 1240.9,521.8 1241.4,521.7 1241.8,521.8 1242.3,522.0 1242.7,521.5 1243.2,521.9 1243.6,521.6 1244.1,521.5 1244.5,521.7 1245.0,521.5 1245.4,521.9 1245.9,521.8" fill="none" stroke="#0000FF" stroke-width="2.5" stroke-linejoin="round" />
</g>
<path d="M112.65,544.5 L112.65,2.5 L1245.9,2.5 L1245.9,544.5 Z" fill="none" stroke="#000" stroke-width="2.6"/>
<path d="M100.2,521.80H112.65 M106.2,474.55H112.65 M100.2,427.31H112.65 M106.2,380.06H112.65 M100.2,332.82H112.65 M106.2,285.57H112.65 M100.2,238.33H112.65 M106.2,191.08H112.65 M100.2,143.84H112.65 M106.2,96.59H112.65 M100.2,49.35H112.65 M106.2,2.11H112.65 M112.65,544.5V558.0 M157.98,544.5V551.5 M203.31,544.5V558.0 M248.64,544.5V551.5 M293.97,544.5V558.0 M339.30,544.5V551.5 M384.63,544.5V558.0 M429.96,544.5V551.5 M475.29,544.5V558.0 M520.62,544.5V551.5 M565.95,544.5V558.0 M611.27,544.5V551.5 M656.60,544.5V558.0 M701.93,544.5V551.5 M747.26,544.5V558.0 M792.59,544.5V551.5 M837.92,544.5V558.0 M883.25,544.5V551.5 M928.58,544.5V558.0 M973.91,544.5V551.5 M1019.24,544.5V558.0 M1064.57,544.5V551.5 M1109.90,544.5V558.0 M1155.23,544.5V551.5 M1200.56,544.5V558.0 M1245.89,544.5V551.5" stroke="#000" stroke-width="2.6" fill="none"/>
<text x="80.25" y="530.70" font-size="31" fill="#000">0</text>
<text x="60.35" y="436.21" font-size="31" fill="#000" textLength="37.13" lengthAdjust="spacing">20</text>
<text x="61.10" y="341.72" font-size="31" fill="#000" textLength="36.38" lengthAdjust="spacing">40</text>
<text x="60.35" y="247.23" font-size="31" fill="#000" textLength="37.13" lengthAdjust="spacing">60</text>
<text x="60.60" y="152.74" font-size="31" fill="#000" textLength="36.88" lengthAdjust="spacing">80</text>
<text x="44.40" y="58.25" font-size="31" fill="#000" textLength="53.08" lengthAdjust="spacing">100</text>
<text x="84.60" y="587.30" font-size="31" fill="#000" textLength="54.83" lengthAdjust="spacing">200</text>
<text x="175.26" y="587.30" font-size="31" fill="#000" textLength="54.83" lengthAdjust="spacing">250</text>
<text x="266.17" y="587.30" font-size="31" fill="#000" textLength="54.58" lengthAdjust="spacing">300</text>
<text x="356.83" y="587.30" font-size="31" fill="#000" textLength="54.58" lengthAdjust="spacing">350</text>
<text x="447.99" y="587.30" font-size="31" fill="#000" textLength="54.08" lengthAdjust="spacing">400</text>
<text x="538.65" y="587.30" font-size="31" fill="#000" textLength="54.08" lengthAdjust="spacing">450</text>
<text x="628.80" y="587.30" font-size="31" fill="#000" textLength="54.58" lengthAdjust="spacing">500</text>
<text x="719.46" y="587.30" font-size="31" fill="#000" textLength="54.58" lengthAdjust="spacing">550</text>
<text x="809.87" y="587.30" font-size="31" fill="#000" textLength="54.83" lengthAdjust="spacing">600</text>
<text x="900.53" y="587.30" font-size="31" fill="#000" textLength="54.83" lengthAdjust="spacing">650</text>
<text x="991.19" y="587.30" font-size="31" fill="#000" textLength="54.83" lengthAdjust="spacing">700</text>
<text x="1081.85" y="587.30" font-size="31" fill="#000" textLength="54.83" lengthAdjust="spacing">750</text>
<text x="1172.76" y="587.30" font-size="31" fill="#000" textLength="54.58" lengthAdjust="spacing">800</text>
<text x="526.00" y="634.30" font-size="41" fill="#000" textLength="310.51" lengthAdjust="spacing">Wavelength [nm]</text>
<g transform="translate(36.9,0) rotate(-90)"><text x="-455.40" y="0.00" font-size="41" fill="#000" textLength="361.04" lengthAdjust="spacing">Intensity [arb. units]</text></g>
<rect x="754.9" y="2.5" width="491.0000000000001" height="339.3" fill="#fff"/>
<g clip-path="url(#ci)">
<polyline points="754.9,265.4 756.4,327.1 757.8,286.0 759.3,294.2 760.8,285.8 762.3,336.1 763.7,331.8 765.2,310.8 766.7,239.8 768.2,301.7 769.6,289.8 771.1,235.2 772.6,284.3 774.0,307.9 775.5,296.0 777.0,319.8 778.5,302.7 779.9,301.7 781.4,348.3 782.9,273.7 784.4,266.5 785.8,292.6 787.3,287.9 788.8,289.6 790.3,286.6 791.7,235.2 793.2,290.4 794.7,314.5 796.1,285.0 797.6,285.1 799.1,272.4 800.6,285.7 802.0,300.6 803.5,335.6 805.0,295.1 806.5,288.2 807.9,282.5 809.4,286.1 810.9,289.5 812.3,289.2 813.8,306.1 815.3,297.3 816.8,296.3 818.2,335.3 819.7,253.4 821.2,323.5 822.7,245.5 824.1,278.3 825.6,306.9 827.1,298.6 828.5,305.1 830.0,288.6 831.5,340.1 833.0,353.6 834.4,281.2 835.9,294.8 837.4,288.2 838.9,295.8 840.3,353.6 841.8,271.2 843.3,285.9 844.8,266.4 846.2,273.8 847.7,293.1 849.2,296.3 850.6,284.6 852.1,285.6 853.6,300.9 855.1,288.4 856.5,297.4 858.0,239.0 859.5,306.1 861.0,296.2 862.4,272.7 863.9,294.1 865.4,304.2 866.8,306.6 868.3,283.1 869.8,286.4 871.3,300.9 872.7,301.3 874.2,292.5 875.7,270.6 877.2,286.7 878.6,329.8 880.1,288.3 881.6,256.8 883.1,296.3 884.5,270.3 886.0,265.9 887.5,306.9 888.9,299.1 890.4,307.0 891.9,293.5 893.4,285.6 894.8,280.0 896.3,327.9 897.8,260.3 899.3,326.8 900.7,262.2 902.2,294.1 903.7,326.9 905.1,355.6 906.6,315.6 908.1,353.8 909.6,255.8 911.0,290.0 912.5,305.7 914.0,323.2 915.5,291.2 916.9,297.4 918.4,312.0 919.9,302.4 921.3,281.0 922.8,338.1 924.3,276.9 925.8,263.3 927.2,191.7 928.7,317.2 930.2,277.6 931.7,284.8 933.1,329.6 934.6,314.2 936.1,297.5 937.6,295.6 939.0,286.3 940.5,288.5 942.0,289.3 943.4,305.8 944.9,239.4 946.4,266.8 947.9,303.9 949.3,265.5 950.8,277.7 952.3,300.6 953.8,273.9 955.2,287.1 956.7,289.8 958.2,299.4 959.6,344.1 961.1,263.7 962.6,265.5 964.1,291.5 965.5,287.9 967.0,278.6 968.5,372.2 970.0,307.1 971.4,325.5 972.9,244.3 974.4,294.3 975.8,297.7 977.3,278.7 978.8,293.6 980.3,291.8 981.7,250.6 983.2,288.7 984.7,297.3 986.2,296.6 987.6,288.2 989.1,296.5 990.6,292.6 992.1,286.8 993.5,296.6 995.0,283.3 996.5,235.2 997.9,255.7 999.4,322.2 1000.9,281.6 1002.4,297.2 1003.8,291.7 1005.3,328.7 1006.8,247.6 1008.3,273.4 1009.7,260.7 1011.2,317.4 1012.7,298.7 1014.1,294.0 1015.6,294.3 1017.1,274.0 1018.6,288.6 1020.0,269.6 1021.5,342.5 1023.0,305.3 1024.5,313.7 1025.9,267.3 1027.4,272.1 1028.9,286.2 1030.4,309.3 1031.8,282.4 1033.3,288.6 1034.8,282.5 1036.2,295.4 1037.7,285.8 1039.2,247.1 1040.7,238.4 1042.1,264.2 1043.6,333.2 1045.1,283.2 1046.6,311.9 1048.0,303.6 1049.5,292.0 1051.0,273.7 1052.4,268.4 1053.9,297.8 1055.4,266.7 1056.9,293.9 1058.3,377.8 1059.8,276.9 1061.3,294.1 1062.8,304.0 1064.2,314.7 1065.7,291.8 1067.2,285.7 1068.6,235.2 1070.1,271.4 1071.6,284.6 1073.1,289.3 1074.5,313.4 1076.0,283.1 1077.5,304.8 1079.0,293.8 1080.4,261.2 1081.9,286.3 1083.4,304.0 1084.9,283.9 1086.3,298.7 1087.8,277.1 1089.3,298.8 1090.7,286.2 1092.2,297.1 1093.7,326.5 1095.2,357.1 1096.6,306.1 1098.1,263.4 1099.6,293.2 1101.1,278.2 1102.5,294.1 1104.0,279.5 1105.5,268.2 1106.9,237.9 1108.4,286.4 1109.9,296.9 1111.4,295.8 1112.8,304.1 1114.3,257.6 1115.8,273.8 1117.3,280.7 1118.7,304.4 1120.2,337.2 1121.7,291.4 1123.1,308.0 1124.6,286.1 1126.1,327.5 1127.6,297.6 1129.0,284.4 1130.5,296.0 1132.0,288.6 1133.5,301.2 1134.9,295.3 1136.4,265.3 1137.9,268.0 1139.4,279.1 1140.8,298.2 1142.3,282.6 1143.8,291.1 1145.2,310.9 1146.7,252.5 1148.2,303.6 1149.7,292.4 1151.1,256.0 1152.6,285.9 1154.1,257.4 1155.6,260.4 1157.0,295.1 1158.5,294.9 1160.0,288.7 1161.4,277.1 1162.9,304.1 1164.4,290.4 1165.9,335.2 1167.3,310.3 1168.8,326.3 1170.3,304.1 1171.8,308.2 1173.2,274.7 1174.7,300.0 1176.2,319.7 1177.7,298.0 1179.1,255.3 1180.6,243.6 1182.1,279.2 1183.5,296.3 1185.0,307.6 1186.5,299.6 1188.0,305.6 1189.4,299.3 1190.9,358.2 1192.4,284.8 1193.9,290.7 1195.3,277.0 1196.8,326.9 1198.3,298.8 1199.7,292.2 1201.2,311.4 1202.7,282.5 1204.2,235.2 1205.6,300.3 1207.1,300.9 1208.6,377.8 1210.1,322.3 1211.5,275.9 1213.0,278.3 1214.5,275.0 1215.9,292.1 1217.4,248.7 1218.9,263.2 1220.4,308.5 1221.8,298.0 1223.3,294.5 1224.8,294.3 1226.3,289.4 1227.7,288.7 1229.2,377.8 1230.7,282.6 1232.2,300.7 1233.6,290.0 1235.1,317.2 1236.6,258.7 1238.0,326.2 1239.5,300.2 1241.0,330.2 1242.5,293.4 1243.9,264.1 1245.4,353.9" fill="none" stroke="#000000" stroke-width="2.1" stroke-linejoin="round" />
<polyline points="754.9,311.8 756.0,298.0 757.1,300.5 758.1,295.9 759.2,312.7 760.3,290.3 761.4,299.6 762.5,311.2 763.5,312.9 764.6,312.5 765.7,307.1 766.8,289.6 767.9,292.3 768.9,305.5 770.0,305.5 771.1,282.7 772.2,292.2 773.3,307.8 774.3,301.8 775.4,304.4 776.5,299.1 777.6,292.4 778.7,303.0 779.7,297.1 780.8,295.2 781.9,293.3 783.0,306.3 784.1,302.5 785.1,282.4 786.2,302.2 787.3,300.2 788.4,296.4 789.5,305.8 790.5,304.0 791.6,285.1 792.7,288.6 793.8,310.6 794.9,299.9 795.9,312.3 797.0,314.5 798.1,300.4 799.2,286.5 800.3,301.2 801.3,287.0 802.4,310.2 803.5,299.2 804.6,299.7 805.7,299.7 806.7,291.3 807.8,295.2 808.9,305.5 810.0,312.9 811.1,305.6 812.2,300.7 813.2,305.5 814.3,314.5 815.4,316.7 816.5,293.0 817.6,298.1 818.6,305.8 819.7,296.4 820.8,295.9 821.9,302.4 823.0,304.4 824.0,289.9 825.1,292.6 826.2,287.3 827.3,291.2 828.4,298.1 829.4,304.6 830.5,303.6 831.6,305.9 832.7,299.9 833.8,298.5 834.8,289.8 835.9,288.1 837.0,300.6 838.1,296.9 839.2,311.3 840.2,306.7 841.3,310.4 842.4,299.3 843.5,305.4 844.6,307.6 845.6,300.7 846.7,317.7 847.8,301.4 848.9,296.3 850.0,289.1 851.0,311.3 852.1,304.5 853.2,319.4 854.3,288.4 855.4,302.4 856.4,298.5 857.5,314.6 858.6,303.0 859.7,306.3 860.8,311.9 861.8,311.6 862.9,309.5 864.0,308.8 865.1,317.0 866.2,288.8 867.2,301.2 868.3,299.9 869.4,300.1 870.5,303.5 871.6,302.2 872.6,296.5 873.7,304.1 874.8,290.0 875.9,303.6 877.0,291.1 878.0,310.0 879.1,299.0 880.2,295.4 881.3,289.6 882.4,289.4 883.4,310.5 884.5,307.5 885.6,287.4 886.7,305.0 887.8,315.4 888.8,291.5 889.9,296.1 891.0,312.5 892.1,306.9 893.2,290.0 894.2,305.6 895.3,306.6 896.4,305.3 897.5,289.8 898.6,316.6 899.6,298.7 900.7,301.2 901.8,298.1 902.9,295.8 904.0,302.0 905.0,297.1 906.1,298.4 907.2,289.5 908.3,322.6 909.4,303.3 910.4,301.1 911.5,313.9 912.6,289.3 913.7,296.9 914.8,316.6 915.8,303.8 916.9,295.0 918.0,300.2 919.1,307.8 920.2,295.6 921.3,298.2 922.3,309.1 923.4,302.9 924.5,289.2 925.6,290.2 926.7,309.3 927.7,306.4 928.8,288.1 929.9,295.4 931.0,300.2 932.1,303.4 933.1,298.8 934.2,292.3 935.3,321.5 936.4,292.8 937.5,308.7 938.5,312.3 939.6,306.4 940.7,310.3 941.8,309.6 942.9,300.1 943.9,304.4 945.0,291.7 946.1,314.3 947.2,293.4 948.3,311.3 949.3,299.0 950.4,303.4 951.5,292.0 952.6,311.8 953.7,299.7 954.7,286.4 955.8,288.9 956.9,302.7 958.0,293.4 959.1,290.5 960.1,295.6 961.2,289.3 962.3,291.1 963.4,320.3 964.5,294.2 965.5,267.8 966.6,303.3 967.7,302.7 968.8,299.5 969.9,307.1 970.9,302.9 972.0,300.9 973.1,281.8 974.2,302.1 975.3,294.8 976.3,301.7 977.4,308.4 978.5,306.0 979.6,310.2 980.7,287.6 981.7,302.2 982.8,313.2 983.9,300.2 985.0,281.3 986.1,297.6 987.1,300.4 988.2,297.5 989.3,303.6 990.4,309.5 991.5,288.2 992.5,330.4 993.6,305.0 994.7,308.3 995.8,302.1 996.9,306.9 997.9,289.8 999.0,285.9 1000.1,298.8 1001.2,311.7 1002.3,306.9 1003.3,303.5 1004.4,308.4 1005.5,311.6 1006.6,284.3 1007.7,291.6 1008.7,309.1 1009.8,308.3 1010.9,299.7 1012.0,306.4 1013.1,295.0 1014.1,293.0 1015.2,299.9 1016.3,308.7 1017.4,303.1 1018.5,315.3 1019.5,303.7 1020.6,283.8 1021.7,305.4 1022.8,294.1 1023.9,289.3 1025.0,285.6 1026.0,312.5 1027.1,302.2 1028.2,305.5 1029.3,287.9 1030.4,290.4 1031.4,310.1 1032.5,305.4 1033.6,297.1 1034.7,281.6 1035.8,303.7 1036.8,289.2 1037.9,308.1 1039.0,311.6 1040.1,292.9 1041.2,307.5 1042.2,314.7 1043.3,289.0 1044.4,294.8 1045.5,312.2 1046.6,292.6 1047.6,296.5 1048.7,295.3 1049.8,310.2 1050.9,304.3 1052.0,320.0 1053.0,320.0 1054.1,293.1 1055.2,304.8 1056.3,298.6 1057.4,302.6 1058.4,305.3 1059.5,305.2 1060.6,296.0 1061.7,302.7 1062.8,314.6 1063.8,290.2 1064.9,287.7 1066.0,293.5 1067.1,286.9 1068.2,298.8 1069.2,300.3 1070.3,290.1 1071.4,295.5 1072.5,311.4 1073.6,302.1 1074.6,299.7 1075.7,280.4 1076.8,300.1 1077.9,307.5 1079.0,310.4 1080.0,302.0 1081.1,306.4 1082.2,301.6 1083.3,309.8 1084.4,315.4 1085.4,303.2 1086.5,297.4 1087.6,299.5 1088.7,314.6 1089.8,303.4 1090.8,293.4 1091.9,298.0 1093.0,306.5 1094.1,304.9 1095.2,304.8 1096.2,298.7 1097.3,304.1 1098.4,296.5 1099.5,299.1 1100.6,299.3 1101.6,293.5 1102.7,292.9 1103.8,304.3 1104.9,303.3 1106.0,292.2 1107.0,303.4 1108.1,311.9 1109.2,306.0 1110.3,310.4 1111.4,301.0 1112.4,299.7 1113.5,288.5 1114.6,296.8 1115.7,295.1 1116.8,287.1 1117.8,293.8 1118.9,308.7 1120.0,301.4 1121.1,306.6 1122.2,302.5 1123.2,289.9 1124.3,274.6 1125.4,293.2 1126.5,298.4 1127.6,307.2 1128.6,298.2 1129.7,286.4 1130.8,307.7 1131.9,296.7 1133.0,293.1 1134.1,291.9 1135.1,278.8 1136.2,300.5 1137.3,298.3 1138.4,310.0 1139.5,304.8 1140.5,309.0 1141.6,299.7 1142.7,296.5 1143.8,294.3 1144.9,293.4 1145.9,305.2 1147.0,309.7 1148.1,309.7 1149.2,303.2 1150.3,304.6 1151.3,311.4 1152.4,296.9 1153.5,310.6 1154.6,301.7 1155.7,306.0 1156.7,297.5 1157.8,296.1 1158.9,308.9 1160.0,296.8 1161.1,282.3 1162.1,296.4 1163.2,310.3 1164.3,280.5 1165.4,309.1 1166.5,294.0 1167.5,310.2 1168.6,293.8 1169.7,301.9 1170.8,295.7 1171.9,298.4 1172.9,314.1 1174.0,315.2 1175.1,308.2 1176.2,292.5 1177.3,297.6 1178.3,289.5 1179.4,289.4 1180.5,284.9 1181.6,309.1 1182.7,311.1 1183.7,310.6 1184.8,288.2 1185.9,304.2 1187.0,297.7 1188.1,282.9 1189.1,304.0 1190.2,306.1 1191.3,309.1 1192.4,291.6 1193.5,291.0 1194.5,299.5 1195.6,303.8 1196.7,301.5 1197.8,296.9 1198.9,290.7 1199.9,309.4 1201.0,307.4 1202.1,292.3 1203.2,292.8 1204.3,300.0 1205.3,301.7 1206.4,291.3 1207.5,299.2 1208.6,316.1 1209.7,310.1 1210.7,293.9 1211.8,302.0 1212.9,296.6 1214.0,316.2 1215.1,290.1 1216.1,298.2 1217.2,302.3 1218.3,299.7 1219.4,303.4 1220.5,302.6 1221.5,321.3 1222.6,309.8 1223.7,290.6 1224.8,302.5 1225.9,308.7 1226.9,296.1 1228.0,286.9 1229.1,300.7 1230.2,292.9 1231.3,306.4 1232.3,316.9 1233.4,286.2 1234.5,307.2 1235.6,293.1 1236.7,290.9 1237.7,285.2 1238.8,305.3 1239.9,290.3 1241.0,309.0 1242.1,313.5 1243.2,315.2 1244.2,298.4 1245.3,313.8" fill="none" stroke="#008000" stroke-width="2.1" stroke-linejoin="round" />
<polyline points="754.9,302.9 756.0,303.3 757.1,297.4 758.1,287.5 759.2,300.8 760.3,307.4 761.4,304.8 762.5,283.0 763.5,301.0 764.6,308.1 765.7,300.6 766.8,295.5 767.9,295.6 768.9,282.3 770.0,299.7 771.1,311.1 772.2,285.3 773.3,295.6 774.3,295.5 775.4,303.8 776.5,306.8 777.6,284.7 778.7,310.9 779.7,303.3 780.8,307.8 781.9,285.8 783.0,295.3 784.1,304.0 785.1,292.0 786.2,281.6 787.3,306.2 788.4,305.6 789.5,294.7 790.5,296.0 791.6,307.7 792.7,303.4 793.8,298.2 794.9,290.7 795.9,310.6 797.0,292.4 798.1,293.8 799.2,280.6 800.3,318.3 801.3,300.9 802.4,301.4 803.5,285.0 804.6,308.0 805.7,302.7 806.7,295.8 807.8,292.7 808.9,293.8 810.0,309.0 811.1,281.2 812.2,303.9 813.2,294.1 814.3,289.6 815.4,301.1 816.5,293.3 817.6,311.1 818.6,299.1 819.7,302.7 820.8,311.4 821.9,304.1 823.0,307.1 824.0,289.8 825.1,305.3 826.2,311.8 827.3,300.0 828.4,301.2 829.4,275.3 830.5,282.3 831.6,296.6 832.7,305.1 833.8,277.8 834.8,295.6 835.9,313.4 837.0,294.6 838.1,313.5 839.2,287.0 840.2,294.5 841.3,308.6 842.4,303.8 843.5,318.0 844.6,282.8 845.6,297.5 846.7,292.3 847.8,286.5 848.9,302.0 850.0,303.5 851.0,302.7 852.1,295.6 853.2,306.0 854.3,301.6 855.4,295.8 856.4,297.1 857.5,303.6 858.6,308.4 859.7,303.6 860.8,292.5 861.8,286.2 862.9,287.8 864.0,300.9 865.1,292.4 866.2,294.7 867.2,284.5 868.3,305.4 869.4,287.3 870.5,294.6 871.6,299.5 872.6,275.4 873.7,281.2 874.8,312.3 875.9,296.9 877.0,291.2 878.0,287.8 879.1,309.1 880.2,294.0 881.3,295.9 882.4,305.2 883.4,290.7 884.5,302.9 885.6,298.4 886.7,307.1 887.8,293.8 888.8,293.5 889.9,301.0 891.0,306.0 892.1,298.0 893.2,295.7 894.2,296.5 895.3,300.4 896.4,288.7 897.5,301.2 898.6,297.5 899.6,283.6 900.7,305.9 901.8,297.7 902.9,295.4 904.0,305.1 905.0,310.8 906.1,307.1 907.2,317.9 908.3,298.1 909.4,298.8 910.4,291.6 911.5,280.7 912.6,296.5 913.7,296.2 914.8,293.5 915.8,302.7 916.9,312.2 918.0,305.2 919.1,296.7 920.2,298.3 921.3,297.8 922.3,303.8 923.4,297.7 924.5,301.2 925.6,299.6 926.7,310.1 927.7,306.1 928.8,298.1 929.9,284.2 931.0,297.4 932.1,292.7 933.1,280.7 934.2,295.6 935.3,301.0 936.4,316.3 937.5,301.3 938.5,287.0 939.6,307.4 940.7,301.5 941.8,299.9 942.9,296.1 943.9,307.9 945.0,290.8 946.1,292.8 947.2,307.6 948.3,324.5 949.3,292.6 950.4,296.9 951.5,297.9 952.6,315.1 953.7,305.9 954.7,300.9 955.8,296.2 956.9,299.3 958.0,289.5 959.1,308.8 960.1,309.7 961.2,298.9 962.3,287.2 963.4,310.5 964.5,311.7 965.5,282.6 966.6,305.1 967.7,297.4 968.8,285.6 969.9,307.7 970.9,297.4 972.0,293.7 973.1,299.8 974.2,301.4 975.3,304.6 976.3,302.1 977.4,288.7 978.5,318.9 979.6,294.6 980.7,298.6 981.7,297.9 982.8,297.9 983.9,298.7 985.0,292.7 986.1,316.7 987.1,291.3 988.2,291.9 989.3,297.7 990.4,299.1 991.5,289.8 992.5,279.5 993.6,283.3 994.7,285.8 995.8,314.8 996.9,282.3 997.9,297.1 999.0,303.8 1000.1,295.2 1001.2,287.0 1002.3,313.6 1003.3,291.0 1004.4,302.7 1005.5,297.0 1006.6,300.7 1007.7,291.2 1008.7,297.2 1009.8,304.4 1010.9,305.9 1012.0,302.9 1013.1,292.8 1014.1,304.8 1015.2,290.7 1016.3,286.8 1017.4,295.6 1018.5,316.2 1019.5,294.3 1020.6,293.1 1021.7,289.6 1022.8,295.3 1023.9,285.0 1025.0,284.3 1026.0,296.9 1027.1,290.4 1028.2,280.4 1029.3,291.6 1030.4,293.6 1031.4,279.5 1032.5,315.8 1033.6,284.7 1034.7,300.3 1035.8,317.1 1036.8,289.2 1037.9,284.7 1039.0,298.1 1040.1,292.7 1041.2,287.7 1042.2,301.5 1043.3,294.7 1044.4,290.9 1045.5,303.8 1046.6,298.4 1047.6,305.8 1048.7,306.7 1049.8,298.8 1050.9,294.2 1052.0,295.9 1053.0,292.2 1054.1,291.2 1055.2,291.5 1056.3,302.9 1057.4,300.9 1058.4,309.6 1059.5,283.8 1060.6,290.0 1061.7,300.6 1062.8,298.5 1063.8,290.4 1064.9,305.8 1066.0,302.0 1067.1,305.6 1068.2,298.3 1069.2,286.5 1070.3,302.5 1071.4,287.0 1072.5,294.9 1073.6,300.4 1074.6,290.6 1075.7,308.1 1076.8,296.7 1077.9,296.9 1079.0,278.3 1080.0,301.6 1081.1,295.6 1082.2,308.8 1083.3,306.7 1084.4,292.0 1085.4,282.8 1086.5,286.8 1087.6,311.1 1088.7,307.0 1089.8,309.5 1090.8,298.8 1091.9,288.3 1093.0,290.1 1094.1,297.2 1095.2,297.8 1096.2,318.9 1097.3,329.8 1098.4,301.5 1099.5,314.5 1100.6,299.7 1101.6,308.7 1102.7,292.8 1103.8,304.6 1104.9,307.7 1106.0,300.5 1107.0,289.8 1108.1,303.1 1109.2,287.3 1110.3,310.4 1111.4,310.6 1112.4,302.5 1113.5,299.8 1114.6,294.2 1115.7,300.4 1116.8,300.1 1117.8,312.4 1118.9,288.5 1120.0,303.4 1121.1,297.1 1122.2,298.1 1123.2,281.8 1124.3,314.3 1125.4,299.4 1126.5,286.4 1127.6,319.5 1128.6,303.7 1129.7,299.9 1130.8,297.8 1131.9,309.9 1133.0,292.0 1134.1,309.8 1135.1,287.6 1136.2,300.1 1137.3,309.9 1138.4,286.8 1139.5,296.8 1140.5,294.1 1141.6,291.1 1142.7,302.0 1143.8,303.2 1144.9,295.1 1145.9,286.2 1147.0,294.8 1148.1,303.6 1149.2,283.2 1150.3,305.3 1151.3,302.0 1152.4,301.5 1153.5,299.6 1154.6,294.6 1155.7,293.5 1156.7,305.6 1157.8,305.1 1158.9,290.4 1160.0,290.7 1161.1,306.1 1162.1,288.3 1163.2,299.2 1164.3,294.6 1165.4,295.2 1166.5,295.0 1167.5,301.5 1168.6,297.0 1169.7,302.5 1170.8,296.9 1171.9,300.8 1172.9,302.3 1174.0,299.9 1175.1,294.2 1176.2,296.5 1177.3,299.1 1178.3,301.2 1179.4,294.2 1180.5,283.4 1181.6,296.3 1182.7,293.8 1183.7,304.9 1184.8,301.8 1185.9,300.1 1187.0,283.0 1188.1,290.9 1189.1,291.3 1190.2,298.3 1191.3,296.3 1192.4,291.9 1193.5,296.9 1194.5,307.8 1195.6,298.3 1196.7,298.2 1197.8,311.4 1198.9,315.3 1199.9,299.4 1201.0,300.1 1202.1,298.8 1203.2,296.3 1204.3,293.9 1205.3,288.5 1206.4,307.9 1207.5,294.3 1208.6,286.0 1209.7,287.1 1210.7,307.2 1211.8,295.1 1212.9,295.3 1214.0,302.2 1215.1,308.4 1216.1,300.6 1217.2,287.7 1218.3,301.0 1219.4,299.3 1220.5,300.7 1221.5,288.4 1222.6,297.4 1223.7,314.1 1224.8,318.8 1225.9,298.8 1226.9,302.7 1228.0,303.0 1229.1,285.3 1230.2,287.6 1231.3,295.9 1232.3,290.1 1233.4,285.5 1234.5,297.1 1235.6,301.9 1236.7,311.8 1237.7,291.7 1238.8,285.0 1239.9,306.9 1241.0,302.3 1242.1,304.6 1243.2,292.7 1244.2,300.7 1245.3,286.7" fill="none" stroke="#FF8000" stroke-width="2.1" stroke-linejoin="round" />
<polyline points="754.9,293.9 755.9,291.7 756.9,298.1 757.8,291.5 758.8,294.9 759.8,296.5 760.8,296.6 761.8,297.2 762.8,295.7 763.7,293.8 764.7,294.4 765.7,294.4 766.7,299.1 767.7,299.0 768.6,293.1 769.6,294.4 770.6,292.2 771.6,294.2 772.6,298.7 773.6,294.3 774.5,295.7 775.5,296.7 776.5,298.8 777.5,297.3 778.5,297.7 779.5,295.8 780.4,297.3 781.4,294.6 782.4,299.2 783.4,296.9 784.4,296.9 785.3,299.6 786.3,300.3 787.3,296.1 788.3,297.1 789.3,298.5 790.3,297.5 791.2,299.6 792.2,297.9 793.2,299.6 794.2,298.1 795.2,296.7 796.1,299.3 797.1,297.0 798.1,300.7 799.1,299.3 800.1,301.4 801.1,299.0 802.0,298.7 803.0,299.3 804.0,299.5 805.0,296.4 806.0,296.2 806.9,301.4 807.9,296.7 808.9,302.3 809.9,300.4 810.9,299.3 811.9,298.8 812.8,301.0 813.8,300.3 814.8,298.7 815.8,300.1 816.8,299.9 817.7,297.2 818.7,296.6 819.7,298.4 820.7,298.1 821.7,298.0 822.7,298.6 823.6,298.6 824.6,299.4 825.6,295.9 826.6,297.1 827.6,296.9 828.6,296.0 829.5,295.1 830.5,292.9 831.5,295.3 832.5,294.5 833.5,292.0 834.4,292.6 835.4,287.0 836.4,286.2 837.4,285.3 838.4,285.6 839.4,282.6 840.3,280.6 841.3,280.3 842.3,280.4 843.3,281.8 844.3,275.4 845.2,276.7 846.2,276.7 847.2,272.5 848.2,272.8 849.2,275.5 850.2,272.3 851.1,272.0 852.1,269.0 853.1,274.0 854.1,270.6 855.1,269.6 856.0,266.0 857.0,270.3 858.0,273.4 859.0,269.8 860.0,266.0 861.0,264.3 861.9,261.9 862.9,263.8 863.9,265.5 864.9,261.6 865.9,262.7 866.8,262.4 867.8,261.3 868.8,258.1 869.8,261.5 870.8,260.9 871.8,258.1 872.7,257.0 873.7,257.1 874.7,255.7 875.7,251.5 876.7,247.8 877.7,247.2 878.6,245.4 879.6,242.7 880.6,247.4 881.6,245.2 882.6,242.4 883.5,242.0 884.5,240.2 885.5,237.0 886.5,238.5 887.5,236.1 888.5,238.6 889.4,236.4 890.4,231.9 891.4,235.7 892.4,234.3 893.4,233.8 894.3,236.5 895.3,234.9 896.3,236.1 897.3,235.7 898.3,239.0 899.3,241.9 900.2,243.1 901.2,244.6 902.2,245.2 903.2,249.4 904.2,252.6 905.1,254.7 906.1,254.4 907.1,259.4 908.1,257.1 909.1,264.1 910.1,264.5 911.0,263.3 912.0,265.3 913.0,269.1 914.0,268.5 915.0,270.2 915.9,267.5 916.9,268.4 917.9,271.1 918.9,269.1 919.9,270.8 920.9,270.3 921.8,270.1 922.8,270.9 923.8,266.1 924.8,261.6 925.8,257.0 926.8,252.4 927.7,253.0 928.7,253.6 929.7,250.1 930.7,247.3 931.7,246.4 932.6,244.0 933.6,242.3 934.6,242.7 935.6,241.2 936.6,241.4 937.6,236.0 938.5,237.0 939.5,237.1 940.5,235.7 941.5,232.9 942.5,227.6 943.4,227.7 944.4,231.0 945.4,226.9 946.4,225.2 947.4,223.4 948.4,222.5 949.3,222.5 950.3,216.3 951.3,208.5 952.3,206.5 953.3,201.5 954.2,200.3 955.2,196.4 956.2,195.5 957.2,198.8 958.2,195.5 959.2,194.0 960.1,195.0 961.1,194.3 962.1,189.5 963.1,202.8 964.1,209.0 965.0,214.9 966.0,210.7 967.0,212.6 968.0,214.4 969.0,215.3 970.0,219.2 970.9,218.4 971.9,222.1 972.9,226.0 973.9,227.1 974.9,230.4 975.9,236.0 976.8,236.0 977.8,239.3 978.8,244.4 979.8,244.9 980.8,245.3 981.7,249.7 982.7,248.2 983.7,250.0 984.7,256.2 985.7,256.8 986.7,256.2 987.6,262.8 988.6,265.8 989.6,266.6 990.6,270.1 991.6,271.5 992.5,269.8 993.5,272.3 994.5,272.3 995.5,273.0 996.5,276.5 997.5,276.5 998.4,277.7 999.4,279.6 1000.4,280.9 1001.4,279.8 1002.4,281.8 1003.3,282.1 1004.3,282.1 1005.3,283.4 1006.3,288.8 1007.3,289.6 1008.3,289.7 1009.2,290.1 1010.2,289.7 1011.2,294.3 1012.2,294.1 1013.2,293.4 1014.1,292.0 1015.1,292.0 1016.1,296.6 1017.1,295.0 1018.1,296.1 1019.1,292.7 1020.0,293.3 1021.0,294.6 1022.0,294.8 1023.0,292.8 1024.0,291.1 1025.0,294.2 1025.9,292.9 1026.9,291.7 1027.9,291.5 1028.9,290.4 1029.9,292.4 1030.8,291.0 1031.8,293.2 1032.8,288.2 1033.8,285.4 1034.8,290.6 1035.8,286.9 1036.7,283.1 1037.7,284.2 1038.7,286.7 1039.7,279.9 1040.7,284.1 1041.6,277.8 1042.6,280.6 1043.6,279.9 1044.6,277.5 1045.6,276.6 1046.6,274.4 1047.5,273.5 1048.5,273.7 1049.5,269.7 1050.5,269.7 1051.5,269.0 1052.4,267.5 1053.4,266.0 1054.4,264.1 1055.4,260.9 1056.4,259.8 1057.4,259.5 1058.3,257.0 1059.3,259.4 1060.3,258.1 1061.3,257.2 1062.3,261.1 1063.2,259.4 1064.2,255.7 1065.2,260.7 1066.2,256.7 1067.2,260.9 1068.2,258.1 1069.1,261.0 1070.1,260.1 1071.1,259.8 1072.1,260.5 1073.1,258.2 1074.1,259.4 1075.0,260.3 1076.0,262.7 1077.0,261.0 1078.0,263.3 1079.0,265.8 1079.9,269.5 1080.9,267.1 1081.9,267.9 1082.9,269.7 1083.9,269.2 1084.9,269.8 1085.8,272.5 1086.8,271.5 1087.8,272.5 1088.8,273.2 1089.8,275.1 1090.7,276.0 1091.7,275.5 1092.7,273.6 1093.7,272.5 1094.7,278.4 1095.7,280.4 1096.6,279.7 1097.6,281.5 1098.6,281.5 1099.6,280.8 1100.6,284.3 1101.5,282.2 1102.5,282.8 1103.5,282.3 1104.5,282.6 1105.5,285.1 1106.5,283.4 1107.4,289.5 1108.4,288.7 1109.4,289.5 1110.4,289.5 1111.4,288.7 1112.3,291.7 1113.3,288.1 1114.3,289.3 1115.3,291.3 1116.3,291.4 1117.3,294.4 1118.2,297.6 1119.2,293.2 1120.2,292.6 1121.2,293.1 1122.2,295.9 1123.2,295.0 1124.1,291.1 1125.1,293.5 1126.1,294.2 1127.1,296.7 1128.1,295.3 1129.0,294.7 1130.0,296.0 1131.0,298.3 1132.0,296.6 1133.0,298.1 1134.0,296.0 1134.9,293.1 1135.9,293.9 1136.9,292.0 1137.9,287.4 1138.9,289.2 1139.8,286.0 1140.8,286.6 1141.8,286.5 1142.8,282.6 1143.8,281.4 1144.8,282.8 1145.7,279.3 1146.7,276.0 1147.7,270.6 1148.7,272.8 1149.7,270.2 1150.6,267.6 1151.6,266.8 1152.6,266.6 1153.6,261.2 1154.6,260.4 1155.6,266.4 1156.5,258.7 1157.5,258.6 1158.5,257.2 1159.5,258.7 1160.5,257.4 1161.4,255.6 1162.4,256.4 1163.4,256.9 1164.4,259.0 1165.4,260.1 1166.4,261.0 1167.3,265.9 1168.3,260.4 1169.3,265.3 1170.3,266.2 1171.3,267.6 1172.3,268.3 1173.2,274.8 1174.2,271.9 1175.2,276.6 1176.2,278.0 1177.2,281.6 1178.1,283.2 1179.1,280.6 1180.1,284.3 1181.1,285.0 1182.1,286.3 1183.1,289.2 1184.0,289.4 1185.0,291.4 1186.0,290.6 1187.0,295.2 1188.0,292.6 1188.9,291.0 1189.9,291.2 1190.9,292.1 1191.9,294.0 1192.9,297.5 1193.9,294.3 1194.8,295.4 1195.8,296.2 1196.8,299.3 1197.8,296.3 1198.8,294.5 1199.7,296.0 1200.7,298.0 1201.7,296.6 1202.7,297.8 1203.7,297.5 1204.7,296.3 1205.6,297.3 1206.6,297.9 1207.6,297.3 1208.6,299.6 1209.6,300.0 1210.5,297.1 1211.5,299.2 1212.5,297.0 1213.5,301.6 1214.5,295.7 1215.5,298.2 1216.4,294.8 1217.4,302.8 1218.4,301.3 1219.4,295.3 1220.4,297.7 1221.4,297.5 1222.3,297.8 1223.3,297.7 1224.3,297.0 1225.3,300.0 1226.3,298.4 1227.2,295.5 1228.2,297.7 1229.2,299.2 1230.2,297.9 1231.2,296.0 1232.2,298.4 1233.1,298.4 1234.1,297.1 1235.1,296.4 1236.1,295.2 1237.1,298.3 1238.0,297.4 1239.0,296.0 1240.0,301.7 1241.0,297.8 1242.0,297.1 1243.0,298.2 1243.9,299.7 1244.9,296.9 1245.9,295.6" fill="none" stroke="#0000FF" stroke-width="2.1" stroke-linejoin="round" />
</g>
<path d="M754.9,341.8 L754.9,2.5 M754.9,341.8 L1245.9,341.8" fill="none" stroke="#000" stroke-width="2.2"/>
<path d="M748.3,305.30H754.9 M751.6,244.88H754.9 M748.3,184.45H754.9 M751.6,124.03H754.9 M748.3,63.60H754.9 M754.90,341.8V346.2 M804.00,341.8V350.4 M853.10,341.8V346.2 M902.20,341.8V350.4 M951.30,341.8V346.2 M1000.40,341.8V350.4 M1049.50,341.8V346.2 M1098.60,341.8V350.4 M1147.70,341.8V346.2 M1196.80,341.8V350.4 M1245.90,341.8V346.2" stroke="#000" stroke-width="2.2" fill="none"/>
<text x="696.80" y="315.20" font-size="31.5" fill="#000" textLength="45.24" lengthAdjust="spacing">0.0</text>
<text x="696.80" y="194.35" font-size="31.5" fill="#000" textLength="45.24" lengthAdjust="spacing">0.5</text>
<text x="695.55" y="73.50" font-size="31.5" fill="#000" textLength="46.49" lengthAdjust="spacing">1.0</text>
<text x="776.55" y="380.60" font-size="31.5" fill="#000" textLength="54.36" lengthAdjust="spacing">560</text>
<text x="874.75" y="380.60" font-size="31.5" fill="#000" textLength="54.36" lengthAdjust="spacing">580</text>
<text x="972.70" y="380.60" font-size="31.5" fill="#000" textLength="54.61" lengthAdjust="spacing">600</text>
<text x="1070.90" y="380.60" font-size="31.5" fill="#000" textLength="54.61" lengthAdjust="spacing">620</text>
<text x="1169.10" y="380.60" font-size="31.5" fill="#000" textLength="54.61" lengthAdjust="spacing">640</text>
<path d="M827,237.3 V213.5 H918.1 V237.3 M874.6,63.7 V213.5" fill="none" stroke="#000" stroke-width="2"/>
<path d="M919.3,195.7 V172 H1002.9 V195.7 M962.6,150.7 V172" fill="none" stroke="#000" stroke-width="2"/>
<path d="M1017.8,262 V237.5 H1126 V262 M1067.2,121.3 V237.5" fill="none" stroke="#000" stroke-width="2"/>
<path d="M1129,260.4 V236.6 H1201 V260.4 M1160.1,205.1 V236.6" fill="none" stroke="#000" stroke-width="2"/>
<text transform="translate(759.91,21.90) skewX(-6)" x="0" y="0" font-size="17.5" fill="#780078" font-style="italic" textLength="8.91" lengthAdjust="spacingAndGlyphs">6</text><text transform="translate(771.53,39.60) skewX(-6)" x="0" y="0" font-size="29.5" fill="#780078" font-style="italic" stroke="#fff" stroke-width="0.35" textLength="22.62" lengthAdjust="spacingAndGlyphs">G</text><text transform="translate(795.65,51.70) skewX(-6)" x="0" y="0" font-size="17" fill="#780078" font-style="italic" textLength="102.02" lengthAdjust="spacing">11/2, 9/2, 5/2</text><line x1="907.0" y1="30.6" x2="930.7" y2="30.6" stroke="#780078" stroke-width="1.6"/><path d="M940.70,30.60 L936.70,29.00 L931.70,28.00 L928.20,28.30 L925.40,26.50 L924.40,27.20 L926.90,29.70 L926.90,31.50 L924.40,34.00 L925.40,34.70 L928.20,32.90 L931.70,33.20 L936.70,32.20 Z" fill="#780078"/><text transform="translate(942.91,21.20) skewX(-6)" x="0" y="0" font-size="17.5" fill="#780078" font-style="italic" textLength="8.91" lengthAdjust="spacingAndGlyphs">6</text><text transform="translate(953.32,39.60) skewX(-6)" x="0" y="0" font-size="29.5" fill="#780078" font-style="italic" stroke="#fff" stroke-width="0.35" textLength="20.36" lengthAdjust="spacingAndGlyphs">P</text><text transform="translate(971.65,51.70) skewX(-6)" x="0" y="0" font-size="17" fill="#780078" font-style="italic" textLength="24.93" lengthAdjust="spacing">7/2</text>
<text transform="translate(1000.11,78.30) skewX(-6)" x="0" y="0" font-size="17.5" fill="#780078" font-style="italic" textLength="8.91" lengthAdjust="spacingAndGlyphs">6</text><text transform="translate(1011.73,96.00) skewX(-6)" x="0" y="0" font-size="29.5" fill="#780078" font-style="italic" stroke="#fff" stroke-width="0.35" textLength="22.62" lengthAdjust="spacingAndGlyphs">G</text><text transform="translate(1035.85,108.10) skewX(-6)" x="0" y="0" font-size="17" fill="#780078" font-style="italic" textLength="102.02" lengthAdjust="spacing">11/2, 9/2, 5/2</text><line x1="1147.2" y1="87.0" x2="1170.9" y2="87.0" stroke="#780078" stroke-width="1.6"/><path d="M1180.90,87.00 L1176.90,85.40 L1171.90,84.40 L1168.40,84.70 L1165.60,82.90 L1164.60,83.60 L1167.10,86.10 L1167.10,87.90 L1164.60,90.40 L1165.60,91.10 L1168.40,89.30 L1171.90,89.60 L1176.90,88.60 Z" fill="#780078"/><text transform="translate(1183.11,77.60) skewX(-6)" x="0" y="0" font-size="17.5" fill="#780078" font-style="italic" textLength="8.91" lengthAdjust="spacingAndGlyphs">6</text><text transform="translate(1193.51,96.00) skewX(-6)" x="0" y="0" font-size="29.5" fill="#780078" font-style="italic" stroke="#fff" stroke-width="0.35" textLength="20.36" lengthAdjust="spacingAndGlyphs">P</text><text transform="translate(1213.10,108.10) skewX(-6)" x="0" y="0" font-size="17" fill="#780078" font-style="italic" textLength="24.58" lengthAdjust="spacing">3/2</text>
<text transform="translate(881.72,127.20) skewX(-6)" x="0" y="0" font-size="17.5" fill="#780078" font-style="italic" textLength="7.99" lengthAdjust="spacingAndGlyphs">6</text><text transform="translate(892.82,143.40) skewX(-6)" x="0" y="0" font-size="29.5" fill="#780078" font-style="italic" stroke="#fff" stroke-width="0.35" textLength="23.71" lengthAdjust="spacingAndGlyphs">G</text><text transform="translate(914.85,156.60) skewX(-6)" x="0" y="0" font-size="17" fill="#780078" font-style="italic" textLength="23.63" lengthAdjust="spacing">7/2</text><line x1="943.6" y1="134.4" x2="967.6" y2="134.4" stroke="#780078" stroke-width="1.6"/><path d="M977.60,134.40 L973.60,132.80 L968.60,131.80 L965.10,132.10 L962.30,130.30 L961.30,131.00 L963.80,133.50 L963.80,135.30 L961.30,137.80 L962.30,138.50 L965.10,136.70 L968.60,137.00 L973.60,136.00 Z" fill="#780078"/><text transform="translate(983.12,126.50) skewX(-6)" x="0" y="0" font-size="17.5" fill="#780078" font-style="italic" textLength="7.99" lengthAdjust="spacingAndGlyphs">6</text><text transform="translate(994.01,143.40) skewX(-6)" x="0" y="0" font-size="29.5" fill="#780078" font-style="italic" stroke="#fff" stroke-width="0.35" textLength="20.56" lengthAdjust="spacingAndGlyphs">P</text><text transform="translate(1012.35,156.60) skewX(-6)" x="0" y="0" font-size="17" fill="#780078" font-style="italic" textLength="24.43" lengthAdjust="spacing">7/2</text>
<text transform="translate(1081.72,181.40) skewX(-6)" x="0" y="0" font-size="17.5" fill="#780078" font-style="italic" textLength="7.99" lengthAdjust="spacingAndGlyphs">6</text><text transform="translate(1092.82,197.60) skewX(-6)" x="0" y="0" font-size="29.5" fill="#780078" font-style="italic" stroke="#fff" stroke-width="0.35" textLength="23.71" lengthAdjust="spacingAndGlyphs">G</text><text transform="translate(1114.85,210.80) skewX(-6)" x="0" y="0" font-size="17" fill="#780078" font-style="italic" textLength="23.63" lengthAdjust="spacing">7/2</text><line x1="1143.6" y1="190.6" x2="1167.6" y2="190.6" stroke="#780078" stroke-width="1.6"/><path d="M1177.60,190.60 L1173.60,189.00 L1168.60,188.00 L1165.10,188.30 L1162.30,186.50 L1161.30,187.20 L1163.80,189.70 L1163.80,191.50 L1161.30,194.00 L1162.30,194.70 L1165.10,192.90 L1168.60,193.20 L1173.60,192.20 Z" fill="#780078"/><text transform="translate(1183.12,180.70) skewX(-6)" x="0" y="0" font-size="17.5" fill="#780078" font-style="italic" textLength="7.99" lengthAdjust="spacingAndGlyphs">6</text><text transform="translate(1194.00,197.60) skewX(-6)" x="0" y="0" font-size="29.5" fill="#780078" font-style="italic" stroke="#fff" stroke-width="0.35" textLength="20.56" lengthAdjust="spacingAndGlyphs">P</text><text transform="translate(1213.60,210.80) skewX(-6)" x="0" y="0" font-size="17" fill="#780078" font-style="italic" textLength="23.18" lengthAdjust="spacing">3/2</text>
<path d="M754.9,2.5 H1245.9 V544.5" fill="none" stroke="#000" stroke-width="2.6"/>
<path d="M308.9,119.8 V96.5 H353.5 V119.8" fill="none" stroke="#000" stroke-width="2"/>
<path d="M331,96.5 L320.3,62.5 Q319,58.6 316.8,57.8" fill="none" stroke="#000" stroke-width="2"/>
<path d="M353.2,188.3 V164.3 H397.6 V188.3" fill="none" stroke="#000" stroke-width="2"/>
<path d="M375.9,164.3 L385.2,111.6" fill="none" stroke="#000" stroke-width="2"/>
<text x="166.62" y="47.80" font-size="30" fill="#F20068" font-weight="bold" textLength="15.50" lengthAdjust="spacingAndGlyphs">5</text><text transform="translate(185.66,47.80) skewX(-5)" x="0" y="0" font-size="30" fill="#F20068" font-weight="bold" font-style="italic" textLength="18.98" lengthAdjust="spacingAndGlyphs">d</text><text x="204.91" y="60.40" font-size="18.5" fill="#F20068" font-weight="bold" textLength="6.90" lengthAdjust="spacingAndGlyphs">1</text><line x1="217.8" y1="37.4" x2="241.7" y2="37.4" stroke="#F20068" stroke-width="1.9"/><path d="M252.20,37.40 L248.00,35.72 L242.75,34.67 L239.07,34.98 L236.13,33.09 L235.08,33.83 L237.71,36.45 L237.71,38.34 L235.08,40.97 L236.13,41.70 L239.07,39.81 L242.75,40.13 L248.00,39.08 Z" fill="#F20068"/><text x="253.20" y="28.50" font-size="18.5" fill="#F20068" font-weight="bold" textLength="10.23" lengthAdjust="spacingAndGlyphs">2</text><text x="264.97" y="47.80" font-size="30" fill="#F20068" font-weight="bold" textLength="18.14" lengthAdjust="spacingAndGlyphs">F</text><text x="285.15" y="60.40" font-size="18.5" fill="#F20068" font-weight="bold" textLength="25.72" lengthAdjust="spacing">5/2</text>
<text x="380.82" y="101.60" font-size="30" fill="#F20068" font-weight="bold" textLength="15.50" lengthAdjust="spacingAndGlyphs">5</text><text transform="translate(399.86,101.60) skewX(-5)" x="0" y="0" font-size="30" fill="#F20068" font-weight="bold" font-style="italic" textLength="18.98" lengthAdjust="spacingAndGlyphs">d</text><text x="419.11" y="114.20" font-size="18.5" fill="#F20068" font-weight="bold" textLength="6.90" lengthAdjust="spacingAndGlyphs">1</text><line x1="432.0" y1="93.0" x2="455.9" y2="93.0" stroke="#F20068" stroke-width="1.9"/><path d="M466.40,93.00 L462.20,91.32 L456.95,90.27 L453.27,90.58 L450.33,88.69 L449.28,89.43 L451.91,92.06 L451.91,93.94 L449.28,96.57 L450.33,97.31 L453.27,95.42 L456.95,95.73 L462.20,94.68 Z" fill="#F20068"/><text x="467.40" y="82.30" font-size="18.5" fill="#F20068" font-weight="bold" textLength="10.23" lengthAdjust="spacingAndGlyphs">2</text><text x="479.17" y="101.60" font-size="30" fill="#F20068" font-weight="bold" textLength="18.14" lengthAdjust="spacingAndGlyphs">F</text><text x="499.10" y="114.20" font-size="18.5" fill="#F20068" font-weight="bold" textLength="25.97" lengthAdjust="spacing">7/2</text>
<line x1="431.8" y1="422.8" x2="499.3" y2="422.8" stroke="#000000" stroke-width="2.2"/><path d="M515.6,422.6 L510.1,432.3" stroke="#000" stroke-width="2.3" fill="none"/><path d="M509.5,418.6 C510.0,415.2 513.8,414.6 514.9,418.2 L515.6,421.8 C516.6,426.5 517.6,432.4 520.0,432.4 C521.2,432.4 522.0,431.3 522.4,430.2" stroke="#000" stroke-width="1.5" fill="none"/><text x="522.85" y="446.30" font-size="14.3" fill="#000" textLength="15.05" lengthAdjust="spacing">ex</text><text x="540.13" y="446.30" font-size="14.3" fill="#000" textLength="7.41" lengthAdjust="spacingAndGlyphs">c</text><text x="555.41" y="432.70" font-size="26.8" fill="#000" textLength="14.30" lengthAdjust="spacingAndGlyphs">=</text><text x="578.30" y="432.70" font-size="26.8" fill="#000" textLength="45.34" lengthAdjust="spacing">244</text><text x="633.20" y="432.70" font-size="26.8" fill="#000" textLength="35.91" lengthAdjust="spacing">nm</text><text x="678.97" y="433.50" font-size="29.5" fill="#000" textLength="8.87" lengthAdjust="spacingAndGlyphs">(</text><text x="690.04" y="414.40" font-size="14.3" fill="#000" textLength="8.54" lengthAdjust="spacingAndGlyphs">2</text><text x="698.83" y="432.70" font-size="26.8" fill="#000" textLength="16.09" lengthAdjust="spacingAndGlyphs">F</text><text x="715.70" y="446.20" font-size="14.3" fill="#000" textLength="21.71" lengthAdjust="spacing">5/2</text><line x1="734.6" y1="424.9" x2="754.6" y2="424.9" stroke="#000" stroke-width="1.8"/><path d="M764.60,424.90 L760.60,423.30 L755.60,422.30 L752.10,422.60 L749.30,420.80 L748.30,421.50 L750.80,424.00 L750.80,425.80 L748.30,428.30 L749.30,429.00 L752.10,427.20 L755.60,427.50 L760.60,426.50 Z" fill="#000"/><text x="770.37" y="432.70" font-size="26.8" fill="#000" textLength="12.86" lengthAdjust="spacingAndGlyphs">5</text><text transform="translate(786.10,432.70) skewX(-6)" x="0" y="0" font-size="26.8" fill="#000" font-style="italic" textLength="14.83" lengthAdjust="spacingAndGlyphs">d</text><text x="800.07" y="446.20" font-size="14.3" fill="#000" textLength="9.27" lengthAdjust="spacingAndGlyphs">2</text><text x="811.34" y="433.50" font-size="29.5" fill="#000" textLength="8.24" lengthAdjust="spacingAndGlyphs">)</text>
<line x1="431.8" y1="482.1" x2="499.3" y2="482.1" stroke="#007000" stroke-width="2.2"/><path d="M514.4,481.9 L508.9,491.6" stroke="#000" stroke-width="2.3" fill="none"/><path d="M508.3,477.9 C508.8,474.5 512.6,473.9 513.7,477.5 L514.4,481.1 C515.4,485.8 516.4,491.7 518.8,491.7 C520.0,491.7 520.8,490.6 521.2,489.5" stroke="#000" stroke-width="1.5" fill="none"/><text x="521.65" y="505.60" font-size="14.3" fill="#000" textLength="15.05" lengthAdjust="spacing">ex</text><text x="538.93" y="505.60" font-size="14.3" fill="#000" textLength="7.41" lengthAdjust="spacingAndGlyphs">c</text><text x="554.21" y="492.00" font-size="26.8" fill="#000" textLength="14.30" lengthAdjust="spacingAndGlyphs">=</text><text x="577.58" y="492.00" font-size="26.8" fill="#000" textLength="44.51" lengthAdjust="spacing">226</text><text x="633.20" y="492.00" font-size="26.8" fill="#000" textLength="35.91" lengthAdjust="spacing">nm</text><text x="677.77" y="492.80" font-size="29.5" fill="#000" textLength="8.87" lengthAdjust="spacingAndGlyphs">(</text><text x="688.84" y="473.70" font-size="14.3" fill="#000" textLength="8.54" lengthAdjust="spacingAndGlyphs">2</text><text x="697.63" y="492.00" font-size="26.8" fill="#000" textLength="16.09" lengthAdjust="spacingAndGlyphs">F</text><text x="714.50" y="505.50" font-size="14.3" fill="#000" textLength="21.71" lengthAdjust="spacing">5/2</text><line x1="731.7" y1="484.2" x2="751.7" y2="484.2" stroke="#000" stroke-width="1.8"/><path d="M761.72,484.20 L757.72,482.60 L752.72,481.60 L749.22,481.90 L746.42,480.10 L745.42,480.80 L747.92,483.30 L747.92,485.10 L745.42,487.60 L746.42,488.30 L749.22,486.50 L752.72,486.80 L757.72,485.80 Z" fill="#000"/><text x="767.97" y="492.00" font-size="26.8" fill="#000" textLength="12.86" lengthAdjust="spacingAndGlyphs">5</text><text transform="translate(785.14,492.00) skewX(-6)" x="0" y="0" font-size="26.8" fill="#000" font-style="italic" textLength="14.83" lengthAdjust="spacingAndGlyphs">d</text><text x="799.19" y="505.50" font-size="14.3" fill="#000" textLength="8.92" lengthAdjust="spacingAndGlyphs">3</text><text x="810.14" y="492.80" font-size="29.5" fill="#000" textLength="8.24" lengthAdjust="spacingAndGlyphs">)</text>
<line x1="844.8" y1="422.8" x2="912.3" y2="422.8" stroke="#FF7400" stroke-width="2.2"/><path d="M928.6,422.6 L923.1,432.3" stroke="#000" stroke-width="2.3" fill="none"/><path d="M922.5,418.6 C923.0,415.2 926.8,414.6 927.9,418.2 L928.6,421.8 C929.6,426.5 930.6,432.4 933.0,432.4 C934.2,432.4 935.0,431.3 935.4,430.2" stroke="#000" stroke-width="1.5" fill="none"/><text x="935.85" y="446.30" font-size="14.3" fill="#000" textLength="15.05" lengthAdjust="spacing">ex</text><text x="953.13" y="446.30" font-size="14.3" fill="#000" textLength="7.41" lengthAdjust="spacingAndGlyphs">c</text><text x="968.41" y="432.70" font-size="26.8" fill="#000" textLength="14.30" lengthAdjust="spacingAndGlyphs">=</text><text x="991.30" y="432.70" font-size="26.8" fill="#000" textLength="45.34" lengthAdjust="spacing">214</text><text x="1046.20" y="432.70" font-size="26.8" fill="#000" textLength="35.91" lengthAdjust="spacing">nm</text><text x="1091.97" y="433.50" font-size="29.5" fill="#000" textLength="8.87" lengthAdjust="spacingAndGlyphs">(</text><text x="1103.04" y="414.40" font-size="14.3" fill="#000" textLength="8.54" lengthAdjust="spacingAndGlyphs">2</text><text x="1111.83" y="432.70" font-size="26.8" fill="#000" textLength="16.09" lengthAdjust="spacingAndGlyphs">F</text><text x="1128.70" y="446.20" font-size="14.3" fill="#000" textLength="21.71" lengthAdjust="spacing">5/2</text><line x1="1147.6" y1="424.9" x2="1167.6" y2="424.9" stroke="#000" stroke-width="1.8"/><path d="M1177.60,424.90 L1173.60,423.30 L1168.60,422.30 L1165.10,422.60 L1162.30,420.80 L1161.30,421.50 L1163.80,424.00 L1163.80,425.80 L1161.30,428.30 L1162.30,429.00 L1165.10,427.20 L1168.60,427.50 L1173.60,426.50 Z" fill="#000"/><text x="1183.37" y="432.70" font-size="26.8" fill="#000" textLength="12.86" lengthAdjust="spacingAndGlyphs">5</text><text transform="translate(1199.10,432.70) skewX(-6)" x="0" y="0" font-size="26.8" fill="#000" font-style="italic" textLength="14.83" lengthAdjust="spacingAndGlyphs">d</text><text x="1213.69" y="446.20" font-size="14.3" fill="#000" textLength="8.31" lengthAdjust="spacingAndGlyphs">4</text><text x="1224.34" y="433.50" font-size="29.5" fill="#000" textLength="8.24" lengthAdjust="spacingAndGlyphs">)</text>
<line x1="844.8" y1="482.1" x2="912.3" y2="482.1" stroke="#0000FF" stroke-width="2.2"/><path d="M927.3,481.9 L921.8,491.6" stroke="#000" stroke-width="2.3" fill="none"/><path d="M921.2,477.9 C921.7,474.5 925.5,473.9 926.6,477.5 L927.3,481.1 C928.3,485.8 929.3,491.7 931.7,491.7 C932.9,491.7 933.7,490.6 934.1,489.5" stroke="#000" stroke-width="1.5" fill="none"/><text x="934.55" y="505.60" font-size="14.3" fill="#000" textLength="15.05" lengthAdjust="spacing">ex</text><text x="951.83" y="505.60" font-size="14.3" fill="#000" textLength="7.41" lengthAdjust="spacingAndGlyphs">c</text><text x="967.11" y="492.00" font-size="26.8" fill="#000" textLength="14.30" lengthAdjust="spacingAndGlyphs">=</text><text x="989.77" y="492.00" font-size="26.8" fill="#000" textLength="44.92" lengthAdjust="spacing">194</text><text x="1046.20" y="492.00" font-size="26.8" fill="#000" textLength="35.91" lengthAdjust="spacing">nm</text><text x="1090.67" y="492.80" font-size="29.5" fill="#000" textLength="8.87" lengthAdjust="spacingAndGlyphs">(</text><text x="1101.74" y="473.70" font-size="14.3" fill="#000" textLength="8.54" lengthAdjust="spacingAndGlyphs">2</text><text x="1110.53" y="492.00" font-size="26.8" fill="#000" textLength="16.09" lengthAdjust="spacingAndGlyphs">F</text><text x="1127.40" y="505.50" font-size="14.3" fill="#000" textLength="21.71" lengthAdjust="spacing">5/2</text><line x1="1144.5" y1="484.2" x2="1164.5" y2="484.2" stroke="#000" stroke-width="1.8"/><path d="M1174.48,484.20 L1170.48,482.60 L1165.48,481.60 L1161.98,481.90 L1159.18,480.10 L1158.18,480.80 L1160.68,483.30 L1160.68,485.10 L1158.18,487.60 L1159.18,488.30 L1161.98,486.50 L1165.48,486.80 L1170.48,485.80 Z" fill="#000"/><text x="1180.77" y="492.00" font-size="26.8" fill="#000" textLength="12.86" lengthAdjust="spacingAndGlyphs">5</text><text transform="translate(1198.06,492.00) skewX(-6)" x="0" y="0" font-size="26.8" fill="#000" font-style="italic" textLength="14.83" lengthAdjust="spacingAndGlyphs">d</text><text x="1211.77" y="505.50" font-size="14.3" fill="#000" textLength="9.27" lengthAdjust="spacingAndGlyphs">5</text><text x="1223.04" y="492.80" font-size="29.5" fill="#000" textLength="8.24" lengthAdjust="spacingAndGlyphs">)</text>
</svg></body></html>
